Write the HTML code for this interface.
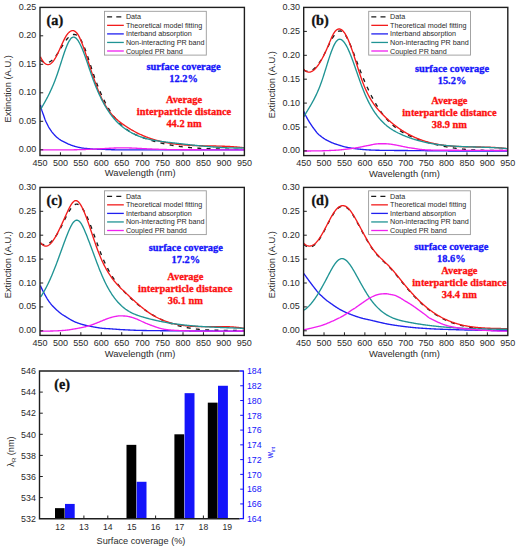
<!DOCTYPE html><html><head><meta charset="utf-8"><style>html,body{margin:0;padding:0;background:#fff;}svg{display:block;}</style></head><body>
<svg width="519" height="550" viewBox="0 0 519 550">
<rect width="519" height="550" fill="#fff"/>
<clipPath id="clipa"><rect x="40.00" y="7.40" width="204.40" height="148.10"/></clipPath>
<g clip-path="url(#clipa)" fill="none" stroke-width="1.35" stroke-linejoin="round" stroke-linecap="butt">
<path d="M40.50,59.98 L41.00,60.43 L41.50,60.84 L42.00,61.21 L42.50,61.53 L43.00,61.82 L43.50,62.06 L44.00,62.26 L44.50,62.42 L45.00,62.54 L45.50,62.62 L46.00,62.67 L46.50,62.67 L47.00,62.64 L47.50,62.56 L48.00,62.45 L48.50,62.30 L49.00,62.12 L49.50,61.90 L50.00,61.64 L50.50,61.34 L51.00,61.02 L51.50,60.65 L52.00,60.25 L52.50,59.82 L53.00,59.36 L53.50,58.86 L54.00,58.32 L54.50,57.76 L55.00,57.16 L55.50,56.53 L56.00,55.87 L56.50,55.18 L57.00,54.46 L57.50,53.71 L58.00,52.95 L58.50,52.16 L59.00,51.36 L59.50,50.55 L60.00,49.73 L60.50,48.90 L61.00,48.07 L61.50,47.25 L62.00,46.42 L62.50,45.60 L63.00,44.79 L63.50,43.99 L64.00,43.21 L64.50,42.45 L65.00,41.71 L65.50,41.00 L66.00,40.32 L66.50,39.66 L67.00,39.04 L67.50,38.45 L68.00,37.90 L68.50,37.39 L69.00,36.91 L69.50,36.47 L70.00,36.07 L70.50,35.71 L71.00,35.40 L71.50,35.13 L72.00,34.90 L72.50,34.73 L73.00,34.60 L73.50,34.52 L74.00,34.49 L74.50,34.51 L75.00,34.59 L75.50,34.72 L76.00,34.91 L76.50,35.16 L77.00,35.47 L77.50,35.83 L78.00,36.26 L78.50,36.75 L79.00,37.31 L79.50,37.93 L80.00,38.61 L80.50,39.37 L81.00,40.20 L81.50,41.09 L82.00,42.05 L82.50,43.08 L83.00,44.17 L83.50,45.31 L84.00,46.50 L84.50,47.75 L85.00,49.03 L85.50,50.36 L86.00,51.73 L86.50,53.13 L87.00,54.56 L87.50,56.02 L88.00,57.50 L88.50,59.00 L89.00,60.51 L89.50,62.04 L90.00,63.57 L90.50,65.11 L91.00,66.64 L91.50,68.18 L92.00,69.70 L92.50,71.22 L93.00,72.72 L93.50,74.20 L94.00,75.66 L94.50,77.10 L95.00,78.51 L95.50,79.90 L96.00,81.27 L96.50,82.61 L97.00,83.93 L97.50,85.22 L98.00,86.50 L98.50,87.75 L99.00,88.98 L99.50,90.19 L100.00,91.37 L100.50,92.54 L101.00,93.68 L101.50,94.80 L102.00,95.90 L102.50,96.98 L103.00,98.05 L103.50,99.09 L104.00,100.11 L104.50,101.11 L105.00,102.09 L105.50,103.05 L106.00,104.00 L106.50,104.92 L107.00,105.83 L107.50,106.72 L108.00,107.59 L108.50,108.44 L109.00,109.28 L109.50,110.10 L110.00,110.90 L110.50,111.69 L111.00,112.45 L111.50,113.20 L112.00,113.94 L112.50,114.66 L113.00,115.36 L113.50,116.05 L114.00,116.73 L114.50,117.38 L115.00,118.03 L115.50,118.66 L116.00,119.27 L116.50,119.87 L117.00,120.46 L117.50,121.03 L118.00,121.59 L118.50,122.14 L119.00,122.68 L119.50,123.20 L120.00,123.71 L120.50,124.20 L121.00,124.69 L121.50,125.16 L122.00,125.62 L122.50,126.07 L123.00,126.51 L123.50,126.94 L124.00,127.36 L124.50,127.77 L125.00,128.16 L125.50,128.55 L126.00,128.93 L126.50,129.30 L127.00,129.66 L127.50,130.01 L128.00,130.35 L128.50,130.68 L129.00,131.01 L129.50,131.32 L130.00,131.63 L130.50,131.93 L131.00,132.22 L131.50,132.51 L132.00,132.79 L132.50,133.06 L133.00,133.33 L133.50,133.59 L134.00,133.85 L134.50,134.09 L135.00,134.34 L135.50,134.57 L136.00,134.81 L136.50,135.03 L137.00,135.26 L137.50,135.48 L138.00,135.69 L138.50,135.90 L139.00,136.11 L139.50,136.31 L140.00,136.51 L140.50,136.71 L141.00,136.90 L141.50,137.10 L142.00,137.29 L142.50,137.47 L143.00,137.66 L143.50,137.84 L144.00,138.02 L144.50,138.20 L145.00,138.38 L145.50,138.56 L146.00,138.73 L146.50,138.90 L147.00,139.07 L147.50,139.24 L148.00,139.40 L148.50,139.57 L149.00,139.73 L149.50,139.89 L150.00,140.05 L150.50,140.20 L151.00,140.36 L151.50,140.51 L152.00,140.66 L152.50,140.81 L153.00,140.95 L153.50,141.10 L154.00,141.24 L154.50,141.38 L155.00,141.52 L155.50,141.66 L156.00,141.80 L156.50,141.93 L157.00,142.06 L157.50,142.19 L158.00,142.32 L158.50,142.45 L159.00,142.58 L159.50,142.70 L160.00,142.82 L160.50,142.94 L161.00,143.06 L161.50,143.18 L162.00,143.30 L162.50,143.41 L163.00,143.52 L163.50,143.63 L164.00,143.74 L164.50,143.85 L165.00,143.96 L165.50,144.06 L166.00,144.17 L166.50,144.27 L167.00,144.37 L167.50,144.47 L168.00,144.57 L168.50,144.66 L169.00,144.76 L169.50,144.85 L170.00,144.94 L170.50,145.03 L171.00,145.12 L171.50,145.21 L172.00,145.29 L172.50,145.38 L173.00,145.46 L173.50,145.54 L174.00,145.63 L174.50,145.70 L175.00,145.78 L175.50,145.86 L176.00,145.94 L176.50,146.01 L177.00,146.08 L177.50,146.16 L178.00,146.23 L178.50,146.30 L179.00,146.36 L179.50,146.43 L180.00,146.50 L180.50,146.56 L181.00,146.63 L181.50,146.69 L182.00,146.75 L182.50,146.81 L183.00,146.87 L183.50,146.93 L184.00,146.98 L184.50,147.04 L185.00,147.10 L185.50,147.15 L186.00,147.20 L186.50,147.25 L187.00,147.30 L187.50,147.35 L188.00,147.40 L188.50,147.45 L189.00,147.50 L189.50,147.54 L190.00,147.59 L190.50,147.63 L191.00,147.68 L191.50,147.72 L192.00,147.76 L192.50,147.80 L193.00,147.84 L193.50,147.88 L194.00,147.92 L194.50,147.95 L195.00,147.99 L195.50,148.03 L196.00,148.06 L196.50,148.10 L197.00,148.13 L197.50,148.16 L198.00,148.19 L198.50,148.22 L199.00,148.25 L199.50,148.28 L200.00,148.31 L200.50,148.34 L201.00,148.37 L201.50,148.40 L202.00,148.42 L202.50,148.45 L203.00,148.47 L203.50,148.50 L204.00,148.52 L204.50,148.54 L205.00,148.57 L205.50,148.59 L206.00,148.61 L206.50,148.63 L207.00,148.65 L207.50,148.67 L208.00,148.69 L208.50,148.71 L209.00,148.73 L209.50,148.75 L210.00,148.76 L210.50,148.78 L211.00,148.80 L211.50,148.82 L212.00,148.83 L212.50,148.85 L213.00,148.86 L213.50,148.88 L214.00,148.89 L214.50,148.91 L215.00,148.92 L215.50,148.93 L216.00,148.95 L216.50,148.96 L217.00,148.97 L217.50,148.98 L218.00,149.00 L218.50,149.01 L219.00,149.02 L219.50,149.03 L220.00,149.04 L220.50,149.05 L221.00,149.06 L221.50,149.07 L222.00,149.08 L222.50,149.10 L223.00,149.11 L223.50,149.12 L224.00,149.13 L224.50,149.14 L225.00,149.15 L225.50,149.15 L226.00,149.16 L226.50,149.17 L227.00,149.18 L227.50,149.19 L228.00,149.20 L228.50,149.21 L229.00,149.22 L229.50,149.23 L230.00,149.24 L230.50,149.25 L231.00,149.26 L231.50,149.27 L232.00,149.28 L232.50,149.29 L233.00,149.30 L233.50,149.31 L234.00,149.32 L234.50,149.33 L235.00,149.34 L235.50,149.35 L236.00,149.36 L236.50,149.37 L237.00,149.39 L237.50,149.40 L238.00,149.41 L238.50,149.42 L239.00,149.43 L239.50,149.45 L240.00,149.46 L240.50,149.47 L241.00,149.48 L241.50,149.50 L242.00,149.51 L242.50,149.53 L243.00,149.54 L243.50,149.56 L244.00,149.57" stroke="#1a1a1a" stroke-dasharray="4,5.3"/>
<path d="M40.50,56.80 L41.00,57.83 L41.50,58.78 L42.00,59.65 L42.50,60.45 L43.00,61.18 L43.50,61.84 L44.00,62.42 L44.50,62.93 L45.00,63.37 L45.50,63.75 L46.00,64.05 L46.50,64.28 L47.00,64.45 L47.50,64.55 L48.00,64.59 L48.50,64.56 L49.00,64.46 L49.50,64.30 L50.00,64.08 L50.50,63.80 L51.00,63.45 L51.50,63.05 L52.00,62.58 L52.50,62.05 L53.00,61.47 L53.50,60.83 L54.00,60.13 L54.50,59.38 L55.00,58.58 L55.50,57.74 L56.00,56.85 L56.50,55.93 L57.00,54.97 L57.50,53.98 L58.00,52.96 L58.50,51.91 L59.00,50.83 L59.50,49.74 L60.00,48.63 L60.50,47.51 L61.00,46.38 L61.50,45.25 L62.00,44.13 L62.50,43.02 L63.00,41.93 L63.50,40.87 L64.00,39.85 L64.50,38.86 L65.00,37.93 L65.50,37.05 L66.00,36.21 L66.50,35.43 L67.00,34.71 L67.50,34.04 L68.00,33.42 L68.50,32.87 L69.00,32.37 L69.50,31.93 L70.00,31.55 L70.50,31.23 L71.00,30.98 L71.50,30.79 L72.00,30.67 L72.50,30.61 L73.00,30.62 L73.50,30.70 L74.00,30.85 L74.50,31.07 L75.00,31.36 L75.50,31.72 L76.00,32.16 L76.50,32.68 L77.00,33.27 L77.50,33.94 L78.00,34.68 L78.50,35.51 L79.00,36.41 L79.50,37.39 L80.00,38.43 L80.50,39.53 L81.00,40.70 L81.50,41.92 L82.00,43.19 L82.50,44.50 L83.00,45.86 L83.50,47.26 L84.00,48.70 L84.50,50.16 L85.00,51.65 L85.50,53.16 L86.00,54.69 L86.50,56.24 L87.00,57.79 L87.50,59.35 L88.00,60.91 L88.50,62.47 L89.00,64.02 L89.50,65.57 L90.00,67.11 L90.50,68.63 L91.00,70.15 L91.50,71.65 L92.00,73.15 L92.50,74.63 L93.00,76.09 L93.50,77.54 L94.00,78.98 L94.50,80.39 L95.00,81.79 L95.50,83.17 L96.00,84.53 L96.50,85.87 L97.00,87.19 L97.50,88.49 L98.00,89.76 L98.50,91.01 L99.00,92.23 L99.50,93.43 L100.00,94.59 L100.50,95.73 L101.00,96.84 L101.50,97.93 L102.00,98.98 L102.50,100.00 L103.00,100.99 L103.50,101.95 L104.00,102.89 L104.50,103.80 L105.00,104.68 L105.50,105.54 L106.00,106.37 L106.50,107.18 L107.00,107.96 L107.50,108.72 L108.00,109.46 L108.50,110.18 L109.00,110.88 L109.50,111.55 L110.00,112.20 L110.50,112.84 L111.00,113.46 L111.50,114.06 L112.00,114.64 L112.50,115.20 L113.00,115.75 L113.50,116.28 L114.00,116.80 L114.50,117.30 L115.00,117.79 L115.50,118.27 L116.00,118.74 L116.50,119.19 L117.00,119.63 L117.50,120.06 L118.00,120.49 L118.50,120.90 L119.00,121.30 L119.50,121.70 L120.00,122.09 L120.50,122.47 L121.00,122.85 L121.50,123.22 L122.00,123.59 L122.50,123.95 L123.00,124.31 L123.50,124.66 L124.00,125.01 L124.50,125.36 L125.00,125.70 L125.50,126.04 L126.00,126.37 L126.50,126.70 L127.00,127.03 L127.50,127.35 L128.00,127.67 L128.50,127.99 L129.00,128.30 L129.50,128.61 L130.00,128.91 L130.50,129.21 L131.00,129.51 L131.50,129.80 L132.00,130.09 L132.50,130.38 L133.00,130.66 L133.50,130.94 L134.00,131.22 L134.50,131.49 L135.00,131.76 L135.50,132.02 L136.00,132.28 L136.50,132.54 L137.00,132.80 L137.50,133.05 L138.00,133.30 L138.50,133.54 L139.00,133.78 L139.50,134.02 L140.00,134.26 L140.50,134.49 L141.00,134.72 L141.50,134.94 L142.00,135.16 L142.50,135.38 L143.00,135.60 L143.50,135.81 L144.00,136.02 L144.50,136.23 L145.00,136.43 L145.50,136.63 L146.00,136.83 L146.50,137.03 L147.00,137.22 L147.50,137.41 L148.00,137.59 L148.50,137.78 L149.00,137.96 L149.50,138.14 L150.00,138.31 L150.50,138.48 L151.00,138.65 L151.50,138.82 L152.00,138.98 L152.50,139.14 L153.00,139.30 L153.50,139.46 L154.00,139.61 L154.50,139.76 L155.00,139.91 L155.50,140.06 L156.00,140.20 L156.50,140.34 L157.00,140.48 L157.50,140.62 L158.00,140.75 L158.50,140.88 L159.00,141.01 L159.50,141.14 L160.00,141.26 L160.50,141.38 L161.00,141.50 L161.50,141.62 L162.00,141.73 L162.50,141.85 L163.00,141.96 L163.50,142.07 L164.00,142.17 L164.50,142.28 L165.00,142.38 L165.50,142.48 L166.00,142.58 L166.50,142.67 L167.00,142.77 L167.50,142.86 L168.00,142.95 L168.50,143.04 L169.00,143.12 L169.50,143.21 L170.00,143.29 L170.50,143.37 L171.00,143.45 L171.50,143.53 L172.00,143.60 L172.50,143.68 L173.00,143.75 L173.50,143.82 L174.00,143.89 L174.50,143.95 L175.00,144.02 L175.50,144.08 L176.00,144.15 L176.50,144.21 L177.00,144.26 L177.50,144.32 L178.00,144.38 L178.50,144.43 L179.00,144.49 L179.50,144.54 L180.00,144.59 L180.50,144.64 L181.00,144.68 L181.50,144.73 L182.00,144.78 L182.50,144.82 L183.00,144.86 L183.50,144.90 L184.00,144.94 L184.50,144.98 L185.00,145.02 L185.50,145.06 L186.00,145.09 L186.50,145.12 L187.00,145.16 L187.50,145.19 L188.00,145.22 L188.50,145.25 L189.00,145.28 L189.50,145.31 L190.00,145.34 L190.50,145.36 L191.00,145.39 L191.50,145.41 L192.00,145.44 L192.50,145.46 L193.00,145.48 L193.50,145.50 L194.00,145.52 L194.50,145.54 L195.00,145.56 L195.50,145.58 L196.00,145.60 L196.50,145.61 L197.00,145.63 L197.50,145.65 L198.00,145.66 L198.50,145.68 L199.00,145.69 L199.50,145.71 L200.00,145.72 L200.50,145.73 L201.00,145.75 L201.50,145.76 L202.00,145.77 L202.50,145.78 L203.00,145.79 L203.50,145.80 L204.00,145.81 L204.50,145.82 L205.00,145.83 L205.50,145.84 L206.00,145.85 L206.50,145.86 L207.00,145.87 L207.50,145.88 L208.00,145.89 L208.50,145.90 L209.00,145.91 L209.50,145.92 L210.00,145.92 L210.50,145.93 L211.00,145.94 L211.50,145.95 L212.00,145.96 L212.50,145.97 L213.00,145.98 L213.50,145.99 L214.00,146.00 L214.50,146.01 L215.00,146.02 L215.50,146.03 L216.00,146.04 L216.50,146.05 L217.00,146.06 L217.50,146.07 L218.00,146.09 L218.50,146.10 L219.00,146.11 L219.50,146.12 L220.00,146.14 L220.50,146.15 L221.00,146.17 L221.50,146.18 L222.00,146.20 L222.50,146.21 L223.00,146.23 L223.50,146.25 L224.00,146.26 L224.50,146.28 L225.00,146.30 L225.50,146.32 L226.00,146.34 L226.50,146.37 L227.00,146.39 L227.50,146.41 L228.00,146.44 L228.50,146.46 L229.00,146.49 L229.50,146.51 L230.00,146.54 L230.50,146.57 L231.00,146.60 L231.50,146.63 L232.00,146.66 L232.50,146.69 L233.00,146.73 L233.50,146.76 L234.00,146.80 L234.50,146.83 L235.00,146.87 L235.50,146.91 L236.00,146.95 L236.50,146.99 L237.00,147.04 L237.50,147.08 L238.00,147.13 L238.50,147.17 L239.00,147.22 L239.50,147.27 L240.00,147.32 L240.50,147.37 L241.00,147.43 L241.50,147.48 L242.00,147.54 L242.50,147.60 L243.00,147.66 L243.50,147.72 L244.00,147.78" stroke="#f21c1c"/>
<path d="M40.50,105.00 L41.00,107.20 L41.50,109.19 L42.00,110.88 L42.50,112.35 L43.00,113.72 L43.50,115.10 L44.00,116.56 L44.50,118.02 L45.00,119.39 L45.50,120.62 L46.00,121.74 L46.50,122.79 L47.00,123.80 L47.50,124.79 L48.00,125.77 L48.50,126.71 L49.00,127.60 L49.50,128.44 L50.00,129.22 L50.50,129.98 L51.00,130.70 L51.50,131.39 L52.00,132.05 L52.50,132.68 L53.00,133.28 L53.50,133.86 L54.00,134.42 L54.50,134.96 L55.00,135.48 L55.50,135.99 L56.00,136.47 L56.50,136.94 L57.00,137.38 L57.50,137.80 L58.00,138.20 L58.50,138.59 L59.00,138.97 L59.50,139.33 L60.00,139.67 L60.50,140.00 L61.00,140.32 L61.50,140.62 L62.00,140.91 L62.50,141.19 L63.00,141.44 L63.50,141.69 L64.00,141.93 L64.50,142.16 L65.00,142.40 L65.50,142.64 L66.00,142.88 L66.50,143.12 L67.00,143.36 L67.50,143.59 L68.00,143.83 L68.50,144.05 L69.00,144.27 L69.50,144.48 L70.00,144.68 L70.50,144.88 L71.00,145.07 L71.50,145.26 L72.00,145.44 L72.50,145.62 L73.00,145.80 L73.50,145.96 L74.00,146.12 L74.50,146.27 L75.00,146.41 L75.50,146.55 L76.00,146.69 L76.50,146.82 L77.00,146.94 L77.50,147.06 L78.00,147.18 L78.50,147.29 L79.00,147.40 L79.50,147.50 L80.00,147.60 L80.50,147.70 L81.00,147.79 L81.50,147.88 L82.00,147.97 L82.50,148.05 L83.00,148.13 L83.50,148.20 L84.00,148.27 L84.50,148.32 L85.00,148.37 L85.50,148.42 L86.00,148.46 L86.50,148.50 L87.00,148.54 L87.50,148.58 L88.00,148.61 L88.50,148.65 L89.00,148.69 L89.50,148.73 L90.00,148.78 L90.50,148.83 L91.00,148.87 L91.50,148.92 L92.00,148.97 L92.50,149.01 L93.00,149.05 L93.50,149.08 L94.00,149.10 L94.50,149.13 L95.00,149.15 L95.50,149.17 L96.00,149.19 L96.50,149.20 L97.00,149.22 L97.50,149.23 L98.00,149.25 L98.50,149.26 L99.00,149.28 L99.50,149.29 L100.00,149.30 L100.50,149.31 L101.00,149.33 L101.50,149.34 L102.00,149.35 L102.50,149.37 L103.00,149.38 L103.50,149.40 L104.00,149.42 L104.50,149.44 L105.00,149.45 L105.50,149.47 L106.00,149.49 L106.50,149.52 L107.00,149.54 L107.50,149.56 L108.00,149.58 L108.50,149.60 L109.00,149.62 L109.50,149.64 L110.00,149.66 L110.50,149.68 L111.00,149.70 L111.50,149.72 L112.00,149.73 L112.50,149.75 L113.00,149.76 L113.50,149.78 L114.00,149.79 L114.50,149.79 L115.00,149.80 L115.50,149.81 L116.00,149.81 L116.50,149.81 L117.00,149.82 L117.50,149.82 L118.00,149.83 L118.50,149.83 L119.00,149.84 L119.50,149.84 L120.00,149.85 L120.50,149.85 L121.00,149.85 L121.50,149.86 L122.00,149.86 L122.50,149.86 L123.00,149.87 L123.50,149.87 L124.00,149.87 L124.50,149.88 L125.00,149.88 L125.50,149.88 L126.00,149.88 L126.50,149.89 L127.00,149.89 L127.50,149.89 L128.00,149.89 L128.50,149.89 L129.00,149.89 L129.50,149.90 L130.00,149.90 L130.50,149.90 L131.00,149.90 L131.50,149.90 L132.00,149.90 L132.50,149.90 L133.00,149.90 L133.50,149.90 L134.00,149.90 L134.50,149.90 L135.00,149.90 L135.50,149.90 L136.00,149.90 L136.50,149.90 L137.00,149.90 L137.50,149.90 L138.00,149.90 L138.50,149.90 L139.00,149.90 L139.50,149.90 L140.00,149.90 L140.50,149.90 L141.00,149.90 L141.50,149.90 L142.00,149.90 L142.50,149.90 L143.00,149.90 L143.50,149.90 L144.00,149.90 L144.50,149.90 L145.00,149.90 L145.50,149.90 L146.00,149.90 L146.50,149.90 L147.00,149.90 L147.50,149.90 L148.00,149.90 L148.50,149.90 L149.00,149.90 L149.50,149.90 L150.00,149.90 L150.50,149.90 L151.00,149.90 L151.50,149.90 L152.00,149.90 L152.50,149.90 L153.00,149.90 L153.50,149.90 L154.00,149.90 L154.50,149.90 L155.00,149.90 L155.50,149.90 L156.00,149.90 L156.50,149.90 L157.00,149.90 L157.50,149.90 L158.00,149.90 L158.50,149.90 L159.00,149.90 L159.50,149.90 L160.00,149.90 L160.50,149.90 L161.00,149.90 L161.50,149.90 L162.00,149.90 L162.50,149.90 L163.00,149.90 L163.50,149.90 L164.00,149.90 L164.50,149.90 L165.00,149.90 L165.50,149.90 L166.00,149.90 L166.50,149.90 L167.00,149.90 L167.50,149.90 L168.00,149.90 L168.50,149.90 L169.00,149.90 L169.50,149.90 L170.00,149.90 L170.50,149.90 L171.00,149.90 L171.50,149.90 L172.00,149.90 L172.50,149.90 L173.00,149.90 L173.50,149.90 L174.00,149.90 L174.50,149.90 L175.00,149.90 L175.50,149.90 L176.00,149.90 L176.50,149.90 L177.00,149.90 L177.50,149.90 L178.00,149.90 L178.50,149.90 L179.00,149.90 L179.50,149.90 L180.00,149.90 L180.50,149.90 L181.00,149.90 L181.50,149.90 L182.00,149.90 L182.50,149.90 L183.00,149.90 L183.50,149.90 L184.00,149.90 L184.50,149.90 L185.00,149.90 L185.50,149.90 L186.00,149.90 L186.50,149.90 L187.00,149.90 L187.50,149.90 L188.00,149.90 L188.50,149.90 L189.00,149.90 L189.50,149.90 L190.00,149.90 L190.50,149.90 L191.00,149.90 L191.50,149.90 L192.00,149.90 L192.50,149.90 L193.00,149.90 L193.50,149.90 L194.00,149.90 L194.50,149.90 L195.00,149.90 L195.50,149.90 L196.00,149.90 L196.50,149.90 L197.00,149.90 L197.50,149.90 L198.00,149.90 L198.50,149.90 L199.00,149.90 L199.50,149.90 L200.00,149.90 L200.50,149.90 L201.00,149.90 L201.50,149.90 L202.00,149.90 L202.50,149.90 L203.00,149.90 L203.50,149.90 L204.00,149.90 L204.50,149.90 L205.00,149.90 L205.50,149.90 L206.00,149.90 L206.50,149.90 L207.00,149.90 L207.50,149.90 L208.00,149.90 L208.50,149.90 L209.00,149.90 L209.50,149.90 L210.00,149.90 L210.50,149.90 L211.00,149.90 L211.50,149.90 L212.00,149.90 L212.50,149.90 L213.00,149.90 L213.50,149.90 L214.00,149.90 L214.50,149.90 L215.00,149.90 L215.50,149.90 L216.00,149.90 L216.50,149.90 L217.00,149.90 L217.50,149.90 L218.00,149.90 L218.50,149.90 L219.00,149.90 L219.50,149.90 L220.00,149.90 L220.50,149.90 L221.00,149.90 L221.50,149.90 L222.00,149.90 L222.50,149.90 L223.00,149.90 L223.50,149.90 L224.00,149.90 L224.50,149.90 L225.00,149.90 L225.50,149.90 L226.00,149.90 L226.50,149.90 L227.00,149.90 L227.50,149.90 L228.00,149.90 L228.50,149.90 L229.00,149.90 L229.50,149.90 L230.00,149.90 L230.50,149.90 L231.00,149.90 L231.50,149.90 L232.00,149.90 L232.50,149.90 L233.00,149.90 L233.50,149.90 L234.00,149.90 L234.50,149.90 L235.00,149.90 L235.50,149.90 L236.00,149.90 L236.50,149.90 L237.00,149.90 L237.50,149.90 L238.00,149.90 L238.50,149.90 L239.00,149.90 L239.50,149.90 L240.00,149.90 L240.50,149.90 L241.00,149.90 L241.50,149.90 L242.00,149.90 L242.50,149.90 L243.00,149.90 L243.50,149.90 L244.00,149.90" stroke="#2020f0"/>
<path d="M40.60,109.39 L41.10,108.55 L41.60,107.71 L42.10,106.86 L42.60,106.00 L43.10,105.14 L43.60,104.27 L44.10,103.39 L44.60,102.51 L45.10,101.61 L45.60,100.70 L46.10,99.78 L46.60,98.85 L47.10,97.90 L47.60,96.94 L48.10,95.97 L48.60,94.97 L49.10,93.96 L49.60,92.93 L50.10,91.89 L50.60,90.82 L51.10,89.73 L51.60,88.62 L52.10,87.48 L52.60,86.33 L53.10,85.14 L53.60,83.93 L54.10,82.70 L54.60,81.43 L55.10,80.14 L55.60,78.82 L56.10,77.47 L56.60,76.09 L57.10,74.67 L57.60,73.23 L58.10,71.75 L58.60,70.24 L59.10,68.71 L59.60,67.16 L60.10,65.60 L60.60,64.03 L61.10,62.46 L61.60,60.90 L62.10,59.34 L62.60,57.79 L63.10,56.26 L63.60,54.75 L64.10,53.27 L64.60,51.83 L65.10,50.42 L65.60,49.05 L66.10,47.74 L66.60,46.47 L67.10,45.27 L67.60,44.12 L68.10,43.05 L68.60,42.05 L69.10,41.13 L69.60,40.29 L70.10,39.54 L70.60,38.88 L71.10,38.32 L71.60,37.87 L72.10,37.52 L72.60,37.28 L73.10,37.14 L73.60,37.10 L74.10,37.16 L74.60,37.31 L75.10,37.55 L75.60,37.87 L76.10,38.28 L76.60,38.77 L77.10,39.34 L77.60,39.98 L78.10,40.69 L78.60,41.47 L79.10,42.32 L79.60,43.22 L80.10,44.19 L80.60,45.21 L81.10,46.28 L81.60,47.40 L82.10,48.57 L82.60,49.77 L83.10,51.02 L83.60,52.31 L84.10,53.62 L84.60,54.97 L85.10,56.35 L85.60,57.75 L86.10,59.16 L86.60,60.60 L87.10,62.05 L87.60,63.51 L88.10,64.98 L88.60,66.46 L89.10,67.93 L89.60,69.41 L90.10,70.88 L90.60,72.34 L91.10,73.79 L91.60,75.23 L92.10,76.64 L92.60,78.04 L93.10,79.42 L93.60,80.77 L94.10,82.10 L94.60,83.40 L95.10,84.69 L95.60,85.94 L96.10,87.18 L96.60,88.39 L97.10,89.58 L97.60,90.75 L98.10,91.90 L98.60,93.03 L99.10,94.13 L99.60,95.22 L100.10,96.28 L100.60,97.32 L101.10,98.35 L101.60,99.35 L102.10,100.33 L102.60,101.30 L103.10,102.24 L103.60,103.17 L104.10,104.07 L104.60,104.96 L105.10,105.83 L105.60,106.69 L106.10,107.52 L106.60,108.34 L107.10,109.14 L107.60,109.93 L108.10,110.69 L108.60,111.45 L109.10,112.18 L109.60,112.90 L110.10,113.60 L110.60,114.29 L111.10,114.97 L111.60,115.63 L112.10,116.27 L112.60,116.90 L113.10,117.52 L113.60,118.12 L114.10,118.71 L114.60,119.28 L115.10,119.85 L115.60,120.40 L116.10,120.93 L116.60,121.46 L117.10,121.97 L117.60,122.47 L118.10,122.96 L118.60,123.44 L119.10,123.91 L119.60,124.37 L120.10,124.82 L120.60,125.25 L121.10,125.68 L121.60,126.10 L122.10,126.51 L122.60,126.90 L123.10,127.29 L123.60,127.68 L124.10,128.05 L124.60,128.41 L125.10,128.77 L125.60,129.12 L126.10,129.46 L126.60,129.80 L127.10,130.13 L127.60,130.45 L128.10,130.76 L128.60,131.07 L129.10,131.37 L129.60,131.67 L130.10,131.96 L130.60,132.25 L131.10,132.53 L131.60,132.80 L132.10,133.07 L132.60,133.33 L133.10,133.59 L133.60,133.84 L134.10,134.08 L134.60,134.32 L135.10,134.56 L135.60,134.79 L136.10,135.01 L136.60,135.23 L137.10,135.45 L137.60,135.66 L138.10,135.86 L138.60,136.06 L139.10,136.26 L139.60,136.45 L140.10,136.64 L140.60,136.82 L141.10,137.00 L141.60,137.17 L142.10,137.34 L142.60,137.51 L143.10,137.67 L143.60,137.83 L144.10,137.98 L144.60,138.13 L145.10,138.28 L145.60,138.42 L146.10,138.56 L146.60,138.70 L147.10,138.83 L147.60,138.96 L148.10,139.08 L148.60,139.21 L149.10,139.33 L149.60,139.44 L150.10,139.56 L150.60,139.67 L151.10,139.77 L151.60,139.88 L152.10,139.98 L152.60,140.08 L153.10,140.18 L153.60,140.27 L154.10,140.37 L154.60,140.46 L155.10,140.54 L155.60,140.63 L156.10,140.71 L156.60,140.80 L157.10,140.88 L157.60,140.95 L158.10,141.03 L158.60,141.10 L159.10,141.18 L159.60,141.25 L160.10,141.32 L160.60,141.39 L161.10,141.45 L161.60,141.52 L162.10,141.58 L162.60,141.65 L163.10,141.71 L163.60,141.77 L164.10,141.83 L164.60,141.89 L165.10,141.95 L165.60,142.01 L166.10,142.07 L166.60,142.13 L167.10,142.19 L167.60,142.24 L168.10,142.30 L168.60,142.36 L169.10,142.41 L169.60,142.47 L170.10,142.53 L170.60,142.58 L171.10,142.64 L171.60,142.70 L172.10,142.75 L172.60,142.81 L173.10,142.87 L173.60,142.93 L174.10,142.98 L174.60,143.04 L175.10,143.10 L175.60,143.16 L176.10,143.21 L176.60,143.27 L177.10,143.33 L177.60,143.38 L178.10,143.44 L178.60,143.50 L179.10,143.56 L179.60,143.61 L180.10,143.67 L180.60,143.73 L181.10,143.79 L181.60,143.84 L182.10,143.90 L182.60,143.96 L183.10,144.01 L183.60,144.07 L184.10,144.13 L184.60,144.19 L185.10,144.24 L185.60,144.30 L186.10,144.35 L186.60,144.41 L187.10,144.47 L187.60,144.52 L188.10,144.58 L188.60,144.63 L189.10,144.69 L189.60,144.74 L190.10,144.80 L190.60,144.85 L191.10,144.91 L191.60,144.96 L192.10,145.02 L192.60,145.07 L193.10,145.12 L193.60,145.18 L194.10,145.23 L194.60,145.28 L195.10,145.34 L195.60,145.39 L196.10,145.44 L196.60,145.49 L197.10,145.54 L197.60,145.59 L198.10,145.65 L198.60,145.70 L199.10,145.75 L199.60,145.80 L200.10,145.85 L200.60,145.89 L201.10,145.94 L201.60,145.99 L202.10,146.04 L202.60,146.09 L203.10,146.13 L203.60,146.18 L204.10,146.23 L204.60,146.27 L205.10,146.32 L205.60,146.36 L206.10,146.41 L206.60,146.45 L207.10,146.50 L207.60,146.54 L208.10,146.58 L208.60,146.63 L209.10,146.67 L209.60,146.71 L210.10,146.75 L210.60,146.79 L211.10,146.83 L211.60,146.87 L212.10,146.91 L212.60,146.95 L213.10,146.98 L213.60,147.02 L214.10,147.06 L214.60,147.09 L215.10,147.13 L215.60,147.16 L216.10,147.20 L216.60,147.23 L217.10,147.26 L217.60,147.30 L218.10,147.33 L218.60,147.36 L219.10,147.39 L219.60,147.42 L220.10,147.45 L220.60,147.48 L221.10,147.51 L221.60,147.53 L222.10,147.56 L222.60,147.58 L223.10,147.61 L223.60,147.63 L224.10,147.66 L224.60,147.68 L225.10,147.70 L225.60,147.72 L226.10,147.74 L226.60,147.76 L227.10,147.78 L227.60,147.80 L228.10,147.82 L228.60,147.84 L229.10,147.85 L229.60,147.87 L230.10,147.88 L230.60,147.90 L231.10,147.91 L231.60,147.92 L232.10,147.93 L232.60,147.94 L233.10,147.95 L233.60,147.96 L234.10,147.97 L234.60,147.97 L235.10,147.98 L235.60,147.98 L236.10,147.99 L236.60,147.99 L237.10,147.99 L237.60,147.99 L238.10,147.99 L238.60,147.99 L239.10,147.99 L239.60,147.99 L240.10,147.99 L240.60,147.98 L241.10,147.98 L241.60,147.97 L242.10,147.96 L242.60,147.95 L243.10,147.94 L243.60,147.93 L244.10,147.92" stroke="#209494"/>
<path d="M40.50,149.90 L41.00,149.90 L41.50,149.90 L42.00,149.90 L42.50,149.90 L43.00,149.90 L43.50,149.90 L44.00,149.90 L44.50,149.90 L45.00,149.90 L45.50,149.90 L46.00,149.90 L46.50,149.90 L47.00,149.90 L47.50,149.90 L48.00,149.90 L48.50,149.90 L49.00,149.90 L49.50,149.90 L50.00,149.90 L50.50,149.90 L51.00,149.90 L51.50,149.90 L52.00,149.90 L52.50,149.90 L53.00,149.90 L53.50,149.90 L54.00,149.90 L54.50,149.90 L55.00,149.90 L55.50,149.90 L56.00,149.90 L56.50,149.90 L57.00,149.90 L57.50,149.90 L58.00,149.90 L58.50,149.90 L59.00,149.90 L59.50,149.90 L60.00,149.90 L60.50,149.90 L61.00,149.90 L61.50,149.90 L62.00,149.90 L62.50,149.90 L63.00,149.90 L63.50,149.90 L64.00,149.90 L64.50,149.90 L65.00,149.90 L65.50,149.90 L66.00,149.90 L66.50,149.90 L67.00,149.89 L67.50,149.89 L68.00,149.89 L68.50,149.88 L69.00,149.87 L69.50,149.87 L70.00,149.86 L70.50,149.85 L71.00,149.85 L71.50,149.84 L72.00,149.83 L72.50,149.82 L73.00,149.81 L73.50,149.80 L74.00,149.78 L74.50,149.77 L75.00,149.76 L75.50,149.75 L76.00,149.74 L76.50,149.72 L77.00,149.71 L77.50,149.70 L78.00,149.68 L78.50,149.67 L79.00,149.65 L79.50,149.64 L80.00,149.63 L80.50,149.61 L81.00,149.60 L81.50,149.58 L82.00,149.57 L82.50,149.55 L83.00,149.54 L83.50,149.52 L84.00,149.51 L84.50,149.49 L85.00,149.48 L85.50,149.46 L86.00,149.45 L86.50,149.43 L87.00,149.41 L87.50,149.39 L88.00,149.37 L88.50,149.35 L89.00,149.33 L89.50,149.30 L90.00,149.28 L90.50,149.26 L91.00,149.24 L91.50,149.21 L92.00,149.19 L92.50,149.17 L93.00,149.14 L93.50,149.12 L94.00,149.10 L94.50,149.07 L95.00,149.05 L95.50,149.02 L96.00,149.00 L96.50,148.97 L97.00,148.95 L97.50,148.92 L98.00,148.89 L98.50,148.87 L99.00,148.84 L99.50,148.81 L100.00,148.79 L100.50,148.76 L101.00,148.73 L101.50,148.71 L102.00,148.68 L102.50,148.65 L103.00,148.63 L103.50,148.60 L104.00,148.57 L104.50,148.55 L105.00,148.52 L105.50,148.49 L106.00,148.46 L106.50,148.44 L107.00,148.41 L107.50,148.38 L108.00,148.35 L108.50,148.32 L109.00,148.29 L109.50,148.26 L110.00,148.24 L110.50,148.21 L111.00,148.18 L111.50,148.16 L112.00,148.13 L112.50,148.11 L113.00,148.08 L113.50,148.06 L114.00,148.04 L114.50,148.02 L115.00,148.00 L115.50,147.98 L116.00,147.96 L116.50,147.94 L117.00,147.92 L117.50,147.90 L118.00,147.88 L118.50,147.86 L119.00,147.85 L119.50,147.83 L120.00,147.82 L120.50,147.81 L121.00,147.80 L121.50,147.80 L122.00,147.80 L122.50,147.80 L123.00,147.81 L123.50,147.81 L124.00,147.82 L124.50,147.83 L125.00,147.84 L125.50,147.85 L126.00,147.86 L126.50,147.88 L127.00,147.89 L127.50,147.90 L128.00,147.92 L128.50,147.94 L129.00,147.95 L129.50,147.97 L130.00,147.99 L130.50,148.01 L131.00,148.03 L131.50,148.04 L132.00,148.06 L132.50,148.08 L133.00,148.10 L133.50,148.11 L134.00,148.13 L134.50,148.15 L135.00,148.18 L135.50,148.20 L136.00,148.22 L136.50,148.25 L137.00,148.28 L137.50,148.30 L138.00,148.33 L138.50,148.36 L139.00,148.39 L139.50,148.42 L140.00,148.45 L140.50,148.47 L141.00,148.50 L141.50,148.53 L142.00,148.56 L142.50,148.59 L143.00,148.61 L143.50,148.64 L144.00,148.67 L144.50,148.69 L145.00,148.71 L145.50,148.74 L146.00,148.76 L146.50,148.79 L147.00,148.81 L147.50,148.83 L148.00,148.86 L148.50,148.88 L149.00,148.90 L149.50,148.92 L150.00,148.95 L150.50,148.97 L151.00,148.99 L151.50,149.01 L152.00,149.04 L152.50,149.06 L153.00,149.08 L153.50,149.10 L154.00,149.12 L154.50,149.14 L155.00,149.16 L155.50,149.17 L156.00,149.19 L156.50,149.21 L157.00,149.23 L157.50,149.25 L158.00,149.26 L158.50,149.28 L159.00,149.30 L159.50,149.32 L160.00,149.34 L160.50,149.35 L161.00,149.37 L161.50,149.39 L162.00,149.40 L162.50,149.42 L163.00,149.44 L163.50,149.45 L164.00,149.47 L164.50,149.48 L165.00,149.50 L165.50,149.51 L166.00,149.52 L166.50,149.54 L167.00,149.55 L167.50,149.56 L168.00,149.57 L168.50,149.58 L169.00,149.59 L169.50,149.59 L170.00,149.60 L170.50,149.61 L171.00,149.61 L171.50,149.62 L172.00,149.62 L172.50,149.63 L173.00,149.63 L173.50,149.64 L174.00,149.64 L174.50,149.65 L175.00,149.65 L175.50,149.66 L176.00,149.66 L176.50,149.67 L177.00,149.67 L177.50,149.68 L178.00,149.68 L178.50,149.68 L179.00,149.69 L179.50,149.69 L180.00,149.70 L180.50,149.70 L181.00,149.70 L181.50,149.71 L182.00,149.71 L182.50,149.71 L183.00,149.72 L183.50,149.72 L184.00,149.72 L184.50,149.73 L185.00,149.73 L185.50,149.73 L186.00,149.74 L186.50,149.74 L187.00,149.74 L187.50,149.75 L188.00,149.75 L188.50,149.75 L189.00,149.75 L189.50,149.76 L190.00,149.76 L190.50,149.76 L191.00,149.76 L191.50,149.77 L192.00,149.77 L192.50,149.77 L193.00,149.77 L193.50,149.78 L194.00,149.78 L194.50,149.78 L195.00,149.78 L195.50,149.78 L196.00,149.79 L196.50,149.79 L197.00,149.79 L197.50,149.79 L198.00,149.79 L198.50,149.79 L199.00,149.80 L199.50,149.80 L200.00,149.80 L200.50,149.80 L201.00,149.80 L201.50,149.81 L202.00,149.81 L202.50,149.81 L203.00,149.81 L203.50,149.81 L204.00,149.81 L204.50,149.82 L205.00,149.82 L205.50,149.82 L206.00,149.82 L206.50,149.82 L207.00,149.82 L207.50,149.83 L208.00,149.83 L208.50,149.83 L209.00,149.83 L209.50,149.83 L210.00,149.83 L210.50,149.84 L211.00,149.84 L211.50,149.84 L212.00,149.84 L212.50,149.84 L213.00,149.84 L213.50,149.84 L214.00,149.85 L214.50,149.85 L215.00,149.85 L215.50,149.85 L216.00,149.85 L216.50,149.85 L217.00,149.85 L217.50,149.86 L218.00,149.86 L218.50,149.86 L219.00,149.86 L219.50,149.86 L220.00,149.86 L220.50,149.86 L221.00,149.87 L221.50,149.87 L222.00,149.87 L222.50,149.87 L223.00,149.87 L223.50,149.87 L224.00,149.87 L224.50,149.87 L225.00,149.88 L225.50,149.88 L226.00,149.88 L226.50,149.88 L227.00,149.88 L227.50,149.88 L228.00,149.88 L228.50,149.88 L229.00,149.88 L229.50,149.88 L230.00,149.89 L230.50,149.89 L231.00,149.89 L231.50,149.89 L232.00,149.89 L232.50,149.89 L233.00,149.89 L233.50,149.89 L234.00,149.89 L234.50,149.89 L235.00,149.89 L235.50,149.89 L236.00,149.89 L236.50,149.90 L237.00,149.90 L237.50,149.90 L238.00,149.90 L238.50,149.90 L239.00,149.90 L239.50,149.90 L240.00,149.90 L240.50,149.90 L241.00,149.90 L241.50,149.90 L242.00,149.90 L242.50,149.90 L243.00,149.90 L243.50,149.90 L244.00,149.90" stroke="#f020f0"/>
</g>
<rect x="40.00" y="7.40" width="204.40" height="148.10" fill="none" stroke="#1e1e1e" stroke-width="1.4"/>
<text x="40.00" y="166.30" text-anchor="middle" font-size="9" fill="#2a2a2a" font-family='"Liberation Sans", sans-serif'>450</text>
<line x1="60.44" y1="155.50" x2="60.44" y2="152.30" stroke="#1e1e1e" stroke-width="1"/>
<text x="60.44" y="166.30" text-anchor="middle" font-size="9" fill="#2a2a2a" font-family='"Liberation Sans", sans-serif'>500</text>
<line x1="80.88" y1="155.50" x2="80.88" y2="152.30" stroke="#1e1e1e" stroke-width="1"/>
<text x="80.88" y="166.30" text-anchor="middle" font-size="9" fill="#2a2a2a" font-family='"Liberation Sans", sans-serif'>550</text>
<line x1="101.32" y1="155.50" x2="101.32" y2="152.30" stroke="#1e1e1e" stroke-width="1"/>
<text x="101.32" y="166.30" text-anchor="middle" font-size="9" fill="#2a2a2a" font-family='"Liberation Sans", sans-serif'>600</text>
<line x1="121.76" y1="155.50" x2="121.76" y2="152.30" stroke="#1e1e1e" stroke-width="1"/>
<text x="121.76" y="166.30" text-anchor="middle" font-size="9" fill="#2a2a2a" font-family='"Liberation Sans", sans-serif'>650</text>
<line x1="142.20" y1="155.50" x2="142.20" y2="152.30" stroke="#1e1e1e" stroke-width="1"/>
<text x="142.20" y="166.30" text-anchor="middle" font-size="9" fill="#2a2a2a" font-family='"Liberation Sans", sans-serif'>700</text>
<line x1="162.64" y1="155.50" x2="162.64" y2="152.30" stroke="#1e1e1e" stroke-width="1"/>
<text x="162.64" y="166.30" text-anchor="middle" font-size="9" fill="#2a2a2a" font-family='"Liberation Sans", sans-serif'>750</text>
<line x1="183.08" y1="155.50" x2="183.08" y2="152.30" stroke="#1e1e1e" stroke-width="1"/>
<text x="183.08" y="166.30" text-anchor="middle" font-size="9" fill="#2a2a2a" font-family='"Liberation Sans", sans-serif'>800</text>
<line x1="203.52" y1="155.50" x2="203.52" y2="152.30" stroke="#1e1e1e" stroke-width="1"/>
<text x="203.52" y="166.30" text-anchor="middle" font-size="9" fill="#2a2a2a" font-family='"Liberation Sans", sans-serif'>850</text>
<line x1="223.96" y1="155.50" x2="223.96" y2="152.30" stroke="#1e1e1e" stroke-width="1"/>
<text x="223.96" y="166.30" text-anchor="middle" font-size="9" fill="#2a2a2a" font-family='"Liberation Sans", sans-serif'>900</text>
<text x="244.40" y="166.30" text-anchor="middle" font-size="9" fill="#2a2a2a" font-family='"Liberation Sans", sans-serif'>950</text>
<line x1="40.00" y1="149.80" x2="43.20" y2="149.80" stroke="#1e1e1e" stroke-width="1"/>
<text x="36.30" y="152.30" text-anchor="end" font-size="9" fill="#2a2a2a" font-family='"Liberation Sans", sans-serif'>0.00</text>
<line x1="40.00" y1="121.30" x2="43.20" y2="121.30" stroke="#1e1e1e" stroke-width="1"/>
<text x="36.30" y="123.80" text-anchor="end" font-size="9" fill="#2a2a2a" font-family='"Liberation Sans", sans-serif'>0.05</text>
<line x1="40.00" y1="92.80" x2="43.20" y2="92.80" stroke="#1e1e1e" stroke-width="1"/>
<text x="36.30" y="95.30" text-anchor="end" font-size="9" fill="#2a2a2a" font-family='"Liberation Sans", sans-serif'>0.10</text>
<line x1="40.00" y1="64.30" x2="43.20" y2="64.30" stroke="#1e1e1e" stroke-width="1"/>
<text x="36.30" y="66.80" text-anchor="end" font-size="9" fill="#2a2a2a" font-family='"Liberation Sans", sans-serif'>0.15</text>
<line x1="40.00" y1="35.80" x2="43.20" y2="35.80" stroke="#1e1e1e" stroke-width="1"/>
<text x="36.30" y="38.30" text-anchor="end" font-size="9" fill="#2a2a2a" font-family='"Liberation Sans", sans-serif'>0.20</text>
<text x="36.30" y="9.80" text-anchor="end" font-size="9" fill="#2a2a2a" font-family='"Liberation Sans", sans-serif'>0.25</text>
<text x="140.15" y="176.20" text-anchor="middle" font-size="9.35" fill="#2a2a2a" font-family='"Liberation Sans", sans-serif'>Wavelength (nm)</text>
<text transform="translate(10.70,88.80) rotate(-90)" text-anchor="middle" font-size="9.3" fill="#2a2a2a" font-family='"Liberation Sans", sans-serif'>Extinction (A.U.)</text>
<text x="46.60" y="25.10" font-size="14.2" font-weight="bold" fill="#111" stroke="#111" stroke-width="0.35" font-family='"Liberation Serif", serif'>(a)</text>
<rect x="104.50" y="11.30" width="101.80" height="43.80" fill="#fff" stroke="#9a9a9a" stroke-width="0.9"/>
<line x1="107.10" y1="16.80" x2="123.80" y2="16.80" stroke="#1a1a1a" stroke-width="1.3" stroke-dasharray="5,4.2"/>
<text x="125.90" y="19.30" font-size="7.2" fill="#2a2a2a" font-family='"Liberation Sans", sans-serif'>Data</text>
<line x1="107.10" y1="25.35" x2="123.80" y2="25.35" stroke="#f21c1c" stroke-width="1.3"/>
<text x="125.90" y="27.85" font-size="7.2" fill="#2a2a2a" font-family='"Liberation Sans", sans-serif'>Theoretical model fitting</text>
<line x1="107.10" y1="33.90" x2="123.80" y2="33.90" stroke="#2020f0" stroke-width="1.3"/>
<text x="125.90" y="36.40" font-size="7.2" fill="#2a2a2a" font-family='"Liberation Sans", sans-serif'>Interband absorption</text>
<line x1="107.10" y1="42.45" x2="123.80" y2="42.45" stroke="#209494" stroke-width="1.3"/>
<text x="125.90" y="44.95" font-size="7.2" fill="#2a2a2a" font-family='"Liberation Sans", sans-serif'>Non-interacting PR band</text>
<line x1="107.10" y1="51.00" x2="123.80" y2="51.00" stroke="#f020f0" stroke-width="1.3"/>
<text x="125.90" y="53.50" font-size="7.2" fill="#2a2a2a" font-family='"Liberation Sans", sans-serif'>Coupled PR band</text>
<text text-anchor="middle" font-size="10.4" font-weight="bold" fill="#1414fa" stroke="#1414fa" stroke-width="0.3" font-family='"Liberation Serif", serif'><tspan x="183.60" y="70.20">surface coverage</tspan><tspan x="183.60" y="82.20">12.2%</tspan></text>
<text text-anchor="middle" font-size="10.4" font-weight="bold" fill="#fc1010" stroke="#fc1010" stroke-width="0.3" font-family='"Liberation Serif", serif'><tspan x="184.00" y="103.20">Average</tspan><tspan x="184.00" y="115.20">interparticle distance</tspan><tspan x="184.00" y="127.20">44.2 nm</tspan></text>
<clipPath id="clipb"><rect x="303.70" y="7.40" width="204.10" height="148.20"/></clipPath>
<g clip-path="url(#clipb)" fill="none" stroke-width="1.35" stroke-linejoin="round" stroke-linecap="butt">
<path d="M303.70,70.18 L304.20,70.44 L304.70,70.67 L305.20,70.85 L305.70,71.00 L306.20,71.12 L306.70,71.20 L307.20,71.25 L307.70,71.26 L308.20,71.24 L308.70,71.19 L309.20,71.10 L309.70,70.98 L310.20,70.82 L310.70,70.64 L311.20,70.42 L311.70,70.17 L312.20,69.88 L312.70,69.57 L313.20,69.23 L313.70,68.85 L314.20,68.45 L314.70,68.01 L315.20,67.55 L315.70,67.06 L316.20,66.53 L316.70,65.98 L317.20,65.40 L317.70,64.79 L318.20,64.16 L318.70,63.50 L319.20,62.81 L319.70,62.09 L320.20,61.34 L320.70,60.57 L321.20,59.78 L321.70,58.96 L322.20,58.11 L322.70,57.24 L323.20,56.34 L323.70,55.42 L324.20,54.48 L324.70,53.51 L325.20,52.52 L325.70,51.51 L326.20,50.49 L326.70,49.46 L327.20,48.42 L327.70,47.37 L328.20,46.33 L328.70,45.30 L329.20,44.27 L329.70,43.26 L330.20,42.26 L330.70,41.28 L331.20,40.33 L331.70,39.41 L332.20,38.52 L332.70,37.66 L333.20,36.85 L333.70,36.07 L334.20,35.35 L334.70,34.67 L335.20,34.04 L335.70,33.46 L336.20,32.94 L336.70,32.47 L337.20,32.06 L337.70,31.72 L338.20,31.43 L338.70,31.21 L339.20,31.06 L339.70,30.97 L340.20,30.96 L340.70,31.02 L341.20,31.16 L341.70,31.37 L342.20,31.66 L342.70,32.03 L343.20,32.46 L343.70,32.97 L344.20,33.54 L344.70,34.17 L345.20,34.86 L345.70,35.61 L346.20,36.42 L346.70,37.27 L347.20,38.18 L347.70,39.14 L348.20,40.14 L348.70,41.18 L349.20,42.26 L349.70,43.37 L350.20,44.52 L350.70,45.70 L351.20,46.91 L351.70,48.15 L352.20,49.41 L352.70,50.69 L353.20,51.98 L353.70,53.30 L354.20,54.62 L354.70,55.96 L355.20,57.30 L355.70,58.64 L356.20,59.99 L356.70,61.34 L357.20,62.69 L357.70,64.02 L358.20,65.35 L358.70,66.67 L359.20,67.98 L359.70,69.27 L360.20,70.56 L360.70,71.83 L361.20,73.09 L361.70,74.33 L362.20,75.56 L362.70,76.78 L363.20,77.99 L363.70,79.19 L364.20,80.37 L364.70,81.54 L365.20,82.69 L365.70,83.83 L366.20,84.96 L366.70,86.08 L367.20,87.18 L367.70,88.26 L368.20,89.34 L368.70,90.40 L369.20,91.44 L369.70,92.47 L370.20,93.49 L370.70,94.49 L371.20,95.48 L371.70,96.45 L372.20,97.41 L372.70,98.36 L373.20,99.28 L373.70,100.20 L374.20,101.10 L374.70,101.98 L375.20,102.85 L375.70,103.70 L376.20,104.54 L376.70,105.37 L377.20,106.18 L377.70,106.97 L378.20,107.76 L378.70,108.53 L379.20,109.28 L379.70,110.02 L380.20,110.75 L380.70,111.47 L381.20,112.17 L381.70,112.86 L382.20,113.54 L382.70,114.20 L383.20,114.86 L383.70,115.50 L384.20,116.13 L384.70,116.74 L385.20,117.35 L385.70,117.94 L386.20,118.52 L386.70,119.10 L387.20,119.66 L387.70,120.20 L388.20,120.74 L388.70,121.27 L389.20,121.79 L389.70,122.30 L390.20,122.79 L390.70,123.28 L391.20,123.76 L391.70,124.22 L392.20,124.68 L392.70,125.13 L393.20,125.57 L393.70,126.00 L394.20,126.42 L394.70,126.84 L395.20,127.24 L395.70,127.64 L396.20,128.03 L396.70,128.41 L397.20,128.78 L397.70,129.14 L398.20,129.50 L398.70,129.85 L399.20,130.19 L399.70,130.52 L400.20,130.85 L400.70,131.17 L401.20,131.49 L401.70,131.80 L402.20,132.10 L402.70,132.39 L403.20,132.68 L403.70,132.97 L404.20,133.24 L404.70,133.52 L405.20,133.78 L405.70,134.05 L406.20,134.30 L406.70,134.55 L407.20,134.80 L407.70,135.04 L408.20,135.28 L408.70,135.52 L409.20,135.75 L409.70,135.97 L410.20,136.19 L410.70,136.41 L411.20,136.63 L411.70,136.84 L412.20,137.05 L412.70,137.25 L413.20,137.45 L413.70,137.65 L414.20,137.85 L414.70,138.05 L415.20,138.24 L415.70,138.43 L416.20,138.62 L416.70,138.80 L417.20,138.99 L417.70,139.17 L418.20,139.35 L418.70,139.53 L419.20,139.71 L419.70,139.88 L420.20,140.06 L420.70,140.23 L421.20,140.40 L421.70,140.57 L422.20,140.73 L422.70,140.90 L423.20,141.06 L423.70,141.22 L424.20,141.38 L424.70,141.54 L425.20,141.70 L425.70,141.85 L426.20,142.00 L426.70,142.15 L427.20,142.30 L427.70,142.45 L428.20,142.59 L428.70,142.74 L429.20,142.88 L429.70,143.02 L430.20,143.16 L430.70,143.30 L431.20,143.43 L431.70,143.57 L432.20,143.70 L432.70,143.83 L433.20,143.96 L433.70,144.09 L434.20,144.21 L434.70,144.34 L435.20,144.46 L435.70,144.58 L436.20,144.70 L436.70,144.82 L437.20,144.94 L437.70,145.05 L438.20,145.17 L438.70,145.28 L439.20,145.39 L439.70,145.50 L440.20,145.61 L440.70,145.71 L441.20,145.82 L441.70,145.92 L442.20,146.02 L442.70,146.12 L443.20,146.22 L443.70,146.32 L444.20,146.42 L444.70,146.51 L445.20,146.61 L445.70,146.70 L446.20,146.79 L446.70,146.88 L447.20,146.97 L447.70,147.05 L448.20,147.14 L448.70,147.22 L449.20,147.30 L449.70,147.39 L450.20,147.47 L450.70,147.54 L451.20,147.62 L451.70,147.70 L452.20,147.77 L452.70,147.85 L453.20,147.92 L453.70,147.99 L454.20,148.06 L454.70,148.13 L455.20,148.20 L455.70,148.26 L456.20,148.33 L456.70,148.39 L457.20,148.45 L457.70,148.52 L458.20,148.58 L458.70,148.64 L459.20,148.69 L459.70,148.75 L460.20,148.81 L460.70,148.86 L461.20,148.91 L461.70,148.97 L462.20,149.02 L462.70,149.07 L463.20,149.12 L463.70,149.17 L464.20,149.21 L464.70,149.26 L465.20,149.30 L465.70,149.35 L466.20,149.39 L466.70,149.43 L467.20,149.47 L467.70,149.51 L468.20,149.55 L468.70,149.59 L469.20,149.63 L469.70,149.66 L470.20,149.70 L470.70,149.73 L471.20,149.76 L471.70,149.80 L472.20,149.83 L472.70,149.86 L473.20,149.89 L473.70,149.91 L474.20,149.94 L474.70,149.97 L475.20,149.99 L475.70,150.02 L476.20,150.04 L476.70,150.07 L477.20,150.09 L477.70,150.11 L478.20,150.13 L478.70,150.15 L479.20,150.17 L479.70,150.19 L480.20,150.21 L480.70,150.22 L481.20,150.24 L481.70,150.25 L482.20,150.27 L482.70,150.28 L483.20,150.29 L483.70,150.31 L484.20,150.32 L484.70,150.33 L485.20,150.34 L485.70,150.35 L486.20,150.36 L486.70,150.36 L487.20,150.37 L487.70,150.38 L488.20,150.38 L488.70,150.39 L489.20,150.39 L489.70,150.40 L490.20,150.40 L490.70,150.40 L491.20,150.41 L491.70,150.41 L492.20,150.41 L492.70,150.41 L493.20,150.41 L493.70,150.41 L494.20,150.41 L494.70,150.41 L495.20,150.40 L495.70,150.40 L496.20,150.40 L496.70,150.39 L497.20,150.39 L497.70,150.39 L498.20,150.38 L498.70,150.37 L499.20,150.37 L499.70,150.36 L500.20,150.35 L500.70,150.35 L501.20,150.34 L501.70,150.33 L502.20,150.32 L502.70,150.31 L503.20,150.30 L503.70,150.29 L504.20,150.28 L504.70,150.27 L505.20,150.26 L505.70,150.25 L506.20,150.24 L506.70,150.23 L507.20,150.21 L507.70,150.20" stroke="#1a1a1a" stroke-dasharray="4,5.3"/>
<path d="M303.70,69.10 L304.20,69.66 L304.70,70.15 L305.20,70.59 L305.70,70.97 L306.20,71.30 L306.70,71.57 L307.20,71.78 L307.70,71.95 L308.20,72.06 L308.70,72.12 L309.20,72.13 L309.70,72.09 L310.20,72.00 L310.70,71.87 L311.20,71.69 L311.70,71.47 L312.20,71.21 L312.70,70.90 L313.20,70.55 L313.70,70.16 L314.20,69.74 L314.70,69.27 L315.20,68.77 L315.70,68.23 L316.20,67.66 L316.70,67.05 L317.20,66.41 L317.70,65.74 L318.20,65.04 L318.70,64.31 L319.20,63.56 L319.70,62.77 L320.20,61.96 L320.70,61.12 L321.20,60.26 L321.70,59.38 L322.20,58.47 L322.70,57.54 L323.20,56.58 L323.70,55.60 L324.20,54.60 L324.70,53.57 L325.20,52.52 L325.70,51.45 L326.20,50.36 L326.70,49.24 L327.20,48.10 L327.70,46.94 L328.20,45.76 L328.70,44.56 L329.20,43.34 L329.70,42.11 L330.20,40.89 L330.70,39.69 L331.20,38.51 L331.70,37.37 L332.20,36.27 L332.70,35.24 L333.20,34.28 L333.70,33.40 L334.20,32.60 L334.70,31.88 L335.20,31.24 L335.70,30.69 L336.20,30.21 L336.70,29.81 L337.20,29.49 L337.70,29.24 L338.20,29.07 L338.70,28.97 L339.20,28.94 L339.70,28.99 L340.20,29.11 L340.70,29.29 L341.20,29.55 L341.70,29.87 L342.20,30.26 L342.70,30.72 L343.20,31.24 L343.70,31.83 L344.20,32.48 L344.70,33.19 L345.20,33.96 L345.70,34.79 L346.20,35.68 L346.70,36.63 L347.20,37.63 L347.70,38.69 L348.20,39.81 L348.70,40.98 L349.20,42.19 L349.70,43.46 L350.20,44.76 L350.70,46.11 L351.20,47.49 L351.70,48.91 L352.20,50.35 L352.70,51.83 L353.20,53.33 L353.70,54.84 L354.20,56.38 L354.70,57.93 L355.20,59.49 L355.70,61.06 L356.20,62.64 L356.70,64.22 L357.20,65.79 L357.70,67.37 L358.20,68.93 L358.70,70.49 L359.20,72.03 L359.70,73.55 L360.20,75.06 L360.70,76.54 L361.20,77.99 L361.70,79.42 L362.20,80.81 L362.70,82.17 L363.20,83.49 L363.70,84.78 L364.20,86.02 L364.70,87.23 L365.20,88.41 L365.70,89.55 L366.20,90.65 L366.70,91.73 L367.20,92.77 L367.70,93.79 L368.20,94.77 L368.70,95.73 L369.20,96.65 L369.70,97.55 L370.20,98.43 L370.70,99.28 L371.20,100.10 L371.70,100.90 L372.20,101.68 L372.70,102.44 L373.20,103.18 L373.70,103.90 L374.20,104.59 L374.70,105.28 L375.20,105.94 L375.70,106.59 L376.20,107.22 L376.70,107.84 L377.20,108.45 L377.70,109.04 L378.20,109.62 L378.70,110.19 L379.20,110.75 L379.70,111.31 L380.20,111.85 L380.70,112.39 L381.20,112.92 L381.70,113.45 L382.20,113.97 L382.70,114.48 L383.20,114.99 L383.70,115.50 L384.20,116.00 L384.70,116.49 L385.20,116.98 L385.70,117.46 L386.20,117.94 L386.70,118.41 L387.20,118.87 L387.70,119.33 L388.20,119.79 L388.70,120.24 L389.20,120.69 L389.70,121.13 L390.20,121.56 L390.70,121.99 L391.20,122.42 L391.70,122.84 L392.20,123.25 L392.70,123.66 L393.20,124.07 L393.70,124.47 L394.20,124.86 L394.70,125.25 L395.20,125.64 L395.70,126.02 L396.20,126.40 L396.70,126.77 L397.20,127.14 L397.70,127.50 L398.20,127.86 L398.70,128.21 L399.20,128.56 L399.70,128.90 L400.20,129.24 L400.70,129.58 L401.20,129.91 L401.70,130.24 L402.20,130.56 L402.70,130.88 L403.20,131.19 L403.70,131.51 L404.20,131.81 L404.70,132.11 L405.20,132.41 L405.70,132.70 L406.20,132.99 L406.70,133.28 L407.20,133.56 L407.70,133.84 L408.20,134.11 L408.70,134.38 L409.20,134.65 L409.70,134.91 L410.20,135.17 L410.70,135.42 L411.20,135.67 L411.70,135.92 L412.20,136.16 L412.70,136.40 L413.20,136.64 L413.70,136.87 L414.20,137.10 L414.70,137.32 L415.20,137.54 L415.70,137.76 L416.20,137.97 L416.70,138.19 L417.20,138.39 L417.70,138.60 L418.20,138.80 L418.70,139.00 L419.20,139.19 L419.70,139.38 L420.20,139.57 L420.70,139.75 L421.20,139.93 L421.70,140.11 L422.20,140.29 L422.70,140.46 L423.20,140.63 L423.70,140.79 L424.20,140.95 L424.70,141.11 L425.20,141.27 L425.70,141.42 L426.20,141.57 L426.70,141.72 L427.20,141.87 L427.70,142.01 L428.20,142.15 L428.70,142.29 L429.20,142.42 L429.70,142.55 L430.20,142.68 L430.70,142.80 L431.20,142.93 L431.70,143.05 L432.20,143.17 L432.70,143.28 L433.20,143.40 L433.70,143.51 L434.20,143.61 L434.70,143.72 L435.20,143.82 L435.70,143.92 L436.20,144.02 L436.70,144.12 L437.20,144.21 L437.70,144.31 L438.20,144.40 L438.70,144.48 L439.20,144.57 L439.70,144.65 L440.20,144.73 L440.70,144.81 L441.20,144.89 L441.70,144.97 L442.20,145.04 L442.70,145.11 L443.20,145.18 L443.70,145.25 L444.20,145.31 L444.70,145.38 L445.20,145.44 L445.70,145.50 L446.20,145.56 L446.70,145.61 L447.20,145.67 L447.70,145.72 L448.20,145.77 L448.70,145.82 L449.20,145.87 L449.70,145.92 L450.20,145.96 L450.70,146.01 L451.20,146.05 L451.70,146.09 L452.20,146.13 L452.70,146.17 L453.20,146.21 L453.70,146.24 L454.20,146.28 L454.70,146.31 L455.20,146.34 L455.70,146.37 L456.20,146.40 L456.70,146.43 L457.20,146.46 L457.70,146.49 L458.20,146.51 L458.70,146.54 L459.20,146.56 L459.70,146.58 L460.20,146.60 L460.70,146.62 L461.20,146.64 L461.70,146.66 L462.20,146.68 L462.70,146.70 L463.20,146.71 L463.70,146.73 L464.20,146.74 L464.70,146.76 L465.20,146.77 L465.70,146.79 L466.20,146.80 L466.70,146.81 L467.20,146.82 L467.70,146.83 L468.20,146.84 L468.70,146.85 L469.20,146.86 L469.70,146.87 L470.20,146.88 L470.70,146.89 L471.20,146.90 L471.70,146.91 L472.20,146.91 L472.70,146.92 L473.20,146.93 L473.70,146.94 L474.20,146.94 L474.70,146.95 L475.20,146.96 L475.70,146.97 L476.20,146.97 L476.70,146.98 L477.20,146.99 L477.70,146.99 L478.20,147.00 L478.70,147.01 L479.20,147.02 L479.70,147.02 L480.20,147.03 L480.70,147.04 L481.20,147.05 L481.70,147.06 L482.20,147.07 L482.70,147.08 L483.20,147.09 L483.70,147.10 L484.20,147.11 L484.70,147.12 L485.20,147.13 L485.70,147.15 L486.20,147.16 L486.70,147.17 L487.20,147.19 L487.70,147.20 L488.20,147.22 L488.70,147.24 L489.20,147.25 L489.70,147.27 L490.20,147.29 L490.70,147.31 L491.20,147.33 L491.70,147.35 L492.20,147.37 L492.70,147.40 L493.20,147.42 L493.70,147.45 L494.20,147.47 L494.70,147.50 L495.20,147.53 L495.70,147.56 L496.20,147.59 L496.70,147.62 L497.20,147.66 L497.70,147.69 L498.20,147.73 L498.70,147.76 L499.20,147.80 L499.70,147.84 L500.20,147.88 L500.70,147.93 L501.20,147.97 L501.70,148.02 L502.20,148.06 L502.70,148.11 L503.20,148.16 L503.70,148.21 L504.20,148.27 L504.70,148.32 L505.20,148.38 L505.70,148.44 L506.20,148.50 L506.70,148.56 L507.20,148.62 L507.70,148.69" stroke="#f21c1c"/>
<path d="M303.70,111.32 L304.20,112.41 L304.70,113.47 L305.20,114.50 L305.70,115.50 L306.20,116.47 L306.70,117.41 L307.20,118.33 L307.70,119.23 L308.20,120.10 L308.70,120.95 L309.20,121.78 L309.70,122.59 L310.20,123.38 L310.70,124.15 L311.20,124.90 L311.70,125.64 L312.20,126.35 L312.70,127.05 L313.20,127.74 L313.70,128.41 L314.20,129.07 L314.70,129.73 L315.20,130.40 L315.70,131.07 L316.20,131.72 L316.70,132.36 L317.20,132.95 L317.70,133.50 L318.20,134.00 L318.70,134.47 L319.20,134.91 L319.70,135.33 L320.20,135.74 L320.70,136.14 L321.20,136.53 L321.70,136.92 L322.20,137.29 L322.70,137.65 L323.20,138.00 L323.70,138.34 L324.20,138.66 L324.70,138.98 L325.20,139.30 L325.70,139.60 L326.20,139.89 L326.70,140.17 L327.20,140.45 L327.70,140.71 L328.20,140.96 L328.70,141.21 L329.20,141.44 L329.70,141.67 L330.20,141.90 L330.70,142.12 L331.20,142.34 L331.70,142.56 L332.20,142.77 L332.70,142.98 L333.20,143.18 L333.70,143.38 L334.20,143.56 L334.70,143.74 L335.20,143.91 L335.70,144.08 L336.20,144.23 L336.70,144.39 L337.20,144.54 L337.70,144.70 L338.20,144.86 L338.70,145.02 L339.20,145.18 L339.70,145.34 L340.20,145.50 L340.70,145.66 L341.20,145.82 L341.70,145.98 L342.20,146.13 L342.70,146.28 L343.20,146.43 L343.70,146.57 L344.20,146.71 L344.70,146.83 L345.20,146.95 L345.70,147.07 L346.20,147.18 L346.70,147.28 L347.20,147.39 L347.70,147.49 L348.20,147.58 L348.70,147.68 L349.20,147.77 L349.70,147.86 L350.20,147.95 L350.70,148.03 L351.20,148.11 L351.70,148.19 L352.20,148.27 L352.70,148.34 L353.20,148.41 L353.70,148.48 L354.20,148.55 L354.70,148.62 L355.20,148.68 L355.70,148.75 L356.20,148.81 L356.70,148.87 L357.20,148.93 L357.70,148.98 L358.20,149.04 L358.70,149.09 L359.20,149.14 L359.70,149.19 L360.20,149.24 L360.70,149.29 L361.20,149.34 L361.70,149.38 L362.20,149.43 L362.70,149.47 L363.20,149.52 L363.70,149.56 L364.20,149.61 L364.70,149.65 L365.20,149.69 L365.70,149.73 L366.20,149.77 L366.70,149.81 L367.20,149.84 L367.70,149.87 L368.20,149.91 L368.70,149.94 L369.20,149.96 L369.70,149.99 L370.20,150.01 L370.70,150.03 L371.20,150.05 L371.70,150.07 L372.20,150.09 L372.70,150.11 L373.20,150.13 L373.70,150.14 L374.20,150.16 L374.70,150.18 L375.20,150.19 L375.70,150.21 L376.20,150.22 L376.70,150.23 L377.20,150.25 L377.70,150.26 L378.20,150.27 L378.70,150.28 L379.20,150.29 L379.70,150.30 L380.20,150.30 L380.70,150.31 L381.20,150.32 L381.70,150.32 L382.20,150.33 L382.70,150.34 L383.20,150.34 L383.70,150.35 L384.20,150.36 L384.70,150.36 L385.20,150.37 L385.70,150.37 L386.20,150.38 L386.70,150.38 L387.20,150.39 L387.70,150.40 L388.20,150.40 L388.70,150.41 L389.20,150.41 L389.70,150.41 L390.20,150.42 L390.70,150.42 L391.20,150.43 L391.70,150.43 L392.20,150.44 L392.70,150.44 L393.20,150.44 L393.70,150.45 L394.20,150.45 L394.70,150.46 L395.20,150.46 L395.70,150.46 L396.20,150.47 L396.70,150.47 L397.20,150.47 L397.70,150.48 L398.20,150.48 L398.70,150.49 L399.20,150.49 L399.70,150.49 L400.20,150.50 L400.70,150.50 L401.20,150.50 L401.70,150.50 L402.20,150.51 L402.70,150.51 L403.20,150.51 L403.70,150.52 L404.20,150.52 L404.70,150.52 L405.20,150.53 L405.70,150.53 L406.20,150.53 L406.70,150.54 L407.20,150.54 L407.70,150.54 L408.20,150.55 L408.70,150.55 L409.20,150.55 L409.70,150.56 L410.20,150.56 L410.70,150.57 L411.20,150.57 L411.70,150.57 L412.20,150.58 L412.70,150.58 L413.20,150.58 L413.70,150.59 L414.20,150.59 L414.70,150.60 L415.20,150.60 L415.70,150.61 L416.20,150.61 L416.70,150.62 L417.20,150.62 L417.70,150.62 L418.20,150.63 L418.70,150.63 L419.20,150.64 L419.70,150.65 L420.20,150.65 L420.70,150.66 L421.20,150.66 L421.70,150.67 L422.20,150.67 L422.70,150.68 L423.20,150.68 L423.70,150.69 L424.20,150.69 L424.70,150.70 L425.20,150.71 L425.70,150.71 L426.20,150.72 L426.70,150.72 L427.20,150.73 L427.70,150.73 L428.20,150.74 L428.70,150.75 L429.20,150.75 L429.70,150.76 L430.20,150.76 L430.70,150.77 L431.20,150.78 L431.70,150.78 L432.20,150.79 L432.70,150.79 L433.20,150.80 L433.70,150.81 L434.20,150.81 L434.70,150.82 L435.20,150.82 L435.70,150.83 L436.20,150.83 L436.70,150.84 L437.20,150.85 L437.70,150.85 L438.20,150.86 L438.70,150.86 L439.20,150.87 L439.70,150.87 L440.20,150.88 L440.70,150.88 L441.20,150.89 L441.70,150.89 L442.20,150.90 L442.70,150.90 L443.20,150.91 L443.70,150.91 L444.20,150.92 L444.70,150.92 L445.20,150.93 L445.70,150.93 L446.20,150.94 L446.70,150.94 L447.20,150.94 L447.70,150.95 L448.20,150.95 L448.70,150.96 L449.20,150.96 L449.70,150.96 L450.20,150.97 L450.70,150.97 L451.20,150.97 L451.70,150.98 L452.20,150.98 L452.70,150.98 L453.20,150.98 L453.70,150.99 L454.20,150.99 L454.70,150.99 L455.20,150.99 L455.70,150.99 L456.20,150.99 L456.70,151.00 L457.20,151.00 L457.70,151.00 L458.20,151.00 L458.70,151.00 L459.20,151.00 L459.70,151.00 L460.20,151.00 L460.70,151.00 L461.20,151.00 L461.70,151.00 L462.20,151.00 L462.70,151.00 L463.20,151.00 L463.70,151.00 L464.20,151.00 L464.70,151.00 L465.20,151.00 L465.70,151.00 L466.20,151.00 L466.70,151.00 L467.20,151.00 L467.70,151.00 L468.20,151.00 L468.70,151.00 L469.20,151.00 L469.70,151.00 L470.20,151.00 L470.70,151.00 L471.20,151.00 L471.70,151.00 L472.20,151.00 L472.70,151.00 L473.20,151.00 L473.70,151.00 L474.20,151.00 L474.70,151.00 L475.20,151.00 L475.70,151.00 L476.20,151.00 L476.70,151.00 L477.20,151.00 L477.70,151.00 L478.20,151.00 L478.70,151.00 L479.20,151.00 L479.70,151.00 L480.20,151.00 L480.70,151.00 L481.20,151.00 L481.70,151.00 L482.20,151.00 L482.70,151.00 L483.20,151.00 L483.70,151.00 L484.20,151.00 L484.70,151.00 L485.20,151.00 L485.70,151.00 L486.20,151.00 L486.70,151.00 L487.20,151.00 L487.70,151.00 L488.20,151.00 L488.70,151.00 L489.20,151.00 L489.70,151.00 L490.20,151.00 L490.70,151.00 L491.20,151.00 L491.70,151.00 L492.20,151.00 L492.70,151.00 L493.20,151.00 L493.70,151.00 L494.20,151.00 L494.70,151.00 L495.20,151.00 L495.70,151.00 L496.20,151.00 L496.70,151.00 L497.20,151.00 L497.70,151.00 L498.20,151.00 L498.70,151.00 L499.20,151.00 L499.70,151.00 L500.20,151.00 L500.70,151.00 L501.20,151.00 L501.70,151.00 L502.20,151.00 L502.70,151.00 L503.20,151.00 L503.70,151.00 L504.20,151.00 L504.70,151.00 L505.20,151.00 L505.70,151.00 L506.20,151.00 L506.70,151.00 L507.20,151.00 L507.70,151.00" stroke="#2020f0"/>
<path d="M303.70,116.89 L304.20,116.04 L304.70,115.20 L305.20,114.37 L305.70,113.54 L306.20,112.71 L306.70,111.89 L307.20,111.07 L307.70,110.24 L308.20,109.42 L308.70,108.59 L309.20,107.76 L309.70,106.93 L310.20,106.08 L310.70,105.23 L311.20,104.36 L311.70,103.49 L312.20,102.60 L312.70,101.69 L313.20,100.77 L313.70,99.84 L314.20,98.88 L314.70,97.91 L315.20,96.91 L315.70,95.89 L316.20,94.84 L316.70,93.77 L317.20,92.67 L317.70,91.55 L318.20,90.39 L318.70,89.20 L319.20,87.98 L319.70,86.72 L320.20,85.43 L320.70,84.10 L321.20,82.73 L321.70,81.32 L322.20,79.87 L322.70,78.39 L323.20,76.87 L323.70,75.32 L324.20,73.75 L324.70,72.17 L325.20,70.57 L325.70,68.96 L326.20,67.35 L326.70,65.74 L327.20,64.13 L327.70,62.54 L328.20,60.96 L328.70,59.39 L329.20,57.86 L329.70,56.35 L330.20,54.87 L330.70,53.44 L331.20,52.05 L331.70,50.70 L332.20,49.41 L332.70,48.17 L333.20,47.00 L333.70,45.89 L334.20,44.86 L334.70,43.90 L335.20,43.02 L335.70,42.23 L336.20,41.52 L336.70,40.92 L337.20,40.41 L337.70,39.99 L338.20,39.67 L338.70,39.45 L339.20,39.31 L339.70,39.26 L340.20,39.30 L340.70,39.42 L341.20,39.61 L341.70,39.89 L342.20,40.24 L342.70,40.66 L343.20,41.15 L343.70,41.71 L344.20,42.34 L344.70,43.02 L345.20,43.77 L345.70,44.58 L346.20,45.43 L346.70,46.35 L347.20,47.31 L347.70,48.32 L348.20,49.38 L348.70,50.47 L349.20,51.61 L349.70,52.79 L350.20,54.00 L350.70,55.25 L351.20,56.52 L351.70,57.83 L352.20,59.16 L352.70,60.51 L353.20,61.88 L353.70,63.27 L354.20,64.68 L354.70,66.10 L355.20,67.53 L355.70,68.97 L356.20,70.41 L356.70,71.86 L357.20,73.31 L357.70,74.75 L358.20,76.20 L358.70,77.63 L359.20,79.06 L359.70,80.48 L360.20,81.88 L360.70,83.26 L361.20,84.63 L361.70,85.98 L362.20,87.30 L362.70,88.59 L363.20,89.86 L363.70,91.10 L364.20,92.32 L364.70,93.50 L365.20,94.66 L365.70,95.80 L366.20,96.91 L366.70,98.00 L367.20,99.06 L367.70,100.10 L368.20,101.11 L368.70,102.10 L369.20,103.07 L369.70,104.01 L370.20,104.94 L370.70,105.84 L371.20,106.72 L371.70,107.58 L372.20,108.42 L372.70,109.24 L373.20,110.04 L373.70,110.82 L374.20,111.59 L374.70,112.33 L375.20,113.06 L375.70,113.76 L376.20,114.46 L376.70,115.13 L377.20,115.79 L377.70,116.43 L378.20,117.06 L378.70,117.67 L379.20,118.27 L379.70,118.85 L380.20,119.42 L380.70,119.97 L381.20,120.51 L381.70,121.04 L382.20,121.56 L382.70,122.07 L383.20,122.56 L383.70,123.04 L384.20,123.51 L384.70,123.97 L385.20,124.42 L385.70,124.85 L386.20,125.28 L386.70,125.70 L387.20,126.10 L387.70,126.50 L388.20,126.89 L388.70,127.26 L389.20,127.63 L389.70,127.99 L390.20,128.35 L390.70,128.69 L391.20,129.02 L391.70,129.35 L392.20,129.67 L392.70,129.99 L393.20,130.29 L393.70,130.59 L394.20,130.88 L394.70,131.17 L395.20,131.45 L395.70,131.72 L396.20,131.99 L396.70,132.25 L397.20,132.51 L397.70,132.77 L398.20,133.01 L398.70,133.26 L399.20,133.50 L399.70,133.73 L400.20,133.97 L400.70,134.19 L401.20,134.42 L401.70,134.64 L402.20,134.86 L402.70,135.08 L403.20,135.29 L403.70,135.51 L404.20,135.71 L404.70,135.92 L405.20,136.12 L405.70,136.32 L406.20,136.52 L406.70,136.72 L407.20,136.91 L407.70,137.10 L408.20,137.29 L408.70,137.48 L409.20,137.66 L409.70,137.84 L410.20,138.02 L410.70,138.19 L411.20,138.37 L411.70,138.54 L412.20,138.70 L412.70,138.87 L413.20,139.03 L413.70,139.19 L414.20,139.35 L414.70,139.51 L415.20,139.66 L415.70,139.82 L416.20,139.97 L416.70,140.11 L417.20,140.26 L417.70,140.40 L418.20,140.54 L418.70,140.68 L419.20,140.82 L419.70,140.95 L420.20,141.08 L420.70,141.21 L421.20,141.34 L421.70,141.47 L422.20,141.59 L422.70,141.71 L423.20,141.83 L423.70,141.95 L424.20,142.07 L424.70,142.18 L425.20,142.30 L425.70,142.41 L426.20,142.51 L426.70,142.62 L427.20,142.73 L427.70,142.83 L428.20,142.93 L428.70,143.03 L429.20,143.13 L429.70,143.22 L430.20,143.32 L430.70,143.41 L431.20,143.50 L431.70,143.59 L432.20,143.68 L432.70,143.76 L433.20,143.85 L433.70,143.93 L434.20,144.01 L434.70,144.09 L435.20,144.17 L435.70,144.24 L436.20,144.32 L436.70,144.39 L437.20,144.46 L437.70,144.53 L438.20,144.60 L438.70,144.67 L439.20,144.73 L439.70,144.80 L440.20,144.86 L440.70,144.92 L441.20,144.99 L441.70,145.04 L442.20,145.10 L442.70,145.16 L443.20,145.22 L443.70,145.27 L444.20,145.32 L444.70,145.37 L445.20,145.43 L445.70,145.47 L446.20,145.52 L446.70,145.57 L447.20,145.62 L447.70,145.66 L448.20,145.71 L448.70,145.75 L449.20,145.79 L449.70,145.83 L450.20,145.87 L450.70,145.91 L451.20,145.95 L451.70,145.99 L452.20,146.02 L452.70,146.06 L453.20,146.09 L453.70,146.13 L454.20,146.16 L454.70,146.19 L455.20,146.22 L455.70,146.25 L456.20,146.28 L456.70,146.31 L457.20,146.34 L457.70,146.37 L458.20,146.39 L458.70,146.42 L459.20,146.44 L459.70,146.47 L460.20,146.49 L460.70,146.52 L461.20,146.54 L461.70,146.56 L462.20,146.58 L462.70,146.60 L463.20,146.62 L463.70,146.64 L464.20,146.66 L464.70,146.68 L465.20,146.70 L465.70,146.72 L466.20,146.74 L466.70,146.76 L467.20,146.77 L467.70,146.79 L468.20,146.81 L468.70,146.82 L469.20,146.84 L469.70,146.86 L470.20,146.87 L470.70,146.89 L471.20,146.90 L471.70,146.92 L472.20,146.93 L472.70,146.95 L473.20,146.96 L473.70,146.98 L474.20,146.99 L474.70,147.00 L475.20,147.02 L475.70,147.03 L476.20,147.05 L476.70,147.06 L477.20,147.07 L477.70,147.09 L478.20,147.10 L478.70,147.12 L479.20,147.13 L479.70,147.15 L480.20,147.16 L480.70,147.17 L481.20,147.19 L481.70,147.20 L482.20,147.22 L482.70,147.24 L483.20,147.25 L483.70,147.27 L484.20,147.28 L484.70,147.30 L485.20,147.32 L485.70,147.33 L486.20,147.35 L486.70,147.37 L487.20,147.39 L487.70,147.41 L488.20,147.42 L488.70,147.44 L489.20,147.46 L489.70,147.48 L490.20,147.51 L490.70,147.53 L491.20,147.55 L491.70,147.57 L492.20,147.59 L492.70,147.62 L493.20,147.64 L493.70,147.67 L494.20,147.69 L494.70,147.72 L495.20,147.75 L495.70,147.77 L496.20,147.80 L496.70,147.83 L497.20,147.86 L497.70,147.89 L498.20,147.92 L498.70,147.95 L499.20,147.99 L499.70,148.02 L500.20,148.06 L500.70,148.09 L501.20,148.13 L501.70,148.17 L502.20,148.20 L502.70,148.24 L503.20,148.28 L503.70,148.32 L504.20,148.37 L504.70,148.41 L505.20,148.45 L505.70,148.50 L506.20,148.55 L506.70,148.59 L507.20,148.64 L507.70,148.69" stroke="#209494"/>
<path d="M303.70,151.00 L304.20,151.00 L304.70,150.99 L305.20,150.99 L305.70,150.99 L306.20,150.98 L306.70,150.98 L307.20,150.98 L307.70,150.97 L308.20,150.97 L308.70,150.96 L309.20,150.96 L309.70,150.95 L310.20,150.95 L310.70,150.95 L311.20,150.94 L311.70,150.94 L312.20,150.93 L312.70,150.92 L313.20,150.92 L313.70,150.91 L314.20,150.91 L314.70,150.90 L315.20,150.90 L315.70,150.89 L316.20,150.89 L316.70,150.88 L317.20,150.87 L317.70,150.87 L318.20,150.86 L318.70,150.86 L319.20,150.85 L319.70,150.84 L320.20,150.83 L320.70,150.82 L321.20,150.82 L321.70,150.81 L322.20,150.80 L322.70,150.78 L323.20,150.77 L323.70,150.76 L324.20,150.74 L324.70,150.72 L325.20,150.70 L325.70,150.69 L326.20,150.67 L326.70,150.64 L327.20,150.62 L327.70,150.60 L328.20,150.58 L328.70,150.56 L329.20,150.54 L329.70,150.51 L330.20,150.49 L330.70,150.47 L331.20,150.45 L331.70,150.43 L332.20,150.40 L332.70,150.38 L333.20,150.36 L333.70,150.33 L334.20,150.31 L334.70,150.28 L335.20,150.25 L335.70,150.23 L336.20,150.20 L336.70,150.17 L337.20,150.13 L337.70,150.10 L338.20,150.06 L338.70,150.02 L339.20,149.98 L339.70,149.93 L340.20,149.89 L340.70,149.84 L341.20,149.78 L341.70,149.73 L342.20,149.67 L342.70,149.61 L343.20,149.56 L343.70,149.50 L344.20,149.44 L344.70,149.38 L345.20,149.32 L345.70,149.27 L346.20,149.21 L346.70,149.15 L347.20,149.09 L347.70,149.03 L348.20,148.96 L348.70,148.90 L349.20,148.84 L349.70,148.77 L350.20,148.71 L350.70,148.64 L351.20,148.57 L351.70,148.50 L352.20,148.43 L352.70,148.36 L353.20,148.29 L353.70,148.21 L354.20,148.14 L354.70,148.06 L355.20,147.98 L355.70,147.90 L356.20,147.82 L356.70,147.73 L357.20,147.65 L357.70,147.56 L358.20,147.48 L358.70,147.39 L359.20,147.30 L359.70,147.21 L360.20,147.11 L360.70,147.02 L361.20,146.92 L361.70,146.82 L362.20,146.71 L362.70,146.60 L363.20,146.49 L363.70,146.38 L364.20,146.27 L364.70,146.16 L365.20,146.06 L365.70,145.96 L366.20,145.87 L366.70,145.78 L367.20,145.68 L367.70,145.59 L368.20,145.50 L368.70,145.41 L369.20,145.32 L369.70,145.22 L370.20,145.12 L370.70,145.01 L371.20,144.90 L371.70,144.78 L372.20,144.66 L372.70,144.55 L373.20,144.44 L373.70,144.35 L374.20,144.26 L374.70,144.19 L375.20,144.12 L375.70,144.04 L376.20,143.98 L376.70,143.91 L377.20,143.85 L377.70,143.80 L378.20,143.75 L378.70,143.72 L379.20,143.70 L379.70,143.70 L380.20,143.70 L380.70,143.70 L381.20,143.70 L381.70,143.70 L382.20,143.70 L382.70,143.70 L383.20,143.70 L383.70,143.70 L384.20,143.70 L384.70,143.70 L385.20,143.72 L385.70,143.74 L386.20,143.76 L386.70,143.80 L387.20,143.84 L387.70,143.88 L388.20,143.92 L388.70,143.96 L389.20,144.01 L389.70,144.06 L390.20,144.12 L390.70,144.19 L391.20,144.26 L391.70,144.34 L392.20,144.42 L392.70,144.50 L393.20,144.58 L393.70,144.67 L394.20,144.75 L394.70,144.84 L395.20,144.93 L395.70,145.02 L396.20,145.11 L396.70,145.21 L397.20,145.30 L397.70,145.40 L398.20,145.50 L398.70,145.60 L399.20,145.70 L399.70,145.80 L400.20,145.91 L400.70,146.01 L401.20,146.12 L401.70,146.22 L402.20,146.33 L402.70,146.43 L403.20,146.54 L403.70,146.64 L404.20,146.75 L404.70,146.85 L405.20,146.96 L405.70,147.07 L406.20,147.18 L406.70,147.28 L407.20,147.38 L407.70,147.48 L408.20,147.57 L408.70,147.65 L409.20,147.73 L409.70,147.80 L410.20,147.87 L410.70,147.94 L411.20,148.01 L411.70,148.07 L412.20,148.14 L412.70,148.21 L413.20,148.27 L413.70,148.34 L414.20,148.41 L414.70,148.48 L415.20,148.56 L415.70,148.65 L416.20,148.74 L416.70,148.84 L417.20,148.93 L417.70,149.02 L418.20,149.11 L418.70,149.18 L419.20,149.25 L419.70,149.31 L420.20,149.36 L420.70,149.41 L421.20,149.46 L421.70,149.51 L422.20,149.56 L422.70,149.60 L423.20,149.64 L423.70,149.68 L424.20,149.72 L424.70,149.76 L425.20,149.80 L425.70,149.83 L426.20,149.86 L426.70,149.89 L427.20,149.91 L427.70,149.94 L428.20,149.96 L428.70,149.98 L429.20,150.00 L429.70,150.01 L430.20,150.03 L430.70,150.04 L431.20,150.05 L431.70,150.07 L432.20,150.08 L432.70,150.09 L433.20,150.10 L433.70,150.11 L434.20,150.12 L434.70,150.13 L435.20,150.14 L435.70,150.15 L436.20,150.16 L436.70,150.16 L437.20,150.17 L437.70,150.18 L438.20,150.18 L438.70,150.19 L439.20,150.19 L439.70,150.20 L440.20,150.20 L440.70,150.21 L441.20,150.21 L441.70,150.21 L442.20,150.22 L442.70,150.22 L443.20,150.22 L443.70,150.23 L444.20,150.23 L444.70,150.23 L445.20,150.24 L445.70,150.24 L446.20,150.24 L446.70,150.24 L447.20,150.25 L447.70,150.25 L448.20,150.25 L448.70,150.25 L449.20,150.26 L449.70,150.26 L450.20,150.26 L450.70,150.26 L451.20,150.26 L451.70,150.27 L452.20,150.27 L452.70,150.27 L453.20,150.27 L453.70,150.27 L454.20,150.28 L454.70,150.28 L455.20,150.28 L455.70,150.28 L456.20,150.28 L456.70,150.29 L457.20,150.29 L457.70,150.29 L458.20,150.29 L458.70,150.29 L459.20,150.30 L459.70,150.30 L460.20,150.30 L460.70,150.30 L461.20,150.31 L461.70,150.31 L462.20,150.31 L462.70,150.31 L463.20,150.31 L463.70,150.32 L464.20,150.32 L464.70,150.32 L465.20,150.32 L465.70,150.33 L466.20,150.33 L466.70,150.33 L467.20,150.33 L467.70,150.34 L468.20,150.34 L468.70,150.34 L469.20,150.34 L469.70,150.34 L470.20,150.35 L470.70,150.35 L471.20,150.35 L471.70,150.35 L472.20,150.36 L472.70,150.36 L473.20,150.36 L473.70,150.36 L474.20,150.36 L474.70,150.37 L475.20,150.37 L475.70,150.37 L476.20,150.37 L476.70,150.38 L477.20,150.38 L477.70,150.38 L478.20,150.38 L478.70,150.38 L479.20,150.39 L479.70,150.39 L480.20,150.39 L480.70,150.39 L481.20,150.39 L481.70,150.40 L482.20,150.40 L482.70,150.40 L483.20,150.40 L483.70,150.41 L484.20,150.41 L484.70,150.41 L485.20,150.41 L485.70,150.41 L486.20,150.42 L486.70,150.42 L487.20,150.42 L487.70,150.42 L488.20,150.42 L488.70,150.43 L489.20,150.43 L489.70,150.43 L490.20,150.43 L490.70,150.43 L491.20,150.44 L491.70,150.44 L492.20,150.44 L492.70,150.44 L493.20,150.44 L493.70,150.45 L494.20,150.45 L494.70,150.45 L495.20,150.45 L495.70,150.45 L496.20,150.46 L496.70,150.46 L497.20,150.46 L497.70,150.46 L498.20,150.46 L498.70,150.47 L499.20,150.47 L499.70,150.47 L500.20,150.47 L500.70,150.47 L501.20,150.48 L501.70,150.48 L502.20,150.48 L502.70,150.48 L503.20,150.48 L503.70,150.48 L504.20,150.49 L504.70,150.49 L505.20,150.49 L505.70,150.49 L506.20,150.49 L506.70,150.50 L507.20,150.50 L507.70,150.50" stroke="#f020f0"/>
</g>
<rect x="303.70" y="7.40" width="204.10" height="148.20" fill="none" stroke="#1e1e1e" stroke-width="1.4"/>
<text x="303.70" y="166.40" text-anchor="middle" font-size="9" fill="#2a2a2a" font-family='"Liberation Sans", sans-serif'>450</text>
<line x1="324.11" y1="155.60" x2="324.11" y2="152.40" stroke="#1e1e1e" stroke-width="1"/>
<text x="324.11" y="166.40" text-anchor="middle" font-size="9" fill="#2a2a2a" font-family='"Liberation Sans", sans-serif'>500</text>
<line x1="344.52" y1="155.60" x2="344.52" y2="152.40" stroke="#1e1e1e" stroke-width="1"/>
<text x="344.52" y="166.40" text-anchor="middle" font-size="9" fill="#2a2a2a" font-family='"Liberation Sans", sans-serif'>550</text>
<line x1="364.93" y1="155.60" x2="364.93" y2="152.40" stroke="#1e1e1e" stroke-width="1"/>
<text x="364.93" y="166.40" text-anchor="middle" font-size="9" fill="#2a2a2a" font-family='"Liberation Sans", sans-serif'>600</text>
<line x1="385.34" y1="155.60" x2="385.34" y2="152.40" stroke="#1e1e1e" stroke-width="1"/>
<text x="385.34" y="166.40" text-anchor="middle" font-size="9" fill="#2a2a2a" font-family='"Liberation Sans", sans-serif'>650</text>
<line x1="405.75" y1="155.60" x2="405.75" y2="152.40" stroke="#1e1e1e" stroke-width="1"/>
<text x="405.75" y="166.40" text-anchor="middle" font-size="9" fill="#2a2a2a" font-family='"Liberation Sans", sans-serif'>700</text>
<line x1="426.16" y1="155.60" x2="426.16" y2="152.40" stroke="#1e1e1e" stroke-width="1"/>
<text x="426.16" y="166.40" text-anchor="middle" font-size="9" fill="#2a2a2a" font-family='"Liberation Sans", sans-serif'>750</text>
<line x1="446.57" y1="155.60" x2="446.57" y2="152.40" stroke="#1e1e1e" stroke-width="1"/>
<text x="446.57" y="166.40" text-anchor="middle" font-size="9" fill="#2a2a2a" font-family='"Liberation Sans", sans-serif'>800</text>
<line x1="466.98" y1="155.60" x2="466.98" y2="152.40" stroke="#1e1e1e" stroke-width="1"/>
<text x="466.98" y="166.40" text-anchor="middle" font-size="9" fill="#2a2a2a" font-family='"Liberation Sans", sans-serif'>850</text>
<line x1="487.39" y1="155.60" x2="487.39" y2="152.40" stroke="#1e1e1e" stroke-width="1"/>
<text x="487.39" y="166.40" text-anchor="middle" font-size="9" fill="#2a2a2a" font-family='"Liberation Sans", sans-serif'>900</text>
<text x="507.80" y="166.40" text-anchor="middle" font-size="9" fill="#2a2a2a" font-family='"Liberation Sans", sans-serif'>950</text>
<line x1="303.70" y1="150.90" x2="306.90" y2="150.90" stroke="#1e1e1e" stroke-width="1"/>
<text x="300.00" y="153.40" text-anchor="end" font-size="9" fill="#2a2a2a" font-family='"Liberation Sans", sans-serif'>0.00</text>
<line x1="303.70" y1="127.00" x2="306.90" y2="127.00" stroke="#1e1e1e" stroke-width="1"/>
<text x="300.00" y="129.50" text-anchor="end" font-size="9" fill="#2a2a2a" font-family='"Liberation Sans", sans-serif'>0.05</text>
<line x1="303.70" y1="103.10" x2="306.90" y2="103.10" stroke="#1e1e1e" stroke-width="1"/>
<text x="300.00" y="105.60" text-anchor="end" font-size="9" fill="#2a2a2a" font-family='"Liberation Sans", sans-serif'>0.10</text>
<line x1="303.70" y1="79.20" x2="306.90" y2="79.20" stroke="#1e1e1e" stroke-width="1"/>
<text x="300.00" y="81.70" text-anchor="end" font-size="9" fill="#2a2a2a" font-family='"Liberation Sans", sans-serif'>0.15</text>
<line x1="303.70" y1="55.30" x2="306.90" y2="55.30" stroke="#1e1e1e" stroke-width="1"/>
<text x="300.00" y="57.80" text-anchor="end" font-size="9" fill="#2a2a2a" font-family='"Liberation Sans", sans-serif'>0.20</text>
<line x1="303.70" y1="31.40" x2="306.90" y2="31.40" stroke="#1e1e1e" stroke-width="1"/>
<text x="300.00" y="33.90" text-anchor="end" font-size="9" fill="#2a2a2a" font-family='"Liberation Sans", sans-serif'>0.25</text>
<text x="300.00" y="10.00" text-anchor="end" font-size="9" fill="#2a2a2a" font-family='"Liberation Sans", sans-serif'>0.30</text>
<text x="404.50" y="177.40" text-anchor="middle" font-size="9.35" fill="#2a2a2a" font-family='"Liberation Sans", sans-serif'>Wavelength (nm)</text>
<text transform="translate(274.50,84.70) rotate(-90)" text-anchor="middle" font-size="9.3" fill="#2a2a2a" font-family='"Liberation Sans", sans-serif'>Extinction (A.U.)</text>
<text x="311.40" y="25.10" font-size="14.2" font-weight="bold" fill="#111" stroke="#111" stroke-width="0.35" font-family='"Liberation Serif", serif'>(b)</text>
<rect x="368.70" y="11.30" width="101.80" height="43.80" fill="#fff" stroke="#9a9a9a" stroke-width="0.9"/>
<line x1="371.30" y1="16.80" x2="388.00" y2="16.80" stroke="#1a1a1a" stroke-width="1.3" stroke-dasharray="5,4.2"/>
<text x="390.10" y="19.30" font-size="7.2" fill="#2a2a2a" font-family='"Liberation Sans", sans-serif'>Data</text>
<line x1="371.30" y1="25.35" x2="388.00" y2="25.35" stroke="#f21c1c" stroke-width="1.3"/>
<text x="390.10" y="27.85" font-size="7.2" fill="#2a2a2a" font-family='"Liberation Sans", sans-serif'>Theoretical model fitting</text>
<line x1="371.30" y1="33.90" x2="388.00" y2="33.90" stroke="#2020f0" stroke-width="1.3"/>
<text x="390.10" y="36.40" font-size="7.2" fill="#2a2a2a" font-family='"Liberation Sans", sans-serif'>Interband absorption</text>
<line x1="371.30" y1="42.45" x2="388.00" y2="42.45" stroke="#209494" stroke-width="1.3"/>
<text x="390.10" y="44.95" font-size="7.2" fill="#2a2a2a" font-family='"Liberation Sans", sans-serif'>Non-interacting PR band</text>
<line x1="371.30" y1="51.00" x2="388.00" y2="51.00" stroke="#f020f0" stroke-width="1.3"/>
<text x="390.10" y="53.50" font-size="7.2" fill="#2a2a2a" font-family='"Liberation Sans", sans-serif'>Coupled PR band</text>
<text text-anchor="middle" font-size="10.4" font-weight="bold" fill="#1414fa" stroke="#1414fa" stroke-width="0.3" font-family='"Liberation Serif", serif'><tspan x="452.00" y="71.60">surface coverage</tspan><tspan x="452.00" y="83.60">15.2%</tspan></text>
<text text-anchor="middle" font-size="10.4" font-weight="bold" fill="#fc1010" stroke="#fc1010" stroke-width="0.3" font-family='"Liberation Serif", serif'><tspan x="449.40" y="104.00">Average</tspan><tspan x="449.40" y="116.00">interparticle distance</tspan><tspan x="449.40" y="128.00">38.9 nm</tspan></text>
<clipPath id="clipc"><rect x="40.00" y="187.40" width="204.30" height="148.00"/></clipPath>
<g clip-path="url(#clipc)" fill="none" stroke-width="1.35" stroke-linejoin="round" stroke-linecap="butt">
<path d="M40.50,243.57 L41.00,243.82 L41.50,244.04 L42.00,244.21 L42.50,244.36 L43.00,244.47 L43.50,244.54 L44.00,244.59 L44.50,244.59 L45.00,244.57 L45.50,244.50 L46.00,244.41 L46.50,244.28 L47.00,244.12 L47.50,243.93 L48.00,243.71 L48.50,243.45 L49.00,243.16 L49.50,242.84 L50.00,242.48 L50.50,242.10 L51.00,241.68 L51.50,241.23 L52.00,240.76 L52.50,240.25 L53.00,239.71 L53.50,239.14 L54.00,238.54 L54.50,237.91 L55.00,237.25 L55.50,236.56 L56.00,235.84 L56.50,235.10 L57.00,234.32 L57.50,233.51 L58.00,232.68 L58.50,231.82 L59.00,230.93 L59.50,230.02 L60.00,229.08 L60.50,228.11 L61.00,227.13 L61.50,226.14 L62.00,225.13 L62.50,224.11 L63.00,223.08 L63.50,222.05 L64.00,221.03 L64.50,220.00 L65.00,218.98 L65.50,217.97 L66.00,216.97 L66.50,215.99 L67.00,215.02 L67.50,214.07 L68.00,213.15 L68.50,212.26 L69.00,211.39 L69.50,210.56 L70.00,209.77 L70.50,209.02 L71.00,208.30 L71.50,207.64 L72.00,207.02 L72.50,206.45 L73.00,205.94 L73.50,205.48 L74.00,205.09 L74.50,204.76 L75.00,204.50 L75.50,204.30 L76.00,204.18 L76.50,204.13 L77.00,204.15 L77.50,204.24 L78.00,204.40 L78.50,204.62 L79.00,204.90 L79.50,205.24 L80.00,205.65 L80.50,206.11 L81.00,206.63 L81.50,207.21 L82.00,207.84 L82.50,208.52 L83.00,209.25 L83.50,210.03 L84.00,210.85 L84.50,211.73 L85.00,212.64 L85.50,213.60 L86.00,214.60 L86.50,215.64 L87.00,216.72 L87.50,217.83 L88.00,218.98 L88.50,220.16 L89.00,221.37 L89.50,222.61 L90.00,223.87 L90.50,225.16 L91.00,226.47 L91.50,227.80 L92.00,229.14 L92.50,230.50 L93.00,231.87 L93.50,233.26 L94.00,234.65 L94.50,236.05 L95.00,237.45 L95.50,238.85 L96.00,240.25 L96.50,241.65 L97.00,243.05 L97.50,244.44 L98.00,245.82 L98.50,247.19 L99.00,248.54 L99.50,249.88 L100.00,251.20 L100.50,252.50 L101.00,253.78 L101.50,255.04 L102.00,256.26 L102.50,257.47 L103.00,258.64 L103.50,259.80 L104.00,260.93 L104.50,262.03 L105.00,263.11 L105.50,264.17 L106.00,265.20 L106.50,266.22 L107.00,267.21 L107.50,268.18 L108.00,269.13 L108.50,270.06 L109.00,270.97 L109.50,271.87 L110.00,272.74 L110.50,273.59 L111.00,274.43 L111.50,275.25 L112.00,276.05 L112.50,276.84 L113.00,277.61 L113.50,278.36 L114.00,279.10 L114.50,279.83 L115.00,280.54 L115.50,281.24 L116.00,281.92 L116.50,282.59 L117.00,283.25 L117.50,283.90 L118.00,284.53 L118.50,285.16 L119.00,285.77 L119.50,286.38 L120.00,286.97 L120.50,287.56 L121.00,288.13 L121.50,288.70 L122.00,289.26 L122.50,289.82 L123.00,290.37 L123.50,290.91 L124.00,291.44 L124.50,291.97 L125.00,292.50 L125.50,293.02 L126.00,293.53 L126.50,294.05 L127.00,294.55 L127.50,295.06 L128.00,295.55 L128.50,296.05 L129.00,296.54 L129.50,297.02 L130.00,297.50 L130.50,297.98 L131.00,298.45 L131.50,298.92 L132.00,299.38 L132.50,299.84 L133.00,300.29 L133.50,300.75 L134.00,301.19 L134.50,301.63 L135.00,302.07 L135.50,302.50 L136.00,302.93 L136.50,303.36 L137.00,303.78 L137.50,304.20 L138.00,304.61 L138.50,305.02 L139.00,305.42 L139.50,305.82 L140.00,306.22 L140.50,306.61 L141.00,307.00 L141.50,307.38 L142.00,307.76 L142.50,308.14 L143.00,308.51 L143.50,308.88 L144.00,309.24 L144.50,309.60 L145.00,309.96 L145.50,310.31 L146.00,310.66 L146.50,311.00 L147.00,311.35 L147.50,311.68 L148.00,312.02 L148.50,312.34 L149.00,312.67 L149.50,312.99 L150.00,313.31 L150.50,313.62 L151.00,313.94 L151.50,314.24 L152.00,314.55 L152.50,314.85 L153.00,315.14 L153.50,315.43 L154.00,315.72 L154.50,316.01 L155.00,316.29 L155.50,316.57 L156.00,316.84 L156.50,317.11 L157.00,317.38 L157.50,317.64 L158.00,317.90 L158.50,318.16 L159.00,318.41 L159.50,318.66 L160.00,318.91 L160.50,319.15 L161.00,319.39 L161.50,319.63 L162.00,319.86 L162.50,320.09 L163.00,320.31 L163.50,320.54 L164.00,320.76 L164.50,320.97 L165.00,321.18 L165.50,321.39 L166.00,321.60 L166.50,321.80 L167.00,322.00 L167.50,322.20 L168.00,322.39 L168.50,322.58 L169.00,322.77 L169.50,322.95 L170.00,323.14 L170.50,323.31 L171.00,323.49 L171.50,323.66 L172.00,323.83 L172.50,324.00 L173.00,324.16 L173.50,324.32 L174.00,324.48 L174.50,324.64 L175.00,324.79 L175.50,324.94 L176.00,325.09 L176.50,325.23 L177.00,325.37 L177.50,325.51 L178.00,325.65 L178.50,325.78 L179.00,325.91 L179.50,326.04 L180.00,326.17 L180.50,326.29 L181.00,326.41 L181.50,326.53 L182.00,326.65 L182.50,326.76 L183.00,326.87 L183.50,326.98 L184.00,327.09 L184.50,327.19 L185.00,327.29 L185.50,327.39 L186.00,327.49 L186.50,327.59 L187.00,327.68 L187.50,327.77 L188.00,327.86 L188.50,327.95 L189.00,328.03 L189.50,328.12 L190.00,328.20 L190.50,328.28 L191.00,328.35 L191.50,328.43 L192.00,328.50 L192.50,328.57 L193.00,328.64 L193.50,328.71 L194.00,328.78 L194.50,328.84 L195.00,328.90 L195.50,328.96 L196.00,329.02 L196.50,329.08 L197.00,329.13 L197.50,329.19 L198.00,329.24 L198.50,329.29 L199.00,329.34 L199.50,329.39 L200.00,329.43 L200.50,329.48 L201.00,329.52 L201.50,329.56 L202.00,329.60 L202.50,329.64 L203.00,329.68 L203.50,329.71 L204.00,329.75 L204.50,329.78 L205.00,329.81 L205.50,329.84 L206.00,329.87 L206.50,329.90 L207.00,329.93 L207.50,329.96 L208.00,329.98 L208.50,330.00 L209.00,330.03 L209.50,330.05 L210.00,330.07 L210.50,330.09 L211.00,330.11 L211.50,330.13 L212.00,330.14 L212.50,330.16 L213.00,330.18 L213.50,330.19 L214.00,330.20 L214.50,330.22 L215.00,330.23 L215.50,330.24 L216.00,330.25 L216.50,330.26 L217.00,330.27 L217.50,330.28 L218.00,330.29 L218.50,330.29 L219.00,330.30 L219.50,330.31 L220.00,330.31 L220.50,330.32 L221.00,330.32 L221.50,330.33 L222.00,330.33 L222.50,330.34 L223.00,330.34 L223.50,330.34 L224.00,330.35 L224.50,330.35 L225.00,330.35 L225.50,330.35 L226.00,330.35 L226.50,330.36 L227.00,330.36 L227.50,330.36 L228.00,330.36 L228.50,330.36 L229.00,330.36 L229.50,330.36 L230.00,330.36 L230.50,330.36 L231.00,330.37 L231.50,330.37 L232.00,330.37 L232.50,330.37 L233.00,330.37 L233.50,330.37 L234.00,330.37 L234.50,330.38 L235.00,330.38 L235.50,330.38 L236.00,330.38 L236.50,330.39 L237.00,330.39 L237.50,330.40 L238.00,330.40 L238.50,330.40 L239.00,330.41 L239.50,330.42 L240.00,330.42 L240.50,330.43 L241.00,330.44 L241.50,330.44 L242.00,330.45 L242.50,330.46 L243.00,330.47 L243.50,330.48 L244.00,330.49" stroke="#1a1a1a" stroke-dasharray="4,5.3"/>
<path d="M40.50,242.37 L41.00,243.06 L41.50,243.68 L42.00,244.23 L42.50,244.70 L43.00,245.11 L43.50,245.44 L44.00,245.70 L44.50,245.90 L45.00,246.03 L45.50,246.10 L46.00,246.11 L46.50,246.05 L47.00,245.94 L47.50,245.77 L48.00,245.55 L48.50,245.28 L49.00,244.95 L49.50,244.57 L50.00,244.15 L50.50,243.67 L51.00,243.16 L51.50,242.60 L52.00,241.99 L52.50,241.35 L53.00,240.67 L53.50,239.95 L54.00,239.20 L54.50,238.41 L55.00,237.60 L55.50,236.75 L56.00,235.87 L56.50,234.97 L57.00,234.04 L57.50,233.09 L58.00,232.12 L58.50,231.12 L59.00,230.11 L59.50,229.08 L60.00,228.04 L60.50,226.98 L61.00,225.91 L61.50,224.83 L62.00,223.74 L62.50,222.65 L63.00,221.55 L63.50,220.44 L64.00,219.34 L64.50,218.23 L65.00,217.12 L65.50,216.02 L66.00,214.93 L66.50,213.83 L67.00,212.75 L67.50,211.68 L68.00,210.62 L68.50,209.58 L69.00,208.57 L69.50,207.59 L70.00,206.65 L70.50,205.75 L71.00,204.91 L71.50,204.12 L72.00,203.40 L72.50,202.74 L73.00,202.16 L73.50,201.67 L74.00,201.26 L74.50,200.95 L75.00,200.74 L75.50,200.63 L76.00,200.63 L76.50,200.73 L77.00,200.92 L77.50,201.20 L78.00,201.57 L78.50,202.03 L79.00,202.57 L79.50,203.18 L80.00,203.87 L80.50,204.63 L81.00,205.45 L81.50,206.33 L82.00,207.28 L82.50,208.27 L83.00,209.32 L83.50,210.41 L84.00,211.55 L84.50,212.73 L85.00,213.95 L85.50,215.21 L86.00,216.50 L86.50,217.82 L87.00,219.17 L87.50,220.54 L88.00,221.94 L88.50,223.37 L89.00,224.81 L89.50,226.26 L90.00,227.73 L90.50,229.21 L91.00,230.70 L91.50,232.20 L92.00,233.70 L92.50,235.20 L93.00,236.70 L93.50,238.19 L94.00,239.68 L94.50,241.15 L95.00,242.62 L95.50,244.07 L96.00,245.50 L96.50,246.92 L97.00,248.31 L97.50,249.67 L98.00,251.01 L98.50,252.32 L99.00,253.60 L99.50,254.85 L100.00,256.07 L100.50,257.26 L101.00,258.42 L101.50,259.56 L102.00,260.67 L102.50,261.75 L103.00,262.81 L103.50,263.85 L104.00,264.85 L104.50,265.84 L105.00,266.80 L105.50,267.74 L106.00,268.65 L106.50,269.55 L107.00,270.42 L107.50,271.27 L108.00,272.10 L108.50,272.91 L109.00,273.70 L109.50,274.48 L110.00,275.23 L110.50,275.97 L111.00,276.69 L111.50,277.40 L112.00,278.09 L112.50,278.76 L113.00,279.42 L113.50,280.06 L114.00,280.70 L114.50,281.31 L115.00,281.92 L115.50,282.51 L116.00,283.10 L116.50,283.67 L117.00,284.23 L117.50,284.78 L118.00,285.32 L118.50,285.85 L119.00,286.38 L119.50,286.90 L120.00,287.41 L120.50,287.91 L121.00,288.41 L121.50,288.90 L122.00,289.39 L122.50,289.87 L123.00,290.35 L123.50,290.83 L124.00,291.30 L124.50,291.77 L125.00,292.24 L125.50,292.71 L126.00,293.18 L126.50,293.65 L127.00,294.12 L127.50,294.59 L128.00,295.05 L128.50,295.52 L129.00,295.99 L129.50,296.45 L130.00,296.92 L130.50,297.38 L131.00,297.84 L131.50,298.30 L132.00,298.76 L132.50,299.22 L133.00,299.68 L133.50,300.13 L134.00,300.59 L134.50,301.04 L135.00,301.49 L135.50,301.93 L136.00,302.38 L136.50,302.82 L137.00,303.26 L137.50,303.70 L138.00,304.13 L138.50,304.56 L139.00,304.99 L139.50,305.42 L140.00,305.84 L140.50,306.26 L141.00,306.67 L141.50,307.08 L142.00,307.49 L142.50,307.89 L143.00,308.29 L143.50,308.69 L144.00,309.08 L144.50,309.47 L145.00,309.85 L145.50,310.23 L146.00,310.60 L146.50,310.97 L147.00,311.34 L147.50,311.69 L148.00,312.05 L148.50,312.40 L149.00,312.74 L149.50,313.08 L150.00,313.41 L150.50,313.74 L151.00,314.06 L151.50,314.37 L152.00,314.68 L152.50,314.99 L153.00,315.29 L153.50,315.58 L154.00,315.87 L154.50,316.16 L155.00,316.44 L155.50,316.71 L156.00,316.98 L156.50,317.25 L157.00,317.51 L157.50,317.76 L158.00,318.01 L158.50,318.26 L159.00,318.50 L159.50,318.74 L160.00,318.97 L160.50,319.20 L161.00,319.42 L161.50,319.64 L162.00,319.85 L162.50,320.06 L163.00,320.27 L163.50,320.47 L164.00,320.67 L164.50,320.86 L165.00,321.05 L165.50,321.23 L166.00,321.41 L166.50,321.59 L167.00,321.76 L167.50,321.93 L168.00,322.09 L168.50,322.25 L169.00,322.41 L169.50,322.57 L170.00,322.71 L170.50,322.86 L171.00,323.00 L171.50,323.14 L172.00,323.28 L172.50,323.41 L173.00,323.54 L173.50,323.66 L174.00,323.78 L174.50,323.90 L175.00,324.02 L175.50,324.13 L176.00,324.24 L176.50,324.34 L177.00,324.45 L177.50,324.54 L178.00,324.64 L178.50,324.73 L179.00,324.82 L179.50,324.91 L180.00,325.00 L180.50,325.08 L181.00,325.16 L181.50,325.24 L182.00,325.31 L182.50,325.38 L183.00,325.45 L183.50,325.52 L184.00,325.58 L184.50,325.64 L185.00,325.70 L185.50,325.76 L186.00,325.81 L186.50,325.86 L187.00,325.91 L187.50,325.96 L188.00,326.01 L188.50,326.05 L189.00,326.09 L189.50,326.13 L190.00,326.17 L190.50,326.21 L191.00,326.24 L191.50,326.27 L192.00,326.30 L192.50,326.33 L193.00,326.36 L193.50,326.38 L194.00,326.41 L194.50,326.43 L195.00,326.45 L195.50,326.47 L196.00,326.49 L196.50,326.50 L197.00,326.52 L197.50,326.53 L198.00,326.55 L198.50,326.56 L199.00,326.57 L199.50,326.58 L200.00,326.58 L200.50,326.59 L201.00,326.60 L201.50,326.60 L202.00,326.61 L202.50,326.61 L203.00,326.61 L203.50,326.62 L204.00,326.62 L204.50,326.62 L205.00,326.62 L205.50,326.62 L206.00,326.62 L206.50,326.61 L207.00,326.61 L207.50,326.61 L208.00,326.61 L208.50,326.60 L209.00,326.60 L209.50,326.60 L210.00,326.59 L210.50,326.59 L211.00,326.59 L211.50,326.58 L212.00,326.58 L212.50,326.58 L213.00,326.57 L213.50,326.57 L214.00,326.56 L214.50,326.56 L215.00,326.56 L215.50,326.56 L216.00,326.55 L216.50,326.55 L217.00,326.55 L217.50,326.55 L218.00,326.55 L218.50,326.55 L219.00,326.55 L219.50,326.55 L220.00,326.55 L220.50,326.56 L221.00,326.56 L221.50,326.56 L222.00,326.57 L222.50,326.57 L223.00,326.58 L223.50,326.59 L224.00,326.60 L224.50,326.61 L225.00,326.62 L225.50,326.63 L226.00,326.65 L226.50,326.66 L227.00,326.68 L227.50,326.70 L228.00,326.72 L228.50,326.74 L229.00,326.76 L229.50,326.79 L230.00,326.81 L230.50,326.84 L231.00,326.87 L231.50,326.90 L232.00,326.93 L232.50,326.96 L233.00,327.00 L233.50,327.04 L234.00,327.08 L234.50,327.12 L235.00,327.16 L235.50,327.21 L236.00,327.26 L236.50,327.31 L237.00,327.36 L237.50,327.41 L238.00,327.47 L238.50,327.53 L239.00,327.59 L239.50,327.66 L240.00,327.72 L240.50,327.79 L241.00,327.86 L241.50,327.94 L242.00,328.01 L242.50,328.09 L243.00,328.18 L243.50,328.26 L244.00,328.35" stroke="#f21c1c"/>
<path d="M40.40,285.50 L40.90,286.66 L41.40,287.78 L41.90,288.87 L42.40,289.91 L42.90,290.93 L43.40,291.91 L43.90,292.86 L44.40,293.80 L44.90,294.73 L45.40,295.64 L45.90,296.54 L46.40,297.41 L46.90,298.26 L47.40,299.06 L47.90,299.83 L48.40,300.59 L48.90,301.32 L49.40,302.03 L49.90,302.71 L50.40,303.37 L50.90,304.00 L51.40,304.60 L51.90,305.18 L52.40,305.73 L52.90,306.27 L53.40,306.79 L53.90,307.30 L54.40,307.80 L54.90,308.30 L55.40,308.78 L55.90,309.25 L56.40,309.71 L56.90,310.16 L57.40,310.61 L57.90,311.04 L58.40,311.47 L58.90,311.90 L59.40,312.32 L59.90,312.74 L60.40,313.14 L60.90,313.54 L61.40,313.91 L61.90,314.27 L62.40,314.61 L62.90,314.93 L63.40,315.24 L63.90,315.54 L64.40,315.83 L64.90,316.13 L65.40,316.44 L65.90,316.75 L66.40,317.07 L66.90,317.39 L67.40,317.71 L67.90,318.03 L68.40,318.34 L68.90,318.65 L69.40,318.94 L69.90,319.23 L70.40,319.52 L70.90,319.80 L71.40,320.08 L71.90,320.35 L72.40,320.62 L72.90,320.88 L73.40,321.13 L73.90,321.38 L74.40,321.61 L74.90,321.83 L75.40,322.05 L75.90,322.26 L76.40,322.46 L76.90,322.66 L77.40,322.85 L77.90,323.04 L78.40,323.22 L78.90,323.40 L79.40,323.57 L79.90,323.73 L80.40,323.89 L80.90,324.05 L81.40,324.20 L81.90,324.35 L82.40,324.50 L82.90,324.64 L83.40,324.77 L83.90,324.90 L84.40,325.02 L84.90,325.14 L85.40,325.25 L85.90,325.36 L86.40,325.46 L86.90,325.56 L87.40,325.66 L87.90,325.76 L88.40,325.86 L88.90,325.96 L89.40,326.06 L89.90,326.17 L90.40,326.28 L90.90,326.39 L91.40,326.50 L91.90,326.61 L92.40,326.71 L92.90,326.81 L93.40,326.91 L93.90,327.00 L94.40,327.09 L94.90,327.17 L95.40,327.26 L95.90,327.35 L96.40,327.43 L96.90,327.52 L97.40,327.60 L97.90,327.68 L98.40,327.76 L98.90,327.84 L99.40,327.91 L99.90,327.99 L100.40,328.06 L100.90,328.12 L101.40,328.18 L101.90,328.24 L102.40,328.30 L102.90,328.35 L103.40,328.39 L103.90,328.43 L104.40,328.47 L104.90,328.50 L105.40,328.54 L105.90,328.57 L106.40,328.60 L106.90,328.62 L107.40,328.65 L107.90,328.68 L108.40,328.70 L108.90,328.73 L109.40,328.76 L109.90,328.79 L110.40,328.83 L110.90,328.86 L111.40,328.90 L111.90,328.93 L112.40,328.97 L112.90,329.01 L113.40,329.05 L113.90,329.09 L114.40,329.13 L114.90,329.16 L115.40,329.20 L115.90,329.24 L116.40,329.28 L116.90,329.32 L117.40,329.35 L117.90,329.39 L118.40,329.42 L118.90,329.46 L119.40,329.49 L119.90,329.52 L120.40,329.55 L120.90,329.58 L121.40,329.60 L121.90,329.63 L122.40,329.66 L122.90,329.69 L123.40,329.71 L123.90,329.74 L124.40,329.76 L124.90,329.79 L125.40,329.81 L125.90,329.84 L126.40,329.86 L126.90,329.89 L127.40,329.91 L127.90,329.93 L128.40,329.96 L128.90,329.98 L129.40,330.00 L129.90,330.03 L130.40,330.05 L130.90,330.08 L131.40,330.10 L131.90,330.12 L132.40,330.15 L132.90,330.17 L133.40,330.20 L133.90,330.22 L134.40,330.24 L134.90,330.26 L135.40,330.28 L135.90,330.30 L136.40,330.32 L136.90,330.34 L137.40,330.36 L137.90,330.37 L138.40,330.39 L138.90,330.40 L139.40,330.41 L139.90,330.42 L140.40,330.43 L140.90,330.44 L141.40,330.45 L141.90,330.46 L142.40,330.47 L142.90,330.48 L143.40,330.49 L143.90,330.50 L144.40,330.51 L144.90,330.52 L145.40,330.52 L145.90,330.53 L146.40,330.54 L146.90,330.55 L147.40,330.55 L147.90,330.56 L148.40,330.57 L148.90,330.58 L149.40,330.58 L149.90,330.59 L150.40,330.60 L150.90,330.60 L151.40,330.61 L151.90,330.61 L152.40,330.62 L152.90,330.63 L153.40,330.63 L153.90,330.64 L154.40,330.64 L154.90,330.65 L155.40,330.65 L155.90,330.66 L156.40,330.66 L156.90,330.67 L157.40,330.67 L157.90,330.68 L158.40,330.68 L158.90,330.69 L159.40,330.69 L159.90,330.70 L160.40,330.70 L160.90,330.71 L161.40,330.71 L161.90,330.72 L162.40,330.72 L162.90,330.73 L163.40,330.73 L163.90,330.74 L164.40,330.74 L164.90,330.75 L165.40,330.75 L165.90,330.76 L166.40,330.76 L166.90,330.77 L167.40,330.77 L167.90,330.78 L168.40,330.78 L168.90,330.79 L169.40,330.79 L169.90,330.80 L170.40,330.80 L170.90,330.81 L171.40,330.81 L171.90,330.81 L172.40,330.82 L172.90,330.82 L173.40,330.83 L173.90,330.83 L174.40,330.84 L174.90,330.84 L175.40,330.85 L175.90,330.85 L176.40,330.85 L176.90,330.86 L177.40,330.86 L177.90,330.87 L178.40,330.87 L178.90,330.87 L179.40,330.88 L179.90,330.88 L180.40,330.89 L180.90,330.89 L181.40,330.89 L181.90,330.90 L182.40,330.90 L182.90,330.91 L183.40,330.91 L183.90,330.91 L184.40,330.92 L184.90,330.92 L185.40,330.92 L185.90,330.93 L186.40,330.93 L186.90,330.93 L187.40,330.94 L187.90,330.94 L188.40,330.94 L188.90,330.95 L189.40,330.95 L189.90,330.95 L190.40,330.95 L190.90,330.96 L191.40,330.96 L191.90,330.96 L192.40,330.97 L192.90,330.97 L193.40,330.97 L193.90,330.97 L194.40,330.98 L194.90,330.98 L195.40,330.98 L195.90,330.98 L196.40,330.99 L196.90,330.99 L197.40,330.99 L197.90,330.99 L198.40,330.99 L198.90,331.00 L199.40,331.00 L199.90,331.00 L200.40,331.00 L200.90,331.00 L201.40,331.00 L201.90,331.01 L202.40,331.01 L202.90,331.01 L203.40,331.01 L203.90,331.01 L204.40,331.02 L204.90,331.02 L205.40,331.02 L205.90,331.02 L206.40,331.02 L206.90,331.02 L207.40,331.03 L207.90,331.03 L208.40,331.03 L208.90,331.03 L209.40,331.03 L209.90,331.03 L210.40,331.04 L210.90,331.04 L211.40,331.04 L211.90,331.04 L212.40,331.04 L212.90,331.04 L213.40,331.04 L213.90,331.05 L214.40,331.05 L214.90,331.05 L215.40,331.05 L215.90,331.05 L216.40,331.05 L216.90,331.06 L217.40,331.06 L217.90,331.06 L218.40,331.06 L218.90,331.06 L219.40,331.06 L219.90,331.06 L220.40,331.06 L220.90,331.07 L221.40,331.07 L221.90,331.07 L222.40,331.07 L222.90,331.07 L223.40,331.07 L223.90,331.07 L224.40,331.07 L224.90,331.08 L225.40,331.08 L225.90,331.08 L226.40,331.08 L226.90,331.08 L227.40,331.08 L227.90,331.08 L228.40,331.08 L228.90,331.08 L229.40,331.09 L229.90,331.09 L230.40,331.09 L230.90,331.09 L231.40,331.09 L231.90,331.09 L232.40,331.09 L232.90,331.09 L233.40,331.09 L233.90,331.09 L234.40,331.09 L234.90,331.09 L235.40,331.09 L235.90,331.10 L236.40,331.10 L236.90,331.10 L237.40,331.10 L237.90,331.10 L238.40,331.10 L238.90,331.10 L239.40,331.10 L239.90,331.10 L240.40,331.10 L240.90,331.10 L241.40,331.10 L241.90,331.10 L242.40,331.10 L242.90,331.10 L243.40,331.10 L243.90,331.10" stroke="#2020f0"/>
<path d="M40.70,296.80 L41.20,296.06 L41.70,295.30 L42.20,294.52 L42.70,293.71 L43.20,292.88 L43.70,292.03 L44.20,291.16 L44.70,290.26 L45.20,289.35 L45.70,288.41 L46.20,287.45 L46.70,286.48 L47.20,285.48 L47.70,284.46 L48.20,283.43 L48.70,282.37 L49.20,281.30 L49.70,280.21 L50.20,279.10 L50.70,277.97 L51.20,276.82 L51.70,275.66 L52.20,274.48 L52.70,273.28 L53.20,272.07 L53.70,270.83 L54.20,269.59 L54.70,268.33 L55.20,267.05 L55.70,265.75 L56.20,264.45 L56.70,263.12 L57.20,261.79 L57.70,260.44 L58.20,259.08 L58.70,257.72 L59.20,256.35 L59.70,254.97 L60.20,253.59 L60.70,252.21 L61.20,250.82 L61.70,249.44 L62.20,248.06 L62.70,246.69 L63.20,245.32 L63.70,243.95 L64.20,242.60 L64.70,241.26 L65.20,239.93 L65.70,238.61 L66.20,237.31 L66.70,236.02 L67.20,234.76 L67.70,233.51 L68.20,232.29 L68.70,231.09 L69.20,229.92 L69.70,228.80 L70.20,227.71 L70.70,226.68 L71.20,225.71 L71.70,224.81 L72.20,223.98 L72.70,223.22 L73.20,222.55 L73.70,221.96 L74.20,221.45 L74.70,221.03 L75.20,220.69 L75.70,220.44 L76.20,220.27 L76.70,220.20 L77.20,220.21 L77.70,220.31 L78.20,220.51 L78.70,220.80 L79.20,221.18 L79.70,221.65 L80.20,222.22 L80.70,222.88 L81.20,223.64 L81.70,224.47 L82.20,225.38 L82.70,226.36 L83.20,227.39 L83.70,228.47 L84.20,229.60 L84.70,230.76 L85.20,231.94 L85.70,233.14 L86.20,234.36 L86.70,235.60 L87.20,236.86 L87.70,238.13 L88.20,239.41 L88.70,240.71 L89.20,242.01 L89.70,243.33 L90.20,244.66 L90.70,245.99 L91.20,247.33 L91.70,248.68 L92.20,250.03 L92.70,251.38 L93.20,252.73 L93.70,254.09 L94.20,255.44 L94.70,256.79 L95.20,258.14 L95.70,259.48 L96.20,260.82 L96.70,262.15 L97.20,263.47 L97.70,264.78 L98.20,266.08 L98.70,267.37 L99.20,268.64 L99.70,269.90 L100.20,271.14 L100.70,272.37 L101.20,273.58 L101.70,274.77 L102.20,275.93 L102.70,277.08 L103.20,278.20 L103.70,279.30 L104.20,280.38 L104.70,281.43 L105.20,282.47 L105.70,283.48 L106.20,284.47 L106.70,285.44 L107.20,286.39 L107.70,287.31 L108.20,288.22 L108.70,289.11 L109.20,289.98 L109.70,290.82 L110.20,291.65 L110.70,292.46 L111.20,293.25 L111.70,294.03 L112.20,294.78 L112.70,295.52 L113.20,296.23 L113.70,296.94 L114.20,297.62 L114.70,298.29 L115.20,298.94 L115.70,299.57 L116.20,300.19 L116.70,300.79 L117.20,301.38 L117.70,301.95 L118.20,302.51 L118.70,303.05 L119.20,303.58 L119.70,304.09 L120.20,304.59 L120.70,305.07 L121.20,305.55 L121.70,306.00 L122.20,306.45 L122.70,306.88 L123.20,307.31 L123.70,307.71 L124.20,308.11 L124.70,308.50 L125.20,308.87 L125.70,309.24 L126.20,309.59 L126.70,309.93 L127.20,310.26 L127.70,310.59 L128.20,310.90 L128.70,311.20 L129.20,311.50 L129.70,311.78 L130.20,312.06 L130.70,312.33 L131.20,312.59 L131.70,312.84 L132.20,313.09 L132.70,313.32 L133.20,313.55 L133.70,313.78 L134.20,314.00 L134.70,314.21 L135.20,314.41 L135.70,314.61 L136.20,314.81 L136.70,315.00 L137.20,315.18 L137.70,315.36 L138.20,315.54 L138.70,315.71 L139.20,315.88 L139.70,316.04 L140.20,316.21 L140.70,316.36 L141.20,316.52 L141.70,316.67 L142.20,316.82 L142.70,316.97 L143.20,317.12 L143.70,317.27 L144.20,317.41 L144.70,317.55 L145.20,317.70 L145.70,317.84 L146.20,317.98 L146.70,318.11 L147.20,318.25 L147.70,318.38 L148.20,318.52 L148.70,318.65 L149.20,318.78 L149.70,318.91 L150.20,319.04 L150.70,319.16 L151.20,319.29 L151.70,319.41 L152.20,319.53 L152.70,319.66 L153.20,319.78 L153.70,319.89 L154.20,320.01 L154.70,320.13 L155.20,320.24 L155.70,320.36 L156.20,320.47 L156.70,320.58 L157.20,320.69 L157.70,320.80 L158.20,320.90 L158.70,321.01 L159.20,321.11 L159.70,321.22 L160.20,321.32 L160.70,321.42 L161.20,321.52 L161.70,321.62 L162.20,321.72 L162.70,321.82 L163.20,321.91 L163.70,322.01 L164.20,322.10 L164.70,322.19 L165.20,322.28 L165.70,322.37 L166.20,322.46 L166.70,322.55 L167.20,322.64 L167.70,322.72 L168.20,322.81 L168.70,322.89 L169.20,322.97 L169.70,323.05 L170.20,323.13 L170.70,323.21 L171.20,323.29 L171.70,323.37 L172.20,323.45 L172.70,323.52 L173.20,323.60 L173.70,323.67 L174.20,323.74 L174.70,323.81 L175.20,323.88 L175.70,323.95 L176.20,324.02 L176.70,324.09 L177.20,324.16 L177.70,324.22 L178.20,324.29 L178.70,324.35 L179.20,324.42 L179.70,324.48 L180.20,324.54 L180.70,324.60 L181.20,324.66 L181.70,324.72 L182.20,324.78 L182.70,324.84 L183.20,324.89 L183.70,324.95 L184.20,325.00 L184.70,325.06 L185.20,325.11 L185.70,325.17 L186.20,325.22 L186.70,325.27 L187.20,325.32 L187.70,325.37 L188.20,325.42 L188.70,325.47 L189.20,325.52 L189.70,325.56 L190.20,325.61 L190.70,325.66 L191.20,325.70 L191.70,325.74 L192.20,325.79 L192.70,325.83 L193.20,325.87 L193.70,325.92 L194.20,325.96 L194.70,326.00 L195.20,326.04 L195.70,326.08 L196.20,326.12 L196.70,326.15 L197.20,326.19 L197.70,326.23 L198.20,326.27 L198.70,326.30 L199.20,326.34 L199.70,326.37 L200.20,326.41 L200.70,326.44 L201.20,326.47 L201.70,326.51 L202.20,326.54 L202.70,326.57 L203.20,326.60 L203.70,326.63 L204.20,326.67 L204.70,326.70 L205.20,326.73 L205.70,326.75 L206.20,326.78 L206.70,326.81 L207.20,326.84 L207.70,326.87 L208.20,326.89 L208.70,326.92 L209.20,326.95 L209.70,326.97 L210.20,327.00 L210.70,327.03 L211.20,327.05 L211.70,327.08 L212.20,327.10 L212.70,327.12 L213.20,327.15 L213.70,327.17 L214.20,327.20 L214.70,327.22 L215.20,327.24 L215.70,327.26 L216.20,327.29 L216.70,327.31 L217.20,327.33 L217.70,327.35 L218.20,327.37 L218.70,327.39 L219.20,327.41 L219.70,327.44 L220.20,327.46 L220.70,327.48 L221.20,327.50 L221.70,327.52 L222.20,327.54 L222.70,327.56 L223.20,327.58 L223.70,327.60 L224.20,327.62 L224.70,327.63 L225.20,327.65 L225.70,327.67 L226.20,327.69 L226.70,327.71 L227.20,327.73 L227.70,327.75 L228.20,327.77 L228.70,327.79 L229.20,327.80 L229.70,327.82 L230.20,327.84 L230.70,327.86 L231.20,327.88 L231.70,327.90 L232.20,327.92 L232.70,327.93 L233.20,327.95 L233.70,327.97 L234.20,327.99 L234.70,328.01 L235.20,328.03 L235.70,328.05 L236.20,328.07 L236.70,328.09 L237.20,328.11 L237.70,328.12 L238.20,328.14 L238.70,328.16 L239.20,328.18 L239.70,328.20 L240.20,328.22 L240.70,328.24 L241.20,328.26 L241.70,328.28 L242.20,328.31 L242.70,328.33 L243.20,328.35 L243.70,328.37 L244.20,328.39" stroke="#209494"/>
<path d="M40.50,331.20 L41.00,331.20 L41.50,331.20 L42.00,331.20 L42.50,331.19 L43.00,331.19 L43.50,331.18 L44.00,331.18 L44.50,331.17 L45.00,331.16 L45.50,331.15 L46.00,331.14 L46.50,331.13 L47.00,331.12 L47.50,331.11 L48.00,331.10 L48.50,331.09 L49.00,331.08 L49.50,331.06 L50.00,331.05 L50.50,331.04 L51.00,331.02 L51.50,331.01 L52.00,330.99 L52.50,330.98 L53.00,330.96 L53.50,330.95 L54.00,330.93 L54.50,330.92 L55.00,330.90 L55.50,330.88 L56.00,330.87 L56.50,330.85 L57.00,330.82 L57.50,330.80 L58.00,330.78 L58.50,330.75 L59.00,330.72 L59.50,330.70 L60.00,330.67 L60.50,330.64 L61.00,330.60 L61.50,330.57 L62.00,330.53 L62.50,330.50 L63.00,330.46 L63.50,330.42 L64.00,330.38 L64.50,330.34 L65.00,330.30 L65.50,330.25 L66.00,330.20 L66.50,330.15 L67.00,330.09 L67.50,330.03 L68.00,329.96 L68.50,329.89 L69.00,329.82 L69.50,329.74 L70.00,329.67 L70.50,329.59 L71.00,329.51 L71.50,329.42 L72.00,329.34 L72.50,329.26 L73.00,329.17 L73.50,329.09 L74.00,329.00 L74.50,328.92 L75.00,328.83 L75.50,328.75 L76.00,328.66 L76.50,328.57 L77.00,328.48 L77.50,328.39 L78.00,328.30 L78.50,328.21 L79.00,328.11 L79.50,328.01 L80.00,327.91 L80.50,327.81 L81.00,327.71 L81.50,327.61 L82.00,327.50 L82.50,327.40 L83.00,327.29 L83.50,327.18 L84.00,327.07 L84.50,326.95 L85.00,326.84 L85.50,326.72 L86.00,326.60 L86.50,326.47 L87.00,326.35 L87.50,326.21 L88.00,326.08 L88.50,325.94 L89.00,325.80 L89.50,325.65 L90.00,325.50 L90.50,325.34 L91.00,325.17 L91.50,325.00 L92.00,324.82 L92.50,324.63 L93.00,324.44 L93.50,324.25 L94.00,324.06 L94.50,323.87 L95.00,323.68 L95.50,323.48 L96.00,323.29 L96.50,323.09 L97.00,322.89 L97.50,322.69 L98.00,322.48 L98.50,322.28 L99.00,322.08 L99.50,321.87 L100.00,321.66 L100.50,321.45 L101.00,321.24 L101.50,321.03 L102.00,320.82 L102.50,320.61 L103.00,320.40 L103.50,320.20 L104.00,320.00 L104.50,319.80 L105.00,319.59 L105.50,319.39 L106.00,319.19 L106.50,319.00 L107.00,318.80 L107.50,318.62 L108.00,318.44 L108.50,318.27 L109.00,318.10 L109.50,317.94 L110.00,317.78 L110.50,317.62 L111.00,317.48 L111.50,317.34 L112.00,317.20 L112.50,317.07 L113.00,316.94 L113.50,316.82 L114.00,316.70 L114.50,316.59 L115.00,316.50 L115.50,316.41 L116.00,316.32 L116.50,316.23 L117.00,316.15 L117.50,316.07 L118.00,316.01 L118.50,315.95 L119.00,315.92 L119.50,315.90 L120.00,315.90 L120.50,315.90 L121.00,315.91 L121.50,315.92 L122.00,315.93 L122.50,315.94 L123.00,315.95 L123.50,315.97 L124.00,315.98 L124.50,316.00 L125.00,316.03 L125.50,316.07 L126.00,316.13 L126.50,316.19 L127.00,316.27 L127.50,316.36 L128.00,316.45 L128.50,316.54 L129.00,316.64 L129.50,316.74 L130.00,316.85 L130.50,316.97 L131.00,317.11 L131.50,317.25 L132.00,317.41 L132.50,317.57 L133.00,317.73 L133.50,317.90 L134.00,318.07 L134.50,318.24 L135.00,318.42 L135.50,318.60 L136.00,318.79 L136.50,318.99 L137.00,319.19 L137.50,319.40 L138.00,319.61 L138.50,319.83 L139.00,320.04 L139.50,320.27 L140.00,320.50 L140.50,320.75 L141.00,320.99 L141.50,321.24 L142.00,321.49 L142.50,321.74 L143.00,321.98 L143.50,322.21 L144.00,322.43 L144.50,322.65 L145.00,322.87 L145.50,323.08 L146.00,323.29 L146.50,323.50 L147.00,323.70 L147.50,323.90 L148.00,324.10 L148.50,324.30 L149.00,324.49 L149.50,324.68 L150.00,324.87 L150.50,325.06 L151.00,325.24 L151.50,325.42 L152.00,325.60 L152.50,325.78 L153.00,325.96 L153.50,326.14 L154.00,326.31 L154.50,326.49 L155.00,326.68 L155.50,326.86 L156.00,327.04 L156.50,327.22 L157.00,327.39 L157.50,327.56 L158.00,327.72 L158.50,327.88 L159.00,328.03 L159.50,328.17 L160.00,328.31 L160.50,328.44 L161.00,328.57 L161.50,328.69 L162.00,328.81 L162.50,328.93 L163.00,329.03 L163.50,329.13 L164.00,329.22 L164.50,329.30 L165.00,329.37 L165.50,329.44 L166.00,329.51 L166.50,329.58 L167.00,329.64 L167.50,329.70 L168.00,329.76 L168.50,329.82 L169.00,329.87 L169.50,329.92 L170.00,329.97 L170.50,330.02 L171.00,330.07 L171.50,330.11 L172.00,330.15 L172.50,330.19 L173.00,330.23 L173.50,330.26 L174.00,330.29 L174.50,330.32 L175.00,330.35 L175.50,330.38 L176.00,330.41 L176.50,330.44 L177.00,330.47 L177.50,330.49 L178.00,330.52 L178.50,330.54 L179.00,330.57 L179.50,330.59 L180.00,330.61 L180.50,330.63 L181.00,330.65 L181.50,330.67 L182.00,330.69 L182.50,330.71 L183.00,330.73 L183.50,330.75 L184.00,330.77 L184.50,330.79 L185.00,330.80 L185.50,330.82 L186.00,330.83 L186.50,330.85 L187.00,330.86 L187.50,330.87 L188.00,330.89 L188.50,330.90 L189.00,330.91 L189.50,330.92 L190.00,330.94 L190.50,330.95 L191.00,330.96 L191.50,330.97 L192.00,330.99 L192.50,331.00 L193.00,331.01 L193.50,331.02 L194.00,331.03 L194.50,331.04 L195.00,331.05 L195.50,331.06 L196.00,331.07 L196.50,331.07 L197.00,331.08 L197.50,331.09 L198.00,331.09 L198.50,331.09 L199.00,331.10 L199.50,331.10 L200.00,331.10 L200.50,331.10 L201.00,331.10 L201.50,331.10 L202.00,331.10 L202.50,331.10 L203.00,331.10 L203.50,331.10 L204.00,331.10 L204.50,331.10 L205.00,331.10 L205.50,331.10 L206.00,331.10 L206.50,331.10 L207.00,331.10 L207.50,331.10 L208.00,331.10 L208.50,331.10 L209.00,331.10 L209.50,331.10 L210.00,331.10 L210.50,331.10 L211.00,331.10 L211.50,331.10 L212.00,331.10 L212.50,331.10 L213.00,331.10 L213.50,331.10 L214.00,331.10 L214.50,331.10 L215.00,331.10 L215.50,331.10 L216.00,331.10 L216.50,331.09 L217.00,331.09 L217.50,331.09 L218.00,331.09 L218.50,331.09 L219.00,331.09 L219.50,331.09 L220.00,331.09 L220.50,331.09 L221.00,331.09 L221.50,331.09 L222.00,331.09 L222.50,331.09 L223.00,331.09 L223.50,331.09 L224.00,331.08 L224.50,331.08 L225.00,331.08 L225.50,331.08 L226.00,331.08 L226.50,331.08 L227.00,331.08 L227.50,331.08 L228.00,331.07 L228.50,331.07 L229.00,331.07 L229.50,331.07 L230.00,331.07 L230.50,331.07 L231.00,331.07 L231.50,331.06 L232.00,331.06 L232.50,331.06 L233.00,331.06 L233.50,331.06 L234.00,331.06 L234.50,331.05 L235.00,331.05 L235.50,331.05 L236.00,331.05 L236.50,331.04 L237.00,331.04 L237.50,331.04 L238.00,331.04 L238.50,331.03 L239.00,331.03 L239.50,331.03 L240.00,331.03 L240.50,331.02 L241.00,331.02 L241.50,331.02 L242.00,331.02 L242.50,331.01 L243.00,331.01 L243.50,331.01 L244.00,331.00" stroke="#f020f0"/>
</g>
<rect x="40.00" y="187.40" width="204.30" height="148.00" fill="none" stroke="#1e1e1e" stroke-width="1.4"/>
<text x="40.00" y="346.20" text-anchor="middle" font-size="9" fill="#2a2a2a" font-family='"Liberation Sans", sans-serif'>450</text>
<line x1="60.43" y1="335.40" x2="60.43" y2="332.20" stroke="#1e1e1e" stroke-width="1"/>
<text x="60.43" y="346.20" text-anchor="middle" font-size="9" fill="#2a2a2a" font-family='"Liberation Sans", sans-serif'>500</text>
<line x1="80.86" y1="335.40" x2="80.86" y2="332.20" stroke="#1e1e1e" stroke-width="1"/>
<text x="80.86" y="346.20" text-anchor="middle" font-size="9" fill="#2a2a2a" font-family='"Liberation Sans", sans-serif'>550</text>
<line x1="101.29" y1="335.40" x2="101.29" y2="332.20" stroke="#1e1e1e" stroke-width="1"/>
<text x="101.29" y="346.20" text-anchor="middle" font-size="9" fill="#2a2a2a" font-family='"Liberation Sans", sans-serif'>600</text>
<line x1="121.72" y1="335.40" x2="121.72" y2="332.20" stroke="#1e1e1e" stroke-width="1"/>
<text x="121.72" y="346.20" text-anchor="middle" font-size="9" fill="#2a2a2a" font-family='"Liberation Sans", sans-serif'>650</text>
<line x1="142.15" y1="335.40" x2="142.15" y2="332.20" stroke="#1e1e1e" stroke-width="1"/>
<text x="142.15" y="346.20" text-anchor="middle" font-size="9" fill="#2a2a2a" font-family='"Liberation Sans", sans-serif'>700</text>
<line x1="162.58" y1="335.40" x2="162.58" y2="332.20" stroke="#1e1e1e" stroke-width="1"/>
<text x="162.58" y="346.20" text-anchor="middle" font-size="9" fill="#2a2a2a" font-family='"Liberation Sans", sans-serif'>750</text>
<line x1="183.01" y1="335.40" x2="183.01" y2="332.20" stroke="#1e1e1e" stroke-width="1"/>
<text x="183.01" y="346.20" text-anchor="middle" font-size="9" fill="#2a2a2a" font-family='"Liberation Sans", sans-serif'>800</text>
<line x1="203.44" y1="335.40" x2="203.44" y2="332.20" stroke="#1e1e1e" stroke-width="1"/>
<text x="203.44" y="346.20" text-anchor="middle" font-size="9" fill="#2a2a2a" font-family='"Liberation Sans", sans-serif'>850</text>
<line x1="223.87" y1="335.40" x2="223.87" y2="332.20" stroke="#1e1e1e" stroke-width="1"/>
<text x="223.87" y="346.20" text-anchor="middle" font-size="9" fill="#2a2a2a" font-family='"Liberation Sans", sans-serif'>900</text>
<text x="244.30" y="346.20" text-anchor="middle" font-size="9" fill="#2a2a2a" font-family='"Liberation Sans", sans-serif'>950</text>
<line x1="40.00" y1="330.80" x2="43.20" y2="330.80" stroke="#1e1e1e" stroke-width="1"/>
<text x="36.30" y="333.30" text-anchor="end" font-size="9" fill="#2a2a2a" font-family='"Liberation Sans", sans-serif'>0.00</text>
<line x1="40.00" y1="306.90" x2="43.20" y2="306.90" stroke="#1e1e1e" stroke-width="1"/>
<text x="36.30" y="309.40" text-anchor="end" font-size="9" fill="#2a2a2a" font-family='"Liberation Sans", sans-serif'>0.05</text>
<line x1="40.00" y1="283.00" x2="43.20" y2="283.00" stroke="#1e1e1e" stroke-width="1"/>
<text x="36.30" y="285.50" text-anchor="end" font-size="9" fill="#2a2a2a" font-family='"Liberation Sans", sans-serif'>0.10</text>
<line x1="40.00" y1="259.10" x2="43.20" y2="259.10" stroke="#1e1e1e" stroke-width="1"/>
<text x="36.30" y="261.60" text-anchor="end" font-size="9" fill="#2a2a2a" font-family='"Liberation Sans", sans-serif'>0.15</text>
<line x1="40.00" y1="235.20" x2="43.20" y2="235.20" stroke="#1e1e1e" stroke-width="1"/>
<text x="36.30" y="237.70" text-anchor="end" font-size="9" fill="#2a2a2a" font-family='"Liberation Sans", sans-serif'>0.20</text>
<line x1="40.00" y1="211.30" x2="43.20" y2="211.30" stroke="#1e1e1e" stroke-width="1"/>
<text x="36.30" y="213.80" text-anchor="end" font-size="9" fill="#2a2a2a" font-family='"Liberation Sans", sans-serif'>0.25</text>
<text x="36.30" y="189.90" text-anchor="end" font-size="9" fill="#2a2a2a" font-family='"Liberation Sans", sans-serif'>0.30</text>
<text x="140.10" y="356.90" text-anchor="middle" font-size="9.35" fill="#2a2a2a" font-family='"Liberation Sans", sans-serif'>Wavelength (nm)</text>
<text transform="translate(10.70,264.70) rotate(-90)" text-anchor="middle" font-size="9.3" fill="#2a2a2a" font-family='"Liberation Sans", sans-serif'>Extinction (A.U.)</text>
<text x="46.60" y="205.00" font-size="14.2" font-weight="bold" fill="#111" stroke="#111" stroke-width="0.35" font-family='"Liberation Serif", serif'>(c)</text>
<rect x="104.50" y="190.80" width="101.80" height="43.80" fill="#fff" stroke="#9a9a9a" stroke-width="0.9"/>
<line x1="107.10" y1="196.30" x2="123.80" y2="196.30" stroke="#1a1a1a" stroke-width="1.3" stroke-dasharray="5,4.2"/>
<text x="125.90" y="198.80" font-size="7.2" fill="#2a2a2a" font-family='"Liberation Sans", sans-serif'>Data</text>
<line x1="107.10" y1="204.85" x2="123.80" y2="204.85" stroke="#f21c1c" stroke-width="1.3"/>
<text x="125.90" y="207.35" font-size="7.2" fill="#2a2a2a" font-family='"Liberation Sans", sans-serif'>Theoretical model fitting</text>
<line x1="107.10" y1="213.40" x2="123.80" y2="213.40" stroke="#2020f0" stroke-width="1.3"/>
<text x="125.90" y="215.90" font-size="7.2" fill="#2a2a2a" font-family='"Liberation Sans", sans-serif'>Interband absorption</text>
<line x1="107.10" y1="221.95" x2="123.80" y2="221.95" stroke="#209494" stroke-width="1.3"/>
<text x="125.90" y="224.45" font-size="7.2" fill="#2a2a2a" font-family='"Liberation Sans", sans-serif'>Non-interacting PR band</text>
<line x1="107.10" y1="230.50" x2="123.80" y2="230.50" stroke="#f020f0" stroke-width="1.3"/>
<text x="125.90" y="233.00" font-size="7.2" fill="#2a2a2a" font-family='"Liberation Sans", sans-serif'>Coupled PR bandd</text>
<text text-anchor="middle" font-size="10.4" font-weight="bold" fill="#1414fa" stroke="#1414fa" stroke-width="0.3" font-family='"Liberation Serif", serif'><tspan x="185.80" y="250.90">surface coverage</tspan><tspan x="185.80" y="262.90">17.2%</tspan></text>
<text text-anchor="middle" font-size="10.4" font-weight="bold" fill="#fc1010" stroke="#fc1010" stroke-width="0.3" font-family='"Liberation Serif", serif'><tspan x="185.30" y="279.80">Average</tspan><tspan x="185.30" y="291.80">interparticle distance</tspan><tspan x="185.30" y="303.80">36.1 nm</tspan></text>
<clipPath id="clipd"><rect x="303.60" y="187.40" width="204.20" height="148.10"/></clipPath>
<g clip-path="url(#clipd)" fill="none" stroke-width="1.35" stroke-linejoin="round" stroke-linecap="butt">
<path d="M303.70,244.16 L304.20,244.67 L304.70,245.13 L305.20,245.54 L305.70,245.90 L306.20,246.22 L306.70,246.48 L307.20,246.70 L307.70,246.88 L308.20,247.00 L308.70,247.08 L309.20,247.12 L309.70,247.11 L310.20,247.06 L310.70,246.97 L311.20,246.84 L311.70,246.66 L312.20,246.45 L312.70,246.19 L313.20,245.89 L313.70,245.56 L314.20,245.19 L314.70,244.78 L315.20,244.33 L315.70,243.85 L316.20,243.33 L316.70,242.78 L317.20,242.20 L317.70,241.58 L318.20,240.92 L318.70,240.24 L319.20,239.52 L319.70,238.78 L320.20,238.00 L320.70,237.20 L321.20,236.37 L321.70,235.51 L322.20,234.64 L322.70,233.74 L323.20,232.83 L323.70,231.90 L324.20,230.96 L324.70,230.01 L325.20,229.05 L325.70,228.08 L326.20,227.11 L326.70,226.14 L327.20,225.17 L327.70,224.20 L328.20,223.23 L328.70,222.27 L329.20,221.32 L329.70,220.38 L330.20,219.45 L330.70,218.54 L331.20,217.64 L331.70,216.77 L332.20,215.91 L332.70,215.08 L333.20,214.28 L333.70,213.50 L334.20,212.75 L334.70,212.04 L335.20,211.36 L335.70,210.72 L336.20,210.11 L336.70,209.55 L337.20,209.03 L337.70,208.55 L338.20,208.12 L338.70,207.74 L339.20,207.39 L339.70,207.10 L340.20,206.85 L340.70,206.64 L341.20,206.48 L341.70,206.36 L342.20,206.29 L342.70,206.26 L343.20,206.28 L343.70,206.34 L344.20,206.44 L344.70,206.59 L345.20,206.78 L345.70,207.02 L346.20,207.30 L346.70,207.62 L347.20,207.99 L347.70,208.40 L348.20,208.86 L348.70,209.35 L349.20,209.89 L349.70,210.47 L350.20,211.09 L350.70,211.74 L351.20,212.42 L351.70,213.14 L352.20,213.88 L352.70,214.65 L353.20,215.44 L353.70,216.26 L354.20,217.10 L354.70,217.95 L355.20,218.82 L355.70,219.70 L356.20,220.59 L356.70,221.50 L357.20,222.41 L357.70,223.32 L358.20,224.24 L358.70,225.16 L359.20,226.09 L359.70,227.02 L360.20,227.94 L360.70,228.87 L361.20,229.80 L361.70,230.73 L362.20,231.65 L362.70,232.58 L363.20,233.50 L363.70,234.41 L364.20,235.33 L364.70,236.23 L365.20,237.13 L365.70,238.02 L366.20,238.91 L366.70,239.79 L367.20,240.65 L367.70,241.51 L368.20,242.36 L368.70,243.19 L369.20,244.02 L369.70,244.83 L370.20,245.62 L370.70,246.41 L371.20,247.17 L371.70,247.92 L372.20,248.66 L372.70,249.37 L373.20,250.07 L373.70,250.75 L374.20,251.41 L374.70,252.06 L375.20,252.69 L375.70,253.30 L376.20,253.89 L376.70,254.48 L377.20,255.05 L377.70,255.60 L378.20,256.15 L378.70,256.68 L379.20,257.21 L379.70,257.72 L380.20,258.23 L380.70,258.73 L381.20,259.23 L381.70,259.71 L382.20,260.20 L382.70,260.68 L383.20,261.16 L383.70,261.63 L384.20,262.11 L384.70,262.58 L385.20,263.05 L385.70,263.53 L386.20,264.01 L386.70,264.49 L387.20,264.97 L387.70,265.46 L388.20,265.96 L388.70,266.46 L389.20,266.97 L389.70,267.48 L390.20,268.01 L390.70,268.54 L391.20,269.09 L391.70,269.64 L392.20,270.20 L392.70,270.77 L393.20,271.34 L393.70,271.92 L394.20,272.51 L394.70,273.10 L395.20,273.70 L395.70,274.30 L396.20,274.90 L396.70,275.51 L397.20,276.13 L397.70,276.74 L398.20,277.36 L398.70,277.98 L399.20,278.60 L399.70,279.23 L400.20,279.85 L400.70,280.47 L401.20,281.09 L401.70,281.72 L402.20,282.34 L402.70,282.96 L403.20,283.58 L403.70,284.19 L404.20,284.80 L404.70,285.41 L405.20,286.02 L405.70,286.62 L406.20,287.21 L406.70,287.81 L407.20,288.40 L407.70,288.98 L408.20,289.56 L408.70,290.14 L409.20,290.72 L409.70,291.29 L410.20,291.85 L410.70,292.41 L411.20,292.97 L411.70,293.52 L412.20,294.07 L412.70,294.62 L413.20,295.16 L413.70,295.70 L414.20,296.23 L414.70,296.76 L415.20,297.28 L415.70,297.80 L416.20,298.31 L416.70,298.82 L417.20,299.33 L417.70,299.83 L418.20,300.33 L418.70,300.82 L419.20,301.31 L419.70,301.79 L420.20,302.27 L420.70,302.74 L421.20,303.21 L421.70,303.68 L422.20,304.13 L422.70,304.59 L423.20,305.04 L423.70,305.48 L424.20,305.92 L424.70,306.36 L425.20,306.79 L425.70,307.21 L426.20,307.63 L426.70,308.04 L427.20,308.45 L427.70,308.86 L428.20,309.25 L428.70,309.65 L429.20,310.04 L429.70,310.42 L430.20,310.80 L430.70,311.17 L431.20,311.54 L431.70,311.90 L432.20,312.26 L432.70,312.61 L433.20,312.95 L433.70,313.29 L434.20,313.63 L434.70,313.96 L435.20,314.29 L435.70,314.61 L436.20,314.93 L436.70,315.24 L437.20,315.55 L437.70,315.85 L438.20,316.15 L438.70,316.44 L439.20,316.73 L439.70,317.02 L440.20,317.30 L440.70,317.57 L441.20,317.84 L441.70,318.11 L442.20,318.37 L442.70,318.63 L443.20,318.88 L443.70,319.13 L444.20,319.38 L444.70,319.62 L445.20,319.85 L445.70,320.09 L446.20,320.31 L446.70,320.54 L447.20,320.76 L447.70,320.98 L448.20,321.19 L448.70,321.40 L449.20,321.60 L449.70,321.80 L450.20,322.00 L450.70,322.19 L451.20,322.38 L451.70,322.57 L452.20,322.75 L452.70,322.93 L453.20,323.10 L453.70,323.28 L454.20,323.44 L454.70,323.61 L455.20,323.77 L455.70,323.93 L456.20,324.08 L456.70,324.23 L457.20,324.38 L457.70,324.53 L458.20,324.67 L458.70,324.81 L459.20,324.94 L459.70,325.08 L460.20,325.21 L460.70,325.33 L461.20,325.46 L461.70,325.58 L462.20,325.70 L462.70,325.81 L463.20,325.92 L463.70,326.03 L464.20,326.14 L464.70,326.24 L465.20,326.34 L465.70,326.44 L466.20,326.54 L466.70,326.63 L467.20,326.72 L467.70,326.81 L468.20,326.90 L468.70,326.98 L469.20,327.06 L469.70,327.14 L470.20,327.22 L470.70,327.30 L471.20,327.37 L471.70,327.44 L472.20,327.51 L472.70,327.57 L473.20,327.64 L473.70,327.70 L474.20,327.76 L474.70,327.82 L475.20,327.87 L475.70,327.93 L476.20,327.98 L476.70,328.03 L477.20,328.08 L477.70,328.13 L478.20,328.18 L478.70,328.22 L479.20,328.26 L479.70,328.30 L480.20,328.34 L480.70,328.38 L481.20,328.42 L481.70,328.45 L482.20,328.49 L482.70,328.52 L483.20,328.55 L483.70,328.58 L484.20,328.61 L484.70,328.64 L485.20,328.66 L485.70,328.69 L486.20,328.71 L486.70,328.74 L487.20,328.76 L487.70,328.78 L488.20,328.80 L488.70,328.82 L489.20,328.84 L489.70,328.86 L490.20,328.88 L490.70,328.89 L491.20,328.91 L491.70,328.92 L492.20,328.94 L492.70,328.95 L493.20,328.97 L493.70,328.98 L494.20,328.99 L494.70,329.00 L495.20,329.02 L495.70,329.03 L496.20,329.04 L496.70,329.05 L497.20,329.06 L497.70,329.07 L498.20,329.08 L498.70,329.09 L499.20,329.10 L499.70,329.11 L500.20,329.12 L500.70,329.13 L501.20,329.14 L501.70,329.15 L502.20,329.16 L502.70,329.17 L503.20,329.19 L503.70,329.20 L504.20,329.21 L504.70,329.22 L505.20,329.23 L505.70,329.24 L506.20,329.26 L506.70,329.27 L507.20,329.29 L507.70,329.30" stroke="#1a1a1a" stroke-dasharray="4,5.3"/>
<path d="M303.70,243.16 L304.20,243.65 L304.70,244.10 L305.20,244.50 L305.70,244.85 L306.20,245.16 L306.70,245.42 L307.20,245.63 L307.70,245.80 L308.20,245.93 L308.70,246.01 L309.20,246.05 L309.70,246.05 L310.20,246.01 L310.70,245.92 L311.20,245.80 L311.70,245.63 L312.20,245.43 L312.70,245.18 L313.20,244.90 L313.70,244.58 L314.20,244.22 L314.70,243.83 L315.20,243.40 L315.70,242.93 L316.20,242.43 L316.70,241.89 L317.20,241.32 L317.70,240.72 L318.20,240.08 L318.70,239.41 L319.20,238.71 L319.70,237.98 L320.20,237.22 L320.70,236.43 L321.20,235.61 L321.70,234.77 L322.20,233.90 L322.70,233.02 L323.20,232.12 L323.70,231.20 L324.20,230.27 L324.70,229.33 L325.20,228.38 L325.70,227.42 L326.20,226.46 L326.70,225.49 L327.20,224.53 L327.70,223.56 L328.20,222.60 L328.70,221.65 L329.20,220.70 L329.70,219.77 L330.20,218.84 L330.70,217.94 L331.20,217.04 L331.70,216.17 L332.20,215.32 L332.70,214.49 L333.20,213.69 L333.70,212.91 L334.20,212.17 L334.70,211.46 L335.20,210.78 L335.70,210.13 L336.20,209.53 L336.70,208.97 L337.20,208.44 L337.70,207.97 L338.20,207.54 L338.70,207.15 L339.20,206.81 L339.70,206.51 L340.20,206.26 L340.70,206.05 L341.20,205.89 L341.70,205.77 L342.20,205.69 L342.70,205.66 L343.20,205.68 L343.70,205.73 L344.20,205.84 L344.70,205.98 L345.20,206.17 L345.70,206.41 L346.20,206.69 L346.70,207.01 L347.20,207.37 L347.70,207.78 L348.20,208.24 L348.70,208.74 L349.20,209.28 L349.70,209.85 L350.20,210.47 L350.70,211.12 L351.20,211.81 L351.70,212.52 L352.20,213.27 L352.70,214.04 L353.20,214.83 L353.70,215.65 L354.20,216.49 L354.70,217.35 L355.20,218.22 L355.70,219.10 L356.20,220.00 L356.70,220.90 L357.20,221.81 L357.70,222.73 L358.20,223.65 L358.70,224.57 L359.20,225.50 L359.70,226.43 L360.20,227.36 L360.70,228.29 L361.20,229.21 L361.70,230.14 L362.20,231.07 L362.70,231.99 L363.20,232.91 L363.70,233.83 L364.20,234.74 L364.70,235.65 L365.20,236.55 L365.70,237.44 L366.20,238.33 L366.70,239.20 L367.20,240.07 L367.70,240.93 L368.20,241.77 L368.70,242.61 L369.20,243.43 L369.70,244.24 L370.20,245.04 L370.70,245.82 L371.20,246.58 L371.70,247.33 L372.20,248.07 L372.70,248.78 L373.20,249.48 L373.70,250.16 L374.20,250.82 L374.70,251.46 L375.20,252.09 L375.70,252.70 L376.20,253.30 L376.70,253.88 L377.20,254.44 L377.70,255.00 L378.20,255.54 L378.70,256.08 L379.20,256.60 L379.70,257.12 L380.20,257.62 L380.70,258.12 L381.20,258.62 L381.70,259.10 L382.20,259.59 L382.70,260.07 L383.20,260.54 L383.70,261.02 L384.20,261.49 L384.70,261.96 L385.20,262.43 L385.70,262.91 L386.20,263.39 L386.70,263.87 L387.20,264.35 L387.70,264.84 L388.20,265.33 L388.70,265.84 L389.20,266.34 L389.70,266.86 L390.20,267.39 L390.70,267.92 L391.20,268.47 L391.70,269.02 L392.20,269.58 L392.70,270.15 L393.20,270.72 L393.70,271.30 L394.20,271.89 L394.70,272.48 L395.20,273.08 L395.70,273.68 L396.20,274.29 L396.70,274.90 L397.20,275.52 L397.70,276.13 L398.20,276.75 L398.70,277.37 L399.20,278.00 L399.70,278.62 L400.20,279.24 L400.70,279.87 L401.20,280.49 L401.70,281.12 L402.20,281.74 L402.70,282.36 L403.20,282.98 L403.70,283.59 L404.20,284.21 L404.70,284.82 L405.20,285.42 L405.70,286.02 L406.20,286.62 L406.70,287.22 L407.20,287.81 L407.70,288.39 L408.20,288.97 L408.70,289.55 L409.20,290.13 L409.70,290.70 L410.20,291.26 L410.70,291.82 L411.20,292.38 L411.70,292.94 L412.20,293.49 L412.70,294.03 L413.20,294.57 L413.70,295.11 L414.20,295.64 L414.70,296.17 L415.20,296.69 L415.70,297.21 L416.20,297.72 L416.70,298.24 L417.20,298.74 L417.70,299.24 L418.20,299.74 L418.70,300.23 L419.20,300.72 L419.70,301.20 L420.20,301.68 L420.70,302.15 L421.20,302.62 L421.70,303.08 L422.20,303.54 L422.70,303.99 L423.20,304.44 L423.70,304.89 L424.20,305.33 L424.70,305.76 L425.20,306.19 L425.70,306.61 L426.20,307.03 L426.70,307.45 L427.20,307.85 L427.70,308.26 L428.20,308.66 L428.70,309.05 L429.20,309.44 L429.70,309.82 L430.20,310.20 L430.70,310.57 L431.20,310.94 L431.70,311.30 L432.20,311.65 L432.70,312.01 L433.20,312.35 L433.70,312.69 L434.20,313.03 L434.70,313.36 L435.20,313.69 L435.70,314.01 L436.20,314.33 L436.70,314.64 L437.20,314.95 L437.70,315.25 L438.20,315.55 L438.70,315.84 L439.20,316.13 L439.70,316.41 L440.20,316.69 L440.70,316.97 L441.20,317.24 L441.70,317.50 L442.20,317.77 L442.70,318.02 L443.20,318.28 L443.70,318.53 L444.20,318.77 L444.70,319.01 L445.20,319.25 L445.70,319.48 L446.20,319.71 L446.70,319.93 L447.20,320.15 L447.70,320.37 L448.20,320.58 L448.70,320.79 L449.20,321.00 L449.70,321.20 L450.20,321.39 L450.70,321.59 L451.20,321.78 L451.70,321.96 L452.20,322.15 L452.70,322.32 L453.20,322.50 L453.70,322.67 L454.20,322.84 L454.70,323.00 L455.20,323.17 L455.70,323.32 L456.20,323.48 L456.70,323.63 L457.20,323.78 L457.70,323.92 L458.20,324.07 L458.70,324.21 L459.20,324.34 L459.70,324.47 L460.20,324.60 L460.70,324.73 L461.20,324.85 L461.70,324.97 L462.20,325.09 L462.70,325.21 L463.20,325.32 L463.70,325.43 L464.20,325.54 L464.70,325.64 L465.20,325.74 L465.70,325.84 L466.20,325.94 L466.70,326.03 L467.20,326.12 L467.70,326.21 L468.20,326.30 L468.70,326.38 L469.20,326.46 L469.70,326.54 L470.20,326.62 L470.70,326.70 L471.20,326.77 L471.70,326.84 L472.20,326.91 L472.70,326.97 L473.20,327.04 L473.70,327.10 L474.20,327.16 L474.70,327.22 L475.20,327.28 L475.70,327.33 L476.20,327.38 L476.70,327.44 L477.20,327.49 L477.70,327.53 L478.20,327.58 L478.70,327.62 L479.20,327.67 L479.70,327.71 L480.20,327.75 L480.70,327.79 L481.20,327.82 L481.70,327.86 L482.20,327.89 L482.70,327.92 L483.20,327.96 L483.70,327.99 L484.20,328.02 L484.70,328.04 L485.20,328.07 L485.70,328.10 L486.20,328.12 L486.70,328.14 L487.20,328.17 L487.70,328.19 L488.20,328.21 L488.70,328.23 L489.20,328.25 L489.70,328.26 L490.20,328.28 L490.70,328.30 L491.20,328.31 L491.70,328.33 L492.20,328.34 L492.70,328.36 L493.20,328.37 L493.70,328.39 L494.20,328.40 L494.70,328.41 L495.20,328.42 L495.70,328.43 L496.20,328.44 L496.70,328.46 L497.20,328.47 L497.70,328.48 L498.20,328.49 L498.70,328.50 L499.20,328.51 L499.70,328.52 L500.20,328.53 L500.70,328.54 L501.20,328.55 L501.70,328.56 L502.20,328.57 L502.70,328.58 L503.20,328.59 L503.70,328.60 L504.20,328.61 L504.70,328.62 L505.20,328.63 L505.70,328.65 L506.20,328.66 L506.70,328.67 L507.20,328.69 L507.70,328.70" stroke="#f21c1c"/>
<path d="M303.70,273.40 L304.20,274.09 L304.70,274.78 L305.20,275.47 L305.70,276.16 L306.20,276.85 L306.70,277.54 L307.20,278.23 L307.70,278.93 L308.20,279.62 L308.70,280.31 L309.20,281.00 L309.70,281.69 L310.20,282.37 L310.70,283.03 L311.20,283.70 L311.70,284.36 L312.20,285.01 L312.70,285.66 L313.20,286.30 L313.70,286.94 L314.20,287.59 L314.70,288.23 L315.20,288.88 L315.70,289.53 L316.20,290.18 L316.70,290.81 L317.20,291.43 L317.70,292.02 L318.20,292.59 L318.70,293.13 L319.20,293.66 L319.70,294.16 L320.20,294.66 L320.70,295.14 L321.20,295.61 L321.70,296.08 L322.20,296.54 L322.70,297.00 L323.20,297.46 L323.70,297.91 L324.20,298.36 L324.70,298.80 L325.20,299.23 L325.70,299.65 L326.20,300.06 L326.70,300.46 L327.20,300.84 L327.70,301.21 L328.20,301.57 L328.70,301.93 L329.20,302.28 L329.70,302.64 L330.20,302.99 L330.70,303.34 L331.20,303.70 L331.70,304.06 L332.20,304.42 L332.70,304.77 L333.20,305.13 L333.70,305.48 L334.20,305.83 L334.70,306.17 L335.20,306.51 L335.70,306.84 L336.20,307.16 L336.70,307.48 L337.20,307.80 L337.70,308.11 L338.20,308.42 L338.70,308.72 L339.20,309.02 L339.70,309.31 L340.20,309.60 L340.70,309.88 L341.20,310.15 L341.70,310.42 L342.20,310.68 L342.70,310.94 L343.20,311.20 L343.70,311.44 L344.20,311.69 L344.70,311.93 L345.20,312.16 L345.70,312.39 L346.20,312.61 L346.70,312.83 L347.20,313.04 L347.70,313.25 L348.20,313.46 L348.70,313.66 L349.20,313.85 L349.70,314.05 L350.20,314.24 L350.70,314.43 L351.20,314.61 L351.70,314.80 L352.20,314.99 L352.70,315.17 L353.20,315.35 L353.70,315.53 L354.20,315.71 L354.70,315.89 L355.20,316.06 L355.70,316.24 L356.20,316.41 L356.70,316.57 L357.20,316.74 L357.70,316.90 L358.20,317.06 L358.70,317.22 L359.20,317.38 L359.70,317.54 L360.20,317.69 L360.70,317.84 L361.20,317.99 L361.70,318.13 L362.20,318.27 L362.70,318.40 L363.20,318.53 L363.70,318.65 L364.20,318.76 L364.70,318.88 L365.20,318.99 L365.70,319.09 L366.20,319.20 L366.70,319.31 L367.20,319.41 L367.70,319.51 L368.20,319.62 L368.70,319.72 L369.20,319.83 L369.70,319.94 L370.20,320.05 L370.70,320.17 L371.20,320.29 L371.70,320.41 L372.20,320.53 L372.70,320.65 L373.20,320.78 L373.70,320.90 L374.20,321.02 L374.70,321.15 L375.20,321.27 L375.70,321.39 L376.20,321.51 L376.70,321.62 L377.20,321.74 L377.70,321.85 L378.20,321.97 L378.70,322.09 L379.20,322.20 L379.70,322.32 L380.20,322.43 L380.70,322.55 L381.20,322.67 L381.70,322.78 L382.20,322.89 L382.70,323.01 L383.20,323.12 L383.70,323.23 L384.20,323.34 L384.70,323.45 L385.20,323.56 L385.70,323.67 L386.20,323.77 L386.70,323.87 L387.20,323.97 L387.70,324.07 L388.20,324.17 L388.70,324.26 L389.20,324.36 L389.70,324.45 L390.20,324.53 L390.70,324.62 L391.20,324.70 L391.70,324.78 L392.20,324.86 L392.70,324.94 L393.20,325.02 L393.70,325.09 L394.20,325.17 L394.70,325.24 L395.20,325.31 L395.70,325.38 L396.20,325.45 L396.70,325.52 L397.20,325.59 L397.70,325.66 L398.20,325.73 L398.70,325.80 L399.20,325.87 L399.70,325.94 L400.20,326.00 L400.70,326.07 L401.20,326.14 L401.70,326.21 L402.20,326.27 L402.70,326.34 L403.20,326.40 L403.70,326.46 L404.20,326.53 L404.70,326.59 L405.20,326.65 L405.70,326.71 L406.20,326.77 L406.70,326.83 L407.20,326.89 L407.70,326.95 L408.20,327.00 L408.70,327.06 L409.20,327.12 L409.70,327.17 L410.20,327.23 L410.70,327.28 L411.20,327.34 L411.70,327.39 L412.20,327.44 L412.70,327.49 L413.20,327.54 L413.70,327.59 L414.20,327.64 L414.70,327.69 L415.20,327.73 L415.70,327.77 L416.20,327.82 L416.70,327.86 L417.20,327.90 L417.70,327.93 L418.20,327.97 L418.70,328.01 L419.20,328.04 L419.70,328.08 L420.20,328.11 L420.70,328.14 L421.20,328.18 L421.70,328.21 L422.20,328.24 L422.70,328.27 L423.20,328.31 L423.70,328.34 L424.20,328.37 L424.70,328.40 L425.20,328.43 L425.70,328.46 L426.20,328.50 L426.70,328.53 L427.20,328.56 L427.70,328.59 L428.20,328.62 L428.70,328.65 L429.20,328.68 L429.70,328.72 L430.20,328.75 L430.70,328.78 L431.20,328.80 L431.70,328.83 L432.20,328.86 L432.70,328.89 L433.20,328.91 L433.70,328.94 L434.20,328.96 L434.70,328.99 L435.20,329.01 L435.70,329.03 L436.20,329.05 L436.70,329.07 L437.20,329.09 L437.70,329.11 L438.20,329.13 L438.70,329.15 L439.20,329.17 L439.70,329.19 L440.20,329.21 L440.70,329.22 L441.20,329.24 L441.70,329.26 L442.20,329.28 L442.70,329.29 L443.20,329.31 L443.70,329.33 L444.20,329.34 L444.70,329.36 L445.20,329.37 L445.70,329.39 L446.20,329.41 L446.70,329.42 L447.20,329.44 L447.70,329.45 L448.20,329.47 L448.70,329.48 L449.20,329.50 L449.70,329.51 L450.20,329.53 L450.70,329.54 L451.20,329.56 L451.70,329.57 L452.20,329.59 L452.70,329.60 L453.20,329.62 L453.70,329.63 L454.20,329.65 L454.70,329.67 L455.20,329.68 L455.70,329.70 L456.20,329.71 L456.70,329.73 L457.20,329.74 L457.70,329.76 L458.20,329.77 L458.70,329.79 L459.20,329.80 L459.70,329.82 L460.20,329.83 L460.70,329.85 L461.20,329.86 L461.70,329.87 L462.20,329.89 L462.70,329.90 L463.20,329.92 L463.70,329.93 L464.20,329.95 L464.70,329.96 L465.20,329.97 L465.70,329.99 L466.20,330.00 L466.70,330.01 L467.20,330.03 L467.70,330.04 L468.20,330.05 L468.70,330.07 L469.20,330.08 L469.70,330.09 L470.20,330.10 L470.70,330.12 L471.20,330.13 L471.70,330.14 L472.20,330.15 L472.70,330.16 L473.20,330.17 L473.70,330.18 L474.20,330.19 L474.70,330.20 L475.20,330.21 L475.70,330.22 L476.20,330.23 L476.70,330.24 L477.20,330.25 L477.70,330.26 L478.20,330.27 L478.70,330.28 L479.20,330.29 L479.70,330.30 L480.20,330.30 L480.70,330.31 L481.20,330.32 L481.70,330.33 L482.20,330.33 L482.70,330.34 L483.20,330.35 L483.70,330.36 L484.20,330.36 L484.70,330.37 L485.20,330.38 L485.70,330.38 L486.20,330.39 L486.70,330.40 L487.20,330.40 L487.70,330.41 L488.20,330.42 L488.70,330.43 L489.20,330.43 L489.70,330.44 L490.20,330.45 L490.70,330.45 L491.20,330.46 L491.70,330.46 L492.20,330.47 L492.70,330.48 L493.20,330.48 L493.70,330.49 L494.20,330.49 L494.70,330.50 L495.20,330.50 L495.70,330.51 L496.20,330.52 L496.70,330.52 L497.20,330.53 L497.70,330.53 L498.20,330.54 L498.70,330.54 L499.20,330.54 L499.70,330.55 L500.20,330.55 L500.70,330.56 L501.20,330.56 L501.70,330.57 L502.20,330.57 L502.70,330.57 L503.20,330.58 L503.70,330.58 L504.20,330.58 L504.70,330.59 L505.20,330.59 L505.70,330.59 L506.20,330.59 L506.70,330.60 L507.20,330.60 L507.70,330.60" stroke="#2020f0"/>
<path d="M303.60,310.27 L304.10,309.99 L304.60,309.68 L305.10,309.34 L305.60,308.99 L306.10,308.61 L306.60,308.20 L307.10,307.78 L307.60,307.33 L308.10,306.86 L308.60,306.38 L309.10,305.87 L309.60,305.34 L310.10,304.79 L310.60,304.23 L311.10,303.64 L311.60,303.04 L312.10,302.42 L312.60,301.78 L313.10,301.12 L313.60,300.45 L314.10,299.76 L314.60,299.06 L315.10,298.34 L315.60,297.61 L316.10,296.86 L316.60,296.10 L317.10,295.32 L317.60,294.54 L318.10,293.74 L318.60,292.92 L319.10,292.10 L319.60,291.26 L320.10,290.42 L320.60,289.56 L321.10,288.69 L321.60,287.82 L322.10,286.93 L322.60,286.04 L323.10,285.13 L323.60,284.22 L324.10,283.30 L324.60,282.38 L325.10,281.45 L325.60,280.51 L326.10,279.57 L326.60,278.62 L327.10,277.66 L327.60,276.71 L328.10,275.75 L328.60,274.79 L329.10,273.84 L329.60,272.89 L330.10,271.95 L330.60,271.02 L331.10,270.11 L331.60,269.22 L332.10,268.34 L332.60,267.49 L333.10,266.66 L333.60,265.86 L334.10,265.09 L334.60,264.35 L335.10,263.65 L335.60,262.98 L336.10,262.36 L336.60,261.77 L337.10,261.24 L337.60,260.75 L338.10,260.30 L338.60,259.91 L339.10,259.56 L339.60,259.26 L340.10,259.02 L340.60,258.83 L341.10,258.69 L341.60,258.61 L342.10,258.59 L342.60,258.62 L343.10,258.72 L343.60,258.86 L344.10,259.06 L344.60,259.32 L345.10,259.62 L345.60,259.96 L346.10,260.36 L346.60,260.79 L347.10,261.27 L347.60,261.79 L348.10,262.35 L348.60,262.94 L349.10,263.57 L349.60,264.22 L350.10,264.91 L350.60,265.63 L351.10,266.37 L351.60,267.14 L352.10,267.93 L352.60,268.74 L353.10,269.57 L353.60,270.41 L354.10,271.27 L354.60,272.14 L355.10,273.03 L355.60,273.92 L356.10,274.82 L356.60,275.72 L357.10,276.63 L357.60,277.54 L358.10,278.45 L358.60,279.36 L359.10,280.26 L359.60,281.16 L360.10,282.07 L360.60,282.96 L361.10,283.86 L361.60,284.75 L362.10,285.63 L362.60,286.51 L363.10,287.38 L363.60,288.25 L364.10,289.10 L364.60,289.95 L365.10,290.79 L365.60,291.62 L366.10,292.45 L366.60,293.26 L367.10,294.06 L367.60,294.85 L368.10,295.62 L368.60,296.39 L369.10,297.14 L369.60,297.87 L370.10,298.59 L370.60,299.30 L371.10,299.99 L371.60,300.66 L372.10,301.32 L372.60,301.97 L373.10,302.60 L373.60,303.22 L374.10,303.82 L374.60,304.41 L375.10,304.98 L375.60,305.54 L376.10,306.09 L376.60,306.62 L377.10,307.14 L377.60,307.65 L378.10,308.14 L378.60,308.63 L379.10,309.10 L379.60,309.56 L380.10,310.00 L380.60,310.44 L381.10,310.86 L381.60,311.27 L382.10,311.67 L382.60,312.06 L383.10,312.44 L383.60,312.81 L384.10,313.17 L384.60,313.51 L385.10,313.85 L385.60,314.18 L386.10,314.50 L386.60,314.81 L387.10,315.11 L387.60,315.40 L388.10,315.68 L388.60,315.96 L389.10,316.22 L389.60,316.48 L390.10,316.73 L390.60,316.97 L391.10,317.21 L391.60,317.43 L392.10,317.65 L392.60,317.87 L393.10,318.07 L393.60,318.27 L394.10,318.47 L394.60,318.66 L395.10,318.84 L395.60,319.01 L396.10,319.18 L396.60,319.35 L397.10,319.51 L397.60,319.66 L398.10,319.81 L398.60,319.96 L399.10,320.10 L399.60,320.24 L400.10,320.37 L400.60,320.50 L401.10,320.62 L401.60,320.75 L402.10,320.87 L402.60,320.98 L403.10,321.10 L403.60,321.21 L404.10,321.32 L404.60,321.42 L405.10,321.53 L405.60,321.63 L406.10,321.73 L406.60,321.83 L407.10,321.93 L407.60,322.03 L408.10,322.12 L408.60,322.22 L409.10,322.32 L409.60,322.41 L410.10,322.50 L410.60,322.59 L411.10,322.69 L411.60,322.78 L412.10,322.87 L412.60,322.96 L413.10,323.04 L413.60,323.13 L414.10,323.22 L414.60,323.30 L415.10,323.39 L415.60,323.47 L416.10,323.56 L416.60,323.64 L417.10,323.72 L417.60,323.80 L418.10,323.88 L418.60,323.96 L419.10,324.04 L419.60,324.11 L420.10,324.19 L420.60,324.27 L421.10,324.34 L421.60,324.42 L422.10,324.49 L422.60,324.56 L423.10,324.64 L423.60,324.71 L424.10,324.78 L424.60,324.85 L425.10,324.92 L425.60,324.98 L426.10,325.05 L426.60,325.12 L427.10,325.18 L427.60,325.25 L428.10,325.32 L428.60,325.38 L429.10,325.44 L429.60,325.50 L430.10,325.57 L430.60,325.63 L431.10,325.69 L431.60,325.75 L432.10,325.81 L432.60,325.87 L433.10,325.92 L433.60,325.98 L434.10,326.04 L434.60,326.09 L435.10,326.15 L435.60,326.20 L436.10,326.26 L436.60,326.31 L437.10,326.36 L437.60,326.41 L438.10,326.46 L438.60,326.51 L439.10,326.56 L439.60,326.61 L440.10,326.66 L440.60,326.71 L441.10,326.76 L441.60,326.80 L442.10,326.85 L442.60,326.90 L443.10,326.94 L443.60,326.99 L444.10,327.03 L444.60,327.07 L445.10,327.12 L445.60,327.16 L446.10,327.20 L446.60,327.24 L447.10,327.28 L447.60,327.32 L448.10,327.36 L448.60,327.40 L449.10,327.44 L449.60,327.47 L450.10,327.51 L450.60,327.55 L451.10,327.58 L451.60,327.62 L452.10,327.65 L452.60,327.69 L453.10,327.72 L453.60,327.76 L454.10,327.79 L454.60,327.82 L455.10,327.85 L455.60,327.89 L456.10,327.92 L456.60,327.95 L457.10,327.98 L457.60,328.01 L458.10,328.04 L458.60,328.06 L459.10,328.09 L459.60,328.12 L460.10,328.15 L460.60,328.17 L461.10,328.20 L461.60,328.23 L462.10,328.25 L462.60,328.28 L463.10,328.30 L463.60,328.33 L464.10,328.35 L464.60,328.37 L465.10,328.40 L465.60,328.42 L466.10,328.44 L466.60,328.46 L467.10,328.48 L467.60,328.51 L468.10,328.53 L468.60,328.55 L469.10,328.57 L469.60,328.59 L470.10,328.60 L470.60,328.62 L471.10,328.64 L471.60,328.66 L472.10,328.68 L472.60,328.70 L473.10,328.71 L473.60,328.73 L474.10,328.75 L474.60,328.76 L475.10,328.78 L475.60,328.79 L476.10,328.81 L476.60,328.82 L477.10,328.84 L477.60,328.85 L478.10,328.86 L478.60,328.88 L479.10,328.89 L479.60,328.90 L480.10,328.92 L480.60,328.93 L481.10,328.94 L481.60,328.95 L482.10,328.96 L482.60,328.98 L483.10,328.99 L483.60,329.00 L484.10,329.01 L484.60,329.02 L485.10,329.03 L485.60,329.04 L486.10,329.05 L486.60,329.06 L487.10,329.07 L487.60,329.07 L488.10,329.08 L488.60,329.09 L489.10,329.10 L489.60,329.11 L490.10,329.12 L490.60,329.12 L491.10,329.13 L491.60,329.14 L492.10,329.15 L492.60,329.15 L493.10,329.16 L493.60,329.17 L494.10,329.17 L494.60,329.18 L495.10,329.18 L495.60,329.19 L496.10,329.20 L496.60,329.20 L497.10,329.21 L497.60,329.21 L498.10,329.22 L498.60,329.22 L499.10,329.23 L499.60,329.23 L500.10,329.24 L500.60,329.24 L501.10,329.25 L501.60,329.25 L502.10,329.25 L502.60,329.26 L503.10,329.26 L503.60,329.27 L504.10,329.27 L504.60,329.27 L505.10,329.28 L505.60,329.28 L506.10,329.29 L506.60,329.29 L507.10,329.29 L507.60,329.30" stroke="#209494"/>
<path d="M303.70,329.80 L304.20,329.70 L304.70,329.60 L305.20,329.50 L305.70,329.40 L306.20,329.30 L306.70,329.19 L307.20,329.09 L307.70,328.98 L308.20,328.87 L308.70,328.76 L309.20,328.65 L309.70,328.53 L310.20,328.41 L310.70,328.29 L311.20,328.17 L311.70,328.05 L312.20,327.92 L312.70,327.80 L313.20,327.67 L313.70,327.55 L314.20,327.42 L314.70,327.30 L315.20,327.18 L315.70,327.06 L316.20,326.94 L316.70,326.83 L317.20,326.71 L317.70,326.60 L318.20,326.47 L318.70,326.35 L319.20,326.22 L319.70,326.08 L320.20,325.94 L320.70,325.79 L321.20,325.63 L321.70,325.47 L322.20,325.30 L322.70,325.12 L323.20,324.94 L323.70,324.76 L324.20,324.58 L324.70,324.39 L325.20,324.20 L325.70,324.01 L326.20,323.81 L326.70,323.61 L327.20,323.41 L327.70,323.20 L328.20,322.99 L328.70,322.78 L329.20,322.56 L329.70,322.35 L330.20,322.13 L330.70,321.91 L331.20,321.69 L331.70,321.47 L332.20,321.25 L332.70,321.03 L333.20,320.80 L333.70,320.57 L334.20,320.35 L334.70,320.11 L335.20,319.88 L335.70,319.65 L336.20,319.41 L336.70,319.18 L337.20,318.94 L337.70,318.71 L338.20,318.47 L338.70,318.23 L339.20,317.98 L339.70,317.73 L340.20,317.48 L340.70,317.21 L341.20,316.95 L341.70,316.67 L342.20,316.39 L342.70,316.10 L343.20,315.80 L343.70,315.50 L344.20,315.19 L344.70,314.88 L345.20,314.57 L345.70,314.25 L346.20,313.93 L346.70,313.60 L347.20,313.27 L347.70,312.92 L348.20,312.56 L348.70,312.20 L349.20,311.84 L349.70,311.48 L350.20,311.12 L350.70,310.77 L351.20,310.43 L351.70,310.10 L352.20,309.79 L352.70,309.49 L353.20,309.19 L353.70,308.90 L354.20,308.60 L354.70,308.29 L355.20,307.97 L355.70,307.63 L356.20,307.27 L356.70,306.91 L357.20,306.54 L357.70,306.17 L358.20,305.81 L358.70,305.46 L359.20,305.11 L359.70,304.76 L360.20,304.42 L360.70,304.08 L361.20,303.73 L361.70,303.39 L362.20,303.04 L362.70,302.70 L363.20,302.35 L363.70,302.00 L364.20,301.65 L364.70,301.29 L365.20,300.94 L365.70,300.60 L366.20,300.26 L366.70,299.94 L367.20,299.61 L367.70,299.30 L368.20,298.98 L368.70,298.68 L369.20,298.38 L369.70,298.09 L370.20,297.81 L370.70,297.54 L371.20,297.27 L371.70,297.01 L372.20,296.76 L372.70,296.51 L373.20,296.28 L373.70,296.05 L374.20,295.84 L374.70,295.64 L375.20,295.44 L375.70,295.25 L376.20,295.06 L376.70,294.89 L377.20,294.73 L377.70,294.59 L378.20,294.48 L378.70,294.38 L379.20,294.28 L379.70,294.19 L380.20,294.11 L380.70,294.04 L381.20,293.98 L381.70,293.93 L382.20,293.88 L382.70,293.85 L383.20,293.81 L383.70,293.78 L384.20,293.75 L384.70,293.72 L385.20,293.71 L385.70,293.70 L386.20,293.71 L386.70,293.75 L387.20,293.82 L387.70,293.91 L388.20,294.00 L388.70,294.10 L389.20,294.21 L389.70,294.30 L390.20,294.39 L390.70,294.47 L391.20,294.56 L391.70,294.65 L392.20,294.74 L392.70,294.84 L393.20,294.95 L393.70,295.06 L394.20,295.18 L394.70,295.31 L395.20,295.46 L395.70,295.63 L396.20,295.83 L396.70,296.05 L397.20,296.29 L397.70,296.54 L398.20,296.81 L398.70,297.08 L399.20,297.36 L399.70,297.64 L400.20,297.91 L400.70,298.20 L401.20,298.51 L401.70,298.82 L402.20,299.15 L402.70,299.48 L403.20,299.81 L403.70,300.13 L404.20,300.45 L404.70,300.76 L405.20,301.06 L405.70,301.35 L406.20,301.64 L406.70,301.93 L407.20,302.21 L407.70,302.50 L408.20,302.80 L408.70,303.09 L409.20,303.40 L409.70,303.71 L410.20,304.03 L410.70,304.35 L411.20,304.68 L411.70,305.01 L412.20,305.34 L412.70,305.68 L413.20,306.02 L413.70,306.36 L414.20,306.71 L414.70,307.06 L415.20,307.41 L415.70,307.77 L416.20,308.13 L416.70,308.49 L417.20,308.86 L417.70,309.23 L418.20,309.59 L418.70,309.96 L419.20,310.33 L419.70,310.69 L420.20,311.06 L420.70,311.42 L421.20,311.77 L421.70,312.13 L422.20,312.49 L422.70,312.85 L423.20,313.20 L423.70,313.57 L424.20,313.93 L424.70,314.30 L425.20,314.68 L425.70,315.08 L426.20,315.49 L426.70,315.90 L427.20,316.31 L427.70,316.71 L428.20,317.10 L428.70,317.47 L429.20,317.81 L429.70,318.12 L430.20,318.41 L430.70,318.69 L431.20,318.96 L431.70,319.22 L432.20,319.46 L432.70,319.70 L433.20,319.94 L433.70,320.18 L434.20,320.41 L434.70,320.65 L435.20,320.89 L435.70,321.13 L436.20,321.37 L436.70,321.60 L437.20,321.84 L437.70,322.07 L438.20,322.29 L438.70,322.51 L439.20,322.73 L439.70,322.94 L440.20,323.15 L440.70,323.36 L441.20,323.56 L441.70,323.76 L442.20,323.96 L442.70,324.16 L443.20,324.34 L443.70,324.52 L444.20,324.70 L444.70,324.87 L445.20,325.03 L445.70,325.19 L446.20,325.34 L446.70,325.49 L447.20,325.64 L447.70,325.78 L448.20,325.92 L448.70,326.05 L449.20,326.18 L449.70,326.30 L450.20,326.41 L450.70,326.52 L451.20,326.63 L451.70,326.73 L452.20,326.84 L452.70,326.93 L453.20,327.03 L453.70,327.13 L454.20,327.22 L454.70,327.31 L455.20,327.40 L455.70,327.49 L456.20,327.58 L456.70,327.66 L457.20,327.74 L457.70,327.82 L458.20,327.90 L458.70,327.97 L459.20,328.04 L459.70,328.11 L460.20,328.17 L460.70,328.24 L461.20,328.30 L461.70,328.36 L462.20,328.42 L462.70,328.48 L463.20,328.54 L463.70,328.60 L464.20,328.65 L464.70,328.71 L465.20,328.76 L465.70,328.81 L466.20,328.87 L466.70,328.92 L467.20,328.97 L467.70,329.02 L468.20,329.07 L468.70,329.12 L469.20,329.17 L469.70,329.22 L470.20,329.27 L470.70,329.32 L471.20,329.37 L471.70,329.42 L472.20,329.47 L472.70,329.51 L473.20,329.56 L473.70,329.61 L474.20,329.66 L474.70,329.70 L475.20,329.75 L475.70,329.79 L476.20,329.83 L476.70,329.87 L477.20,329.91 L477.70,329.95 L478.20,329.98 L478.70,330.02 L479.20,330.05 L479.70,330.08 L480.20,330.11 L480.70,330.14 L481.20,330.17 L481.70,330.20 L482.20,330.23 L482.70,330.25 L483.20,330.28 L483.70,330.31 L484.20,330.34 L484.70,330.37 L485.20,330.39 L485.70,330.42 L486.20,330.45 L486.70,330.47 L487.20,330.50 L487.70,330.53 L488.20,330.55 L488.70,330.58 L489.20,330.61 L489.70,330.63 L490.20,330.66 L490.70,330.68 L491.20,330.70 L491.70,330.73 L492.20,330.75 L492.70,330.77 L493.20,330.80 L493.70,330.82 L494.20,330.84 L494.70,330.86 L495.20,330.88 L495.70,330.90 L496.20,330.92 L496.70,330.94 L497.20,330.96 L497.70,330.98 L498.20,331.00 L498.70,331.01 L499.20,331.03 L499.70,331.05 L500.20,331.06 L500.70,331.08 L501.20,331.09 L501.70,331.10 L502.20,331.11 L502.70,331.13 L503.20,331.14 L503.70,331.15 L504.20,331.16 L504.70,331.16 L505.20,331.17 L505.70,331.18 L506.20,331.19 L506.70,331.19 L507.20,331.20 L507.70,331.20" stroke="#f020f0"/>
</g>
<rect x="303.60" y="187.40" width="204.20" height="148.10" fill="none" stroke="#1e1e1e" stroke-width="1.4"/>
<text x="303.60" y="346.30" text-anchor="middle" font-size="9" fill="#2a2a2a" font-family='"Liberation Sans", sans-serif'>450</text>
<line x1="324.02" y1="335.50" x2="324.02" y2="332.30" stroke="#1e1e1e" stroke-width="1"/>
<text x="324.02" y="346.30" text-anchor="middle" font-size="9" fill="#2a2a2a" font-family='"Liberation Sans", sans-serif'>500</text>
<line x1="344.44" y1="335.50" x2="344.44" y2="332.30" stroke="#1e1e1e" stroke-width="1"/>
<text x="344.44" y="346.30" text-anchor="middle" font-size="9" fill="#2a2a2a" font-family='"Liberation Sans", sans-serif'>550</text>
<line x1="364.86" y1="335.50" x2="364.86" y2="332.30" stroke="#1e1e1e" stroke-width="1"/>
<text x="364.86" y="346.30" text-anchor="middle" font-size="9" fill="#2a2a2a" font-family='"Liberation Sans", sans-serif'>600</text>
<line x1="385.28" y1="335.50" x2="385.28" y2="332.30" stroke="#1e1e1e" stroke-width="1"/>
<text x="385.28" y="346.30" text-anchor="middle" font-size="9" fill="#2a2a2a" font-family='"Liberation Sans", sans-serif'>650</text>
<line x1="405.70" y1="335.50" x2="405.70" y2="332.30" stroke="#1e1e1e" stroke-width="1"/>
<text x="405.70" y="346.30" text-anchor="middle" font-size="9" fill="#2a2a2a" font-family='"Liberation Sans", sans-serif'>700</text>
<line x1="426.12" y1="335.50" x2="426.12" y2="332.30" stroke="#1e1e1e" stroke-width="1"/>
<text x="426.12" y="346.30" text-anchor="middle" font-size="9" fill="#2a2a2a" font-family='"Liberation Sans", sans-serif'>750</text>
<line x1="446.54" y1="335.50" x2="446.54" y2="332.30" stroke="#1e1e1e" stroke-width="1"/>
<text x="446.54" y="346.30" text-anchor="middle" font-size="9" fill="#2a2a2a" font-family='"Liberation Sans", sans-serif'>800</text>
<line x1="466.96" y1="335.50" x2="466.96" y2="332.30" stroke="#1e1e1e" stroke-width="1"/>
<text x="466.96" y="346.30" text-anchor="middle" font-size="9" fill="#2a2a2a" font-family='"Liberation Sans", sans-serif'>850</text>
<line x1="487.38" y1="335.50" x2="487.38" y2="332.30" stroke="#1e1e1e" stroke-width="1"/>
<text x="487.38" y="346.30" text-anchor="middle" font-size="9" fill="#2a2a2a" font-family='"Liberation Sans", sans-serif'>900</text>
<text x="507.80" y="346.30" text-anchor="middle" font-size="9" fill="#2a2a2a" font-family='"Liberation Sans", sans-serif'>950</text>
<line x1="303.60" y1="330.80" x2="306.80" y2="330.80" stroke="#1e1e1e" stroke-width="1"/>
<text x="299.90" y="333.30" text-anchor="end" font-size="9" fill="#2a2a2a" font-family='"Liberation Sans", sans-serif'>0.00</text>
<line x1="303.60" y1="306.90" x2="306.80" y2="306.90" stroke="#1e1e1e" stroke-width="1"/>
<text x="299.90" y="309.40" text-anchor="end" font-size="9" fill="#2a2a2a" font-family='"Liberation Sans", sans-serif'>0.05</text>
<line x1="303.60" y1="283.00" x2="306.80" y2="283.00" stroke="#1e1e1e" stroke-width="1"/>
<text x="299.90" y="285.50" text-anchor="end" font-size="9" fill="#2a2a2a" font-family='"Liberation Sans", sans-serif'>0.10</text>
<line x1="303.60" y1="259.10" x2="306.80" y2="259.10" stroke="#1e1e1e" stroke-width="1"/>
<text x="299.90" y="261.60" text-anchor="end" font-size="9" fill="#2a2a2a" font-family='"Liberation Sans", sans-serif'>0.15</text>
<line x1="303.60" y1="235.20" x2="306.80" y2="235.20" stroke="#1e1e1e" stroke-width="1"/>
<text x="299.90" y="237.70" text-anchor="end" font-size="9" fill="#2a2a2a" font-family='"Liberation Sans", sans-serif'>0.20</text>
<line x1="303.60" y1="211.30" x2="306.80" y2="211.30" stroke="#1e1e1e" stroke-width="1"/>
<text x="299.90" y="213.80" text-anchor="end" font-size="9" fill="#2a2a2a" font-family='"Liberation Sans", sans-serif'>0.25</text>
<text x="299.90" y="189.90" text-anchor="end" font-size="9" fill="#2a2a2a" font-family='"Liberation Sans", sans-serif'>0.30</text>
<text x="404.45" y="357.20" text-anchor="middle" font-size="9.35" fill="#2a2a2a" font-family='"Liberation Sans", sans-serif'>Wavelength (nm)</text>
<text transform="translate(274.50,264.70) rotate(-90)" text-anchor="middle" font-size="9.3" fill="#2a2a2a" font-family='"Liberation Sans", sans-serif'>Extinction (A.U.)</text>
<text x="311.40" y="205.10" font-size="14.2" font-weight="bold" fill="#111" stroke="#111" stroke-width="0.35" font-family='"Liberation Serif", serif'>(d)</text>
<rect x="368.60" y="190.80" width="101.80" height="43.80" fill="#fff" stroke="#9a9a9a" stroke-width="0.9"/>
<line x1="371.20" y1="196.30" x2="387.90" y2="196.30" stroke="#1a1a1a" stroke-width="1.3" stroke-dasharray="5,4.2"/>
<text x="390.00" y="198.80" font-size="7.2" fill="#2a2a2a" font-family='"Liberation Sans", sans-serif'>Data</text>
<line x1="371.20" y1="204.85" x2="387.90" y2="204.85" stroke="#f21c1c" stroke-width="1.3"/>
<text x="390.00" y="207.35" font-size="7.2" fill="#2a2a2a" font-family='"Liberation Sans", sans-serif'>Theoretical model fitting</text>
<line x1="371.20" y1="213.40" x2="387.90" y2="213.40" stroke="#2020f0" stroke-width="1.3"/>
<text x="390.00" y="215.90" font-size="7.2" fill="#2a2a2a" font-family='"Liberation Sans", sans-serif'>Interband absorption</text>
<line x1="371.20" y1="221.95" x2="387.90" y2="221.95" stroke="#209494" stroke-width="1.3"/>
<text x="390.00" y="224.45" font-size="7.2" fill="#2a2a2a" font-family='"Liberation Sans", sans-serif'>Non-interacting PR band</text>
<line x1="371.20" y1="230.50" x2="387.90" y2="230.50" stroke="#f020f0" stroke-width="1.3"/>
<text x="390.00" y="233.00" font-size="7.2" fill="#2a2a2a" font-family='"Liberation Sans", sans-serif'>Coupled PR band</text>
<text text-anchor="middle" font-size="10.4" font-weight="bold" fill="#1414fa" stroke="#1414fa" stroke-width="0.3" font-family='"Liberation Serif", serif'><tspan x="451.30" y="249.60">surface coverage</tspan><tspan x="451.30" y="261.60">18.6%</tspan></text>
<text text-anchor="middle" font-size="10.4" font-weight="bold" fill="#fc1010" stroke="#fc1010" stroke-width="0.3" font-family='"Liberation Serif", serif'><tspan x="459.40" y="274.40">Average</tspan><tspan x="459.40" y="286.40">interparticle distance</tspan><tspan x="459.40" y="298.40">34.4 nm</tspan></text>
<rect x="55.00" y="508.15" width="9.60" height="10.55" fill="#000"/>
<rect x="65.00" y="503.93" width="9.70" height="14.77" fill="#1414fa"/>
<rect x="126.50" y="444.85" width="9.80" height="73.85" fill="#000"/>
<rect x="136.70" y="481.78" width="9.80" height="36.93" fill="#1414fa"/>
<rect x="174.40" y="434.30" width="9.80" height="84.40" fill="#000"/>
<rect x="184.60" y="393.16" width="9.90" height="125.55" fill="#1414fa"/>
<rect x="207.80" y="402.65" width="9.80" height="116.05" fill="#000"/>
<rect x="218.00" y="385.77" width="9.90" height="132.93" fill="#1414fa"/>
<polyline points="239.70,371.00 39.50,371.00 39.50,518.70 239.70,518.70" fill="none" stroke="#1e1e1e" stroke-width="1.4"/>
<polyline points="239.70,371.00 243.40,371.00 243.40,518.70 239.70,518.70" fill="none" stroke="#1414fa" stroke-width="1.3" stroke-linejoin="round"/>
<text x="60.00" y="529.60" text-anchor="middle" font-size="8.6" fill="#2a2a2a" font-family='"Liberation Sans", sans-serif'>12</text>
<line x1="83.90" y1="518.70" x2="83.90" y2="515.50" stroke="#1e1e1e" stroke-width="1"/>
<text x="83.90" y="529.60" text-anchor="middle" font-size="8.6" fill="#2a2a2a" font-family='"Liberation Sans", sans-serif'>13</text>
<line x1="107.80" y1="518.70" x2="107.80" y2="515.50" stroke="#1e1e1e" stroke-width="1"/>
<text x="107.80" y="529.60" text-anchor="middle" font-size="8.6" fill="#2a2a2a" font-family='"Liberation Sans", sans-serif'>14</text>
<text x="131.70" y="529.60" text-anchor="middle" font-size="8.6" fill="#2a2a2a" font-family='"Liberation Sans", sans-serif'>15</text>
<line x1="155.60" y1="518.70" x2="155.60" y2="515.50" stroke="#1e1e1e" stroke-width="1"/>
<text x="155.60" y="529.60" text-anchor="middle" font-size="8.6" fill="#2a2a2a" font-family='"Liberation Sans", sans-serif'>16</text>
<text x="179.50" y="529.60" text-anchor="middle" font-size="8.6" fill="#2a2a2a" font-family='"Liberation Sans", sans-serif'>17</text>
<line x1="203.40" y1="518.70" x2="203.40" y2="515.50" stroke="#1e1e1e" stroke-width="1"/>
<text x="203.40" y="529.60" text-anchor="middle" font-size="8.6" fill="#2a2a2a" font-family='"Liberation Sans", sans-serif'>18</text>
<text x="227.30" y="529.60" text-anchor="middle" font-size="8.6" fill="#2a2a2a" font-family='"Liberation Sans", sans-serif'>19</text>
<text x="35.90" y="521.90" text-anchor="end" font-size="8.9" fill="#2a2a2a" font-family='"Liberation Sans", sans-serif'>532</text>
<line x1="39.50" y1="497.60" x2="42.80" y2="497.60" stroke="#1e1e1e" stroke-width="1"/>
<text x="35.90" y="500.80" text-anchor="end" font-size="8.9" fill="#2a2a2a" font-family='"Liberation Sans", sans-serif'>534</text>
<line x1="39.50" y1="476.50" x2="42.80" y2="476.50" stroke="#1e1e1e" stroke-width="1"/>
<text x="35.90" y="479.70" text-anchor="end" font-size="8.9" fill="#2a2a2a" font-family='"Liberation Sans", sans-serif'>536</text>
<line x1="39.50" y1="455.40" x2="42.80" y2="455.40" stroke="#1e1e1e" stroke-width="1"/>
<text x="35.90" y="458.60" text-anchor="end" font-size="8.9" fill="#2a2a2a" font-family='"Liberation Sans", sans-serif'>538</text>
<line x1="39.50" y1="434.30" x2="42.80" y2="434.30" stroke="#1e1e1e" stroke-width="1"/>
<text x="35.90" y="437.50" text-anchor="end" font-size="8.9" fill="#2a2a2a" font-family='"Liberation Sans", sans-serif'>540</text>
<line x1="39.50" y1="413.20" x2="42.80" y2="413.20" stroke="#1e1e1e" stroke-width="1"/>
<text x="35.90" y="416.40" text-anchor="end" font-size="8.9" fill="#2a2a2a" font-family='"Liberation Sans", sans-serif'>542</text>
<line x1="39.50" y1="392.10" x2="42.80" y2="392.10" stroke="#1e1e1e" stroke-width="1"/>
<text x="35.90" y="395.30" text-anchor="end" font-size="8.9" fill="#2a2a2a" font-family='"Liberation Sans", sans-serif'>544</text>
<text x="35.90" y="374.20" text-anchor="end" font-size="8.9" fill="#2a2a2a" font-family='"Liberation Sans", sans-serif'>546</text>
<text x="246.90" y="521.90" font-size="8.8" fill="#1414fa" font-family='"Liberation Sans", sans-serif'>164</text>
<line x1="243.40" y1="503.93" x2="240.20" y2="503.93" stroke="#1414fa" stroke-width="1"/>
<text x="246.90" y="507.13" font-size="8.8" fill="#1414fa" font-family='"Liberation Sans", sans-serif'>166</text>
<line x1="243.40" y1="489.16" x2="240.20" y2="489.16" stroke="#1414fa" stroke-width="1"/>
<text x="246.90" y="492.36" font-size="8.8" fill="#1414fa" font-family='"Liberation Sans", sans-serif'>168</text>
<line x1="243.40" y1="474.39" x2="240.20" y2="474.39" stroke="#1414fa" stroke-width="1"/>
<text x="246.90" y="477.59" font-size="8.8" fill="#1414fa" font-family='"Liberation Sans", sans-serif'>170</text>
<line x1="243.40" y1="459.62" x2="240.20" y2="459.62" stroke="#1414fa" stroke-width="1"/>
<text x="246.90" y="462.82" font-size="8.8" fill="#1414fa" font-family='"Liberation Sans", sans-serif'>172</text>
<line x1="243.40" y1="444.85" x2="240.20" y2="444.85" stroke="#1414fa" stroke-width="1"/>
<text x="246.90" y="448.05" font-size="8.8" fill="#1414fa" font-family='"Liberation Sans", sans-serif'>174</text>
<line x1="243.40" y1="430.08" x2="240.20" y2="430.08" stroke="#1414fa" stroke-width="1"/>
<text x="246.90" y="433.28" font-size="8.8" fill="#1414fa" font-family='"Liberation Sans", sans-serif'>176</text>
<line x1="243.40" y1="415.31" x2="240.20" y2="415.31" stroke="#1414fa" stroke-width="1"/>
<text x="246.90" y="418.51" font-size="8.8" fill="#1414fa" font-family='"Liberation Sans", sans-serif'>178</text>
<line x1="243.40" y1="400.54" x2="240.20" y2="400.54" stroke="#1414fa" stroke-width="1"/>
<text x="246.90" y="403.74" font-size="8.8" fill="#1414fa" font-family='"Liberation Sans", sans-serif'>180</text>
<line x1="243.40" y1="385.77" x2="240.20" y2="385.77" stroke="#1414fa" stroke-width="1"/>
<text x="246.90" y="388.97" font-size="8.8" fill="#1414fa" font-family='"Liberation Sans", sans-serif'>182</text>
<text x="246.90" y="374.20" font-size="8.8" fill="#1414fa" font-family='"Liberation Sans", sans-serif'>184</text>
<text x="141.00" y="544.20" text-anchor="middle" font-size="9.2" fill="#2a2a2a" font-family='"Liberation Sans", sans-serif'>Surface coverage (%)</text>
<text transform="translate(13.8,451.5) rotate(-90)" text-anchor="middle" font-size="9.2" fill="#2a2a2a" font-family='"Liberation Sans", sans-serif'>&#955;<tspan font-size="6" dy="2">R</tspan><tspan dy="-2"> (nm)</tspan></text>
<text transform="translate(272.7,452.5) rotate(-90)" text-anchor="middle" font-size="6.6" fill="#1414fa" font-family='"Liberation Sans", sans-serif'>W<tspan font-size="4.8" dy="2.6">int</tspan></text>
<text x="54.2" y="388.5" font-size="14.2" font-weight="bold" fill="#111" stroke="#111" stroke-width="0.35" font-family='"Liberation Serif", serif'>(e)</text>
</svg></body></html>
